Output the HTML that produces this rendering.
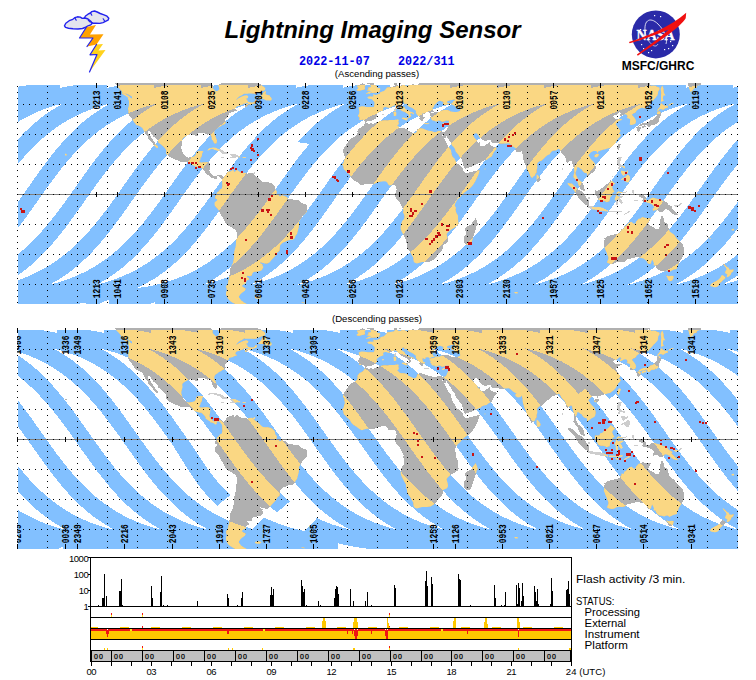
<!DOCTYPE html>
<html><head><meta charset="utf-8"><title>Lightning Imaging Sensor</title>
<style>html,body{margin:0;padding:0;background:#fff}svg{display:block}.pl{font-family:"Liberation Mono","DejaVu Sans Mono",monospace;font-size:7.9px;font-weight:bold;fill:#000}text{font-family:"Liberation Sans",Arial,sans-serif}</style></head><body>
<svg width="756" height="680" viewBox="0 0 756 680">
<rect width="756" height="680" fill="#fff"/>
<g stroke="#2222ee" stroke-width="1.4" fill="#e4e4ee" stroke-linejoin="round">
<polygon points="84.3,18.0 85.5,16.0 88.0,14.2 90.4,13.0 91.8,11.6 94.5,11.0 97.2,12.0 100.2,13.5 104.0,14.8 107.0,16.2 108.8,18.2 108.0,20.2 105.5,21.4 103.0,22.6 99.8,23.4 96.0,23.2 93.0,23.2 90.0,22.0 87.5,20.5 85.0,19.2"/>
<polygon points="64.5,25.8 65.8,23.2 69.2,20.7 72.8,19.3 74.8,17.7 77.5,16.8 80.3,17.1 82.2,18.4 85.0,18.0 88.0,19.0 90.5,21.0 92.2,23.2 90.8,24.8 88.0,25.8 85.0,27.5 82.5,28.5 78.0,29.0 73.0,28.8 68.5,28.2 65.5,27.4"/>
</g>
<g stroke="#2222ee" stroke-width="1.2" fill="none" stroke-linecap="round">
<polyline points="75.0,18.0 76.2,20.2"/>
<polyline points="90.6,13.0 91.8,15.2"/>
<polyline points="103.2,18.8 104.6,21.0"/>
<polyline points="88.3,20.2 90.2,22.0"/>
</g>
<polygon points="86.5,27.0 96.0,25.0 90.0,34.5 103.5,34.2 96.5,44.5 87.0,46.5 93.0,38.0 79.5,38.0" fill="#ffa200"/>
<polygon points="96.5,44.5 103.0,44.0 98.5,50.5 105.5,50.0 89.5,72.0 97.0,54.5 90.0,54.8" fill="#ffd21e"/>
<g stroke="#2222ee" stroke-width="1.2" fill="none" stroke-linecap="round" stroke-linejoin="round">
<polyline points="86.5,27.0 79.5,38.0 93.0,38.0 87.0,46.5"/>
<polyline points="96.5,44.5 90.0,54.8 97.0,54.5 89.5,72.0"/>
</g>
<text x="372.5" y="37.5" text-anchor="middle" style="font-family:'Liberation Sans',Arial,sans-serif;font-weight:bold;font-style:italic;font-size:24px" fill="#000">Lightning Imaging Sensor</text>
<text x="299" y="64.8" xml:space="preserve" style="font-family:'Liberation Mono',monospace;font-weight:bold;font-size:11.8px;white-space:pre" fill="#0000e6" transform="translate(0,64.8) scale(1,1.12) translate(0,-64.8)">2022-11-07    2022/311</text>
<text x="377" y="76.8" text-anchor="middle" style="font-size:9.6px" fill="#000">(Ascending passes)</text>
<text x="377" y="321.8" text-anchor="middle" style="font-size:9.6px" fill="#000">(Descending passes)</text>
<circle cx="655.8" cy="34.4" r="24" fill="#2a2aa8"/>
<path d="M646,36 C642,20 650,16 658,24 C664,30 668,38 666,44" fill="none" stroke="#fff" stroke-width="0.8"/>
<path d="M648,40 C652,46 656,48 658,44" fill="none" stroke="#fff" stroke-width="0.6"/>
<rect x="654" y="15" width="1.2" height="1.2" fill="#fff"/>
<rect x="660" y="16" width="1.2" height="1.2" fill="#fff"/>
<rect x="641" y="44" width="1.2" height="1.2" fill="#fff"/>
<rect x="643" y="48" width="1.2" height="1.2" fill="#fff"/>
<rect x="648" y="52" width="1.2" height="1.2" fill="#fff"/>
<rect x="651" y="50" width="1.2" height="1.2" fill="#fff"/>
<rect x="668" y="48" width="1.2" height="1.2" fill="#fff"/>
<rect x="672" y="45" width="1.2" height="1.2" fill="#fff"/>
<rect x="664" y="49" width="1.2" height="1.2" fill="#fff"/>
<rect x="670" y="41" width="1.2" height="1.2" fill="#fff"/>
<rect x="640" y="29" width="1.2" height="1.2" fill="#fff"/>
<text x="655.6" y="39.6" text-anchor="middle" style="font-family:'Liberation Serif',serif;font-weight:bold;font-size:14.5px" fill="#fff" stroke="#fff" stroke-width="0.35" textLength="38" lengthAdjust="spacingAndGlyphs">NASA</text>
<path d="M686.2,12.7 L685.7,18.3 C680.1,27.1 662.9,39.0 637.8,55.7 L636.9,54.4 C648.4,46.3 659.6,37.7 668.9,29.4 C655.6,34.7 642.4,39.7 629.7,43.3 L628.9,41.9 C649.7,35.4 670.2,26.5 686.2,12.7 Z" fill="#f01010"/>
<text x="658" y="70" text-anchor="middle" style="font-weight:bold;font-size:12px" fill="#000">MSFC/GHRC</text>
<defs><clipPath id="mc1"><rect x="18" y="83" width="720" height="221"/></clipPath>
<clipPath id="lc1"><path d="M107.0,78.0 114.0,83.0 116.4,85.4 119.0,88.0 121.4,91.0 122.0,92.4 127.0,94.0 130.6,95.6 132.0,96.4 132.2,99.0 130.0,97.6 127.6,97.2 128.8,100.4 129.0,102.0 128.8,106.0 128.0,108.4 128.6,112.0 128.2,113.2 129.4,115.4 131.0,117.6 132.0,118.4 132.2,119.6 133.2,120.8 134.4,122.6 135.8,124.0 135.8,125.0 138.4,125.6 140.2,126.4 142.4,128.0 142.8,129.0 143.8,130.6 145.0,133.0 146.6,135.0 148.6,137.0 147.4,138.4 149.6,140.4 152.2,142.0 153.0,144.4 155.4,146.8 157.0,148.2 158.0,147.6 157.8,146.0 155.8,144.8 155.0,142.4 153.0,140.0 151.4,137.6 149.8,135.6 148.0,133.6 147.4,130.8 149.0,131.0 150.6,131.6 151.8,134.4 153.6,136.8 155.8,138.4 157.6,140.6 158.6,142.8 161.0,144.4 163.4,146.4 165.4,148.8 166.4,151.0 166.0,153.0 167.0,155.0 169.4,156.8 172.6,158.2 175.0,159.6 177.4,160.4 180.0,161.4 183.0,162.2 185.0,162.6 187.0,161.8 189.0,162.0 191.0,163.6 192.6,165.0 195.0,166.2 197.0,166.8 199.0,167.4 201.4,167.8 202.0,168.2 203.8,170.0 205.4,171.8 205.6,173.6 207.0,174.4 208.0,175.2 209.8,176.2 210.6,177.4 211.6,177.6 213.0,177.8 214.0,178.6 215.2,179.4 216.4,179.2 217.0,178.0 216.4,177.2 217.8,176.2 219.0,176.4 220.4,177.6 221.0,178.8 221.8,179.6 222.2,181.0 222.2,183.0 222.4,186.0 221.8,188.4 219.8,189.4 219.2,191.0 217.0,192.4 216.6,194.0 215.8,195.6 215.2,197.0 215.4,198.6 217.0,199.2 217.2,200.6 216.2,201.0 214.6,202.6 214.6,205.0 215.4,206.6 217.4,208.4 219.0,210.8 220.4,213.6 221.8,216.4 223.4,218.8 224.6,221.2 226.0,223.6 228.6,225.6 231.8,227.6 234.4,229.2 236.2,230.8 236.8,234.0 236.6,238.0 236.0,242.0 235.8,246.0 234.4,251.0 234.0,255.0 233.8,259.0 233.0,263.0 231.4,266.0 230.2,268.8 230.2,272.0 229.4,275.0 229.4,277.6 228.6,280.0 228.0,283.0 226.0,286.6 227.0,290.0 226.0,294.0 227.0,297.0 228.6,299.6 231.0,301.6 233.0,302.8 236.0,304.4 240.0,305.6 243.4,304.8 246.6,303.8 244.0,302.4 241.0,300.4 240.0,299.0 238.6,297.0 239.8,294.8 241.8,292.8 245.0,290.4 245.6,288.4 243.0,287.2 241.8,286.0 243.8,284.2 246.0,283.2 246.6,280.8 248.2,279.8 249.6,279.2 248.6,278.0 247.0,277.0 247.0,275.8 249.4,276.2 251.8,275.6 252.6,273.0 254.0,271.8 258.0,271.4 261.4,270.4 263.0,268.0 263.4,266.8 262.4,265.6 262.6,264.4 260.4,263.2 260.2,262.0 262.0,262.8 265.0,263.6 267.4,263.6 269.8,262.2 271.4,260.0 274.0,257.2 276.0,255.0 277.4,252.6 279.6,250.6 279.8,247.6 280.2,245.2 282.4,243.0 285.0,241.8 287.4,240.6 290.6,240.0 293.0,239.8 295.0,238.0 295.4,236.0 297.0,234.0 297.8,231.0 298.6,228.0 299.0,225.0 299.0,222.0 300.0,220.0 301.4,218.0 303.0,215.6 305.0,214.0 306.6,212.0 307.2,210.0 307.4,208.0 307.0,206.0 306.4,204.4 304.0,204.0 302.0,203.2 300.0,201.4 297.4,199.8 294.6,199.8 292.0,199.4 289.4,198.8 287.8,199.6 287.4,197.6 285.0,196.2 282.0,195.2 280.0,196.4 278.0,194.6 276.4,193.6 277.0,191.6 275.4,189.6 274.6,186.0 273.0,184.4 271.0,183.0 268.0,182.2 265.4,182.2 263.0,182.0 261.0,180.4 259.0,178.2 257.0,177.0 255.0,175.4 253.4,174.0 252.0,172.8 249.4,173.0 247.4,173.8 245.0,172.8 242.0,173.0 240.4,172.2 238.6,171.0 237.0,169.8 235.8,171.0 234.4,172.0 233.4,170.8 234.4,169.4 232.6,170.0 230.6,171.4 228.4,171.6 227.0,172.2 225.8,173.6 225.4,175.4 223.4,176.8 222.6,176.4 221.4,175.4 219.4,175.0 217.8,174.8 216.2,175.8 214.6,176.4 213.4,176.0 212.2,175.2 211.0,174.0 209.8,172.2 209.4,170.4 210.0,168.4 210.2,166.0 210.6,164.0 209.0,162.4 207.0,162.2 205.0,162.2 203.0,162.4 201.0,162.6 199.8,162.2 199.2,161.4 200.4,159.6 200.6,157.4 201.4,157.2 202.0,155.0 202.2,153.2 203.4,151.6 202.2,151.0 200.0,151.0 197.4,151.4 196.2,152.4 195.8,154.4 194.6,156.2 193.0,156.8 191.0,157.2 188.6,157.6 187.0,157.0 185.4,156.4 184.2,155.2 183.0,153.4 182.0,151.0 181.4,149.0 181.4,146.4 182.0,144.0 182.6,142.0 182.2,139.6 183.0,138.0 185.0,136.8 187.0,135.6 189.0,134.8 191.0,134.4 193.0,134.8 195.0,135.6 196.6,135.8 198.2,136.0 198.6,135.0 197.8,133.6 200.0,133.2 202.0,133.4 204.4,133.2 206.0,134.0 207.0,134.8 208.6,134.0 209.8,134.6 211.4,136.0 211.6,138.0 211.8,139.4 213.0,140.8 213.6,142.2 214.6,143.6 216.2,143.6 216.8,142.4 217.0,140.4 216.2,138.4 215.8,137.0 214.8,135.0 214.2,133.0 214.6,131.0 215.6,129.4 217.4,128.4 219.0,127.0 221.0,126.2 222.6,124.8 224.2,124.4 225.4,123.6 225.6,122.2 225.0,120.2 224.4,119.0 225.4,118.8 226.6,117.4 227.0,116.4 227.4,115.8 228.8,114.4 229.0,113.0 231.0,112.4 233.0,112.0 234.6,111.0 235.8,110.8 237.0,110.6 236.6,109.8 235.4,109.2 235.6,107.8 236.6,106.6 238.6,106.0 240.6,105.2 242.6,104.6 243.2,103.8 245.4,103.4 247.4,102.8 248.2,103.4 245.4,104.8 244.8,106.4 246.2,107.0 248.6,105.0 251.0,104.4 254.0,103.6 256.6,102.4 257.0,100.8 255.8,100.0 254.2,102.2 252.0,102.6 249.6,102.2 247.8,101.4 247.2,99.8 245.6,98.6 247.4,98.2 248.4,96.4 247.0,95.6 244.0,95.8 241.0,97.0 238.0,98.8 236.0,100.0 237.4,98.0 239.4,96.2 242.0,95.0 244.0,93.6 247.0,93.4 250.0,93.4 253.0,93.6 256.0,93.6 258.4,92.4 261.0,91.4 263.0,91.0 265.0,90.0 265.4,88.4 264.0,86.8 262.4,86.0 261.0,84.6 258.0,83.4 256.0,82.4 254.0,80.0 253.0,78.0 223.0,78.0 222.0,80.0 223.8,82.0 221.0,83.6 218.0,85.0 219.0,87.0 219.4,89.0 218.0,90.8 216.0,91.4 214.0,89.6 212.6,88.0 212.6,85.0 212.0,83.6 207.0,83.2 202.0,82.0 199.0,80.4 193.0,79.6 191.0,77.0ZM258.4,98.6 261.0,98.8 264.0,99.0 266.0,100.2 269.0,100.4 271.0,100.6 271.6,99.0 271.0,97.6 269.8,96.4 270.0,95.4 267.4,95.0 265.4,94.0 265.8,92.4 266.0,90.8 264.0,92.0 262.4,93.6 261.2,95.4 260.0,96.8 258.4,98.6ZM207.2,150.4 208.6,148.8 211.0,148.0 213.0,147.6 215.8,147.8 218.0,149.0 221.0,149.4 223.0,150.8 225.0,151.8 227.0,152.6 228.6,153.6 226.6,154.2 224.0,154.2 221.6,154.2 222.6,152.8 220.6,152.4 219.4,150.8 216.6,150.4 214.0,149.6 212.0,148.8 210.0,149.6 209.0,150.2ZM228.2,156.8 230.0,157.6 233.0,157.8 234.2,158.6 235.8,157.4 238.0,157.2 240.2,157.6 240.2,156.6 238.6,156.0 237.4,155.2 235.8,154.4 233.6,154.2 231.4,154.2 230.2,154.6 231.6,155.6 232.2,156.8 230.0,156.8ZM220.4,157.2 222.6,157.0 224.4,157.8 223.0,158.4 221.0,158.0ZM242.6,157.0 245.6,157.2 245.4,158.0 242.6,158.1ZM255.0,297.0 258.0,296.4 261.4,297.0 260.0,298.4 257.0,298.4 255.0,298.0ZM120.4,92.4 125.0,93.6 128.0,95.4 130.2,97.2 127.4,96.8 124.0,95.0ZM253.4,172.6 255.2,172.4 255.0,173.8 253.2,173.8ZM393.0,78.0 393.2,80.4 393.4,82.0 393.4,83.2 394.2,84.2 394.8,85.8 393.6,86.4 391.4,86.8 389.0,87.2 387.0,87.6 386.4,88.8 385.2,90.0 384.0,91.2 382.0,91.8 380.4,92.2 380.2,93.4 378.6,94.2 377.2,94.8 374.8,95.2 374.4,94.6 373.2,94.6 373.8,96.6 371.6,96.8 369.8,96.4 367.6,97.0 367.8,98.0 368.6,98.4 371.0,98.8 372.4,99.6 373.2,100.8 374.6,101.8 374.6,104.0 374.4,106.0 373.6,107.2 371.0,107.2 368.0,107.2 365.0,106.8 362.0,106.6 360.4,106.8 358.6,107.8 359.2,109.6 359.6,111.6 359.4,113.6 358.2,115.4 358.2,116.6 359.4,117.2 359.4,118.8 359.2,120.0 361.2,120.0 363.0,119.6 364.2,120.4 365.0,121.6 366.0,121.9 367.0,121.2 368.4,120.6 371.0,120.6 372.8,120.4 373.8,119.4 375.6,118.6 376.6,117.0 377.4,116.4 376.4,115.0 377.2,113.6 378.6,112.4 380.0,111.6 381.6,111.0 383.4,110.2 383.4,109.2 383.0,108.0 384.2,107.2 385.8,107.0 387.4,107.4 389.0,107.8 390.6,107.4 392.0,106.4 393.6,105.8 394.8,105.2 396.2,105.8 397.4,106.4 398.0,108.0 399.2,109.2 400.6,110.0 401.8,110.8 403.0,111.6 404.6,111.8 405.6,112.6 407.0,113.6 408.2,114.0 408.8,115.4 409.2,116.4 408.4,117.6 408.4,118.2 409.4,118.0 410.2,116.8 411.2,116.2 411.2,115.2 410.2,114.6 410.6,113.4 411.4,113.0 413.0,114.0 413.8,114.4 414.0,113.6 413.0,112.6 411.6,112.0 410.0,111.4 408.8,110.8 409.2,110.2 407.6,110.2 406.4,109.6 405.2,108.8 404.6,107.6 404.0,106.8 402.6,106.0 401.6,105.2 401.6,104.0 402.0,103.0 403.4,102.6 404.4,102.6 404.2,103.8 405.0,104.2 405.8,103.4 406.8,104.0 407.4,105.4 408.8,106.6 410.0,107.0 411.6,107.8 413.0,108.6 414.2,109.4 415.4,110.2 416.0,111.2 415.8,112.8 416.8,114.2 417.4,115.2 418.6,116.4 419.6,117.4 419.4,118.4 420.2,119.6 420.6,120.4 421.6,120.8 422.4,120.6 423.0,121.0 423.2,120.0 422.6,119.0 423.6,118.8 424.2,118.2 425.0,118.6 425.2,117.6 424.0,117.0 422.8,116.2 422.8,115.2 422.4,114.2 422.4,113.2 423.6,113.6 424.6,114.0 425.6,113.4 425.6,112.4 427.4,112.2 429.0,112.4 429.4,113.4 430.4,113.0 431.6,112.2 433.4,112.0 435.0,111.9 433.4,111.0 433.0,110.0 432.4,108.8 432.8,107.6 434.0,106.8 434.2,105.6 434.8,104.4 436.2,103.6 437.0,102.4 438.4,101.2 440.0,100.8 441.4,101.2 443.0,101.8 444.0,102.2 442.4,103.0 443.8,104.0 444.0,104.8 445.6,105.0 447.4,104.2 449.6,103.6 450.0,103.2 448.0,103.2 447.0,102.2 447.4,101.2 449.4,100.6 451.8,100.0 453.8,99.6 455.4,99.6 454.6,100.6 453.0,101.6 452.6,102.8 451.4,103.4 450.6,103.8 452.0,104.6 454.0,105.4 455.6,106.4 457.0,107.2 459.0,108.0 460.2,109.2 460.2,110.8 458.6,111.6 456.6,112.0 454.6,112.0 452.6,111.8 450.6,111.4 449.0,110.6 447.2,110.0 445.0,110.0 443.0,110.2 441.0,110.8 439.4,111.8 437.4,111.6 435.2,111.7 435.0,112.2 433.4,113.0 431.0,113.2 429.8,113.8 429.4,115.0 430.6,116.0 430.6,117.2 429.8,117.4 431.4,118.6 431.6,120.0 433.0,120.6 434.2,120.6 435.4,121.4 437.4,121.4 438.4,120.4 440.2,120.8 442.0,121.8 444.0,121.6 446.2,120.4 448.0,120.8 449.2,120.6 448.8,122.0 448.6,124.0 448.8,125.4 448.0,126.8 447.2,128.0 446.8,129.4 446.2,130.6 445.4,131.4 444.0,131.8 442.2,131.8 441.6,131.4 440.6,131.0 439.0,130.8 437.6,131.2 436.2,132.0 434.6,132.2 432.6,131.6 430.6,131.0 428.6,130.8 427.0,130.2 425.0,129.6 423.4,128.8 421.0,128.2 419.4,128.4 417.4,129.4 417.0,131.0 416.0,132.8 414.0,133.4 412.0,132.4 410.0,131.6 408.0,130.4 407.4,129.2 405.4,128.6 403.0,128.2 401.0,128.2 399.4,127.6 398.6,126.6 397.2,125.6 398.2,124.8 399.0,123.2 398.2,121.2 399.2,120.0 397.6,119.6 396.4,119.4 394.4,120.1 392.0,120.0 389.6,120.0 387.4,120.4 385.0,120.2 382.8,120.4 380.2,121.0 377.4,122.0 375.4,122.6 373.0,123.8 371.0,123.4 368.6,123.6 366.6,123.0 366.2,122.3 365.2,122.4 364.4,124.2 363.2,126.0 361.4,127.2 359.6,128.0 358.4,129.4 357.4,131.0 357.6,133.0 357.2,134.4 355.4,136.2 353.8,137.4 351.4,138.2 350.2,139.6 348.6,141.2 347.4,142.8 345.8,145.0 345.0,146.6 343.6,148.8 343.0,151.0 343.0,152.0 344.4,153.6 344.4,155.6 344.8,158.0 344.0,161.0 343.4,163.0 342.2,164.6 343.4,166.4 343.6,168.4 344.0,169.6 345.8,171.0 347.0,172.4 348.4,173.6 349.8,174.8 350.6,176.4 351.8,178.2 353.6,180.0 355.4,181.0 357.4,182.4 359.4,184.0 361.8,185.2 364.0,184.6 366.6,183.8 369.0,183.6 371.0,184.0 373.0,184.4 375.0,183.6 377.4,182.6 379.4,181.8 382.0,181.4 384.0,181.2 386.0,181.6 387.4,182.8 388.0,184.2 389.4,185.4 391.4,185.2 393.4,185.0 394.6,185.2 396.0,186.2 396.4,187.6 396.6,189.6 396.0,191.6 395.6,193.2 394.6,195.2 395.4,197.2 396.6,199.2 398.6,201.4 400.2,203.0 401.0,204.6 401.6,206.0 402.6,208.0 403.6,210.6 403.0,212.4 404.2,214.8 404.6,217.0 404.0,219.0 402.2,221.0 401.4,223.6 400.8,226.0 400.6,228.4 401.4,231.0 403.0,234.0 404.2,236.4 405.8,239.0 406.0,241.6 406.8,244.4 407.4,247.6 409.0,250.4 410.6,252.8 412.0,255.6 413.4,257.8 413.4,259.8 413.8,261.8 414.8,262.8 417.0,263.6 419.4,262.8 422.0,262.0 424.6,262.0 427.0,262.0 428.6,261.8 430.6,261.4 432.6,260.2 434.6,258.8 436.4,256.8 438.2,254.6 439.4,252.8 441.0,251.2 442.4,249.6 442.8,246.6 442.4,245.6 444.0,244.4 447.0,243.2 448.0,241.2 447.8,238.6 447.0,236.0 446.6,234.0 448.2,232.0 450.6,230.0 453.0,228.4 455.6,227.0 457.6,225.6 458.6,223.6 458.2,221.0 458.0,218.4 458.0,215.6 457.0,214.0 456.0,212.0 455.6,209.6 456.0,207.6 454.8,206.0 455.0,204.0 455.8,202.4 457.0,200.0 458.6,198.4 460.0,197.2 461.4,195.4 463.4,193.4 465.6,191.6 468.0,190.0 470.0,188.2 472.2,186.0 474.0,183.6 475.6,180.8 476.6,178.4 477.8,176.0 479.0,173.2 479.6,170.4 477.6,170.4 475.0,171.2 472.0,171.8 469.0,172.6 466.6,173.2 464.6,172.4 463.4,171.0 463.6,170.0 462.8,168.6 461.4,167.0 459.6,165.2 458.0,164.0 456.6,162.8 455.4,160.8 454.6,158.6 453.0,157.2 451.8,155.0 451.4,152.4 451.0,150.0 449.4,148.0 448.2,146.0 447.0,144.0 445.8,142.0 445.0,140.0 444.2,138.4 443.0,136.8 442.2,135.2 442.0,134.0 442.4,134.6 443.4,136.4 444.4,137.6 445.4,138.4 446.0,137.0 446.8,135.0 447.0,136.4 447.4,138.0 448.6,139.6 450.0,141.6 451.2,143.6 452.0,145.4 453.6,147.0 455.0,149.0 455.4,151.0 456.6,152.8 458.2,154.4 459.4,156.4 461.0,158.4 462.0,160.4 462.6,162.4 463.0,164.4 463.6,166.8 464.0,168.4 466.0,168.6 467.4,168.0 470.0,167.2 472.6,166.2 475.0,165.0 477.6,163.8 480.6,162.8 481.6,161.4 484.0,160.4 486.6,160.0 488.0,158.8 490.0,157.6 492.0,156.2 492.6,154.4 493.6,152.8 494.8,151.0 496.4,149.2 496.6,148.2 494.8,146.8 492.6,146.4 490.6,145.4 489.8,144.0 489.6,141.6 489.2,142.0 488.6,143.2 486.6,144.2 485.0,145.6 482.6,145.6 480.6,145.8 480.0,144.8 480.2,142.4 479.2,142.0 478.6,143.6 477.6,142.4 477.4,140.8 476.0,139.4 474.6,138.0 473.4,136.0 472.8,134.8 474.0,134.0 475.4,133.2 477.0,133.6 478.4,135.2 479.6,137.6 481.4,139.0 483.4,140.4 485.6,140.8 487.6,140.4 489.6,139.8 491.0,140.4 491.6,142.4 494.0,143.0 497.0,143.2 500.0,143.6 503.0,143.6 506.0,143.4 509.0,143.2 510.6,144.2 511.6,145.2 513.0,146.4 514.6,147.4 516.6,148.8 515.0,149.4 516.0,151.6 518.0,152.4 520.6,152.0 521.6,150.4 522.2,152.0 522.6,154.0 522.6,156.0 523.0,158.0 523.6,160.0 524.2,162.0 525.0,164.0 526.0,166.0 526.8,168.4 528.0,170.8 529.4,173.6 530.2,176.0 531.4,177.6 532.2,177.9 533.4,176.4 535.0,175.4 535.6,173.6 536.6,172.4 536.6,170.0 537.4,167.6 537.2,165.0 537.4,163.0 539.0,161.6 541.4,160.8 543.4,159.0 545.4,157.0 547.4,155.2 549.8,154.2 551.0,152.2 552.6,150.8 554.6,150.6 556.6,150.2 558.2,148.8 559.6,149.2 560.6,150.8 561.4,152.4 562.6,154.0 564.2,155.6 565.4,157.2 565.8,159.4 565.6,161.8 567.4,162.6 569.4,161.6 571.0,160.2 572.2,161.4 572.4,163.6 573.2,166.0 574.0,168.4 574.2,170.4 574.4,172.6 573.6,175.0 573.4,177.2 574.2,178.0 575.8,180.0 577.0,181.2 577.8,182.8 578.4,184.8 579.4,187.2 580.2,188.8 582.0,190.0 583.8,191.2 585.4,191.4 585.2,189.6 584.0,188.0 583.8,186.0 583.4,184.0 582.2,182.4 581.0,181.4 579.4,180.2 577.8,179.0 577.0,176.8 575.8,174.8 575.4,173.0 576.2,171.0 577.0,168.8 577.6,167.0 579.0,167.4 580.2,168.6 581.8,169.6 583.0,171.6 584.6,172.8 586.6,173.2 587.2,174.8 586.6,176.6 588.0,176.0 590.0,174.6 591.4,173.2 593.0,172.4 595.0,171.0 595.6,168.8 595.6,166.4 595.0,164.0 593.6,161.8 592.2,160.4 590.6,158.8 589.6,157.0 588.4,155.4 589.4,154.0 591.0,152.2 593.4,151.0 595.4,151.0 596.6,151.2 597.4,153.2 598.2,151.6 600.6,150.6 603.0,149.8 605.4,149.2 607.4,148.4 610.0,148.0 612.0,146.4 614.0,144.8 615.6,143.0 616.6,141.0 618.2,138.4 619.8,137.0 620.8,135.0 620.0,134.0 618.6,133.4 620.0,132.2 620.6,130.6 619.0,129.2 617.8,127.0 615.8,124.6 616.6,122.8 618.0,121.6 620.0,120.4 622.0,120.0 621.6,119.0 619.0,118.8 616.6,119.4 615.0,119.2 614.0,117.6 612.4,116.4 613.4,115.6 615.4,115.2 618.0,113.6 619.8,112.2 621.4,113.0 620.0,115.2 619.8,116.4 622.0,115.4 624.0,114.6 625.6,114.2 627.0,115.0 627.6,117.0 626.6,118.0 628.6,118.4 630.2,119.2 630.0,121.0 630.0,123.0 629.6,124.6 631.4,125.0 633.4,124.4 635.2,123.8 636.0,122.0 635.8,120.0 634.6,118.0 633.0,116.0 631.8,114.8 633.4,113.6 635.6,112.6 636.4,111.0 638.0,109.4 640.0,108.4 642.0,107.6 644.0,108.4 646.6,107.2 648.6,105.6 650.2,103.6 652.2,101.6 653.8,99.4 655.6,97.4 657.4,95.6 658.0,93.6 658.2,91.4 659.6,89.4 659.4,87.6 657.4,87.0 655.4,85.8 653.0,85.6 651.4,86.0 650.2,84.4 648.0,84.6 650.6,83.2 652.6,81.6 655.0,80.0 657.0,78.0 419.0,78.0 419.0,80.0 419.0,82.0 419.0,83.4 417.8,84.6 416.2,85.2 414.6,85.2 413.8,84.4 411.0,84.6 409.0,85.4 406.0,86.0 404.2,85.0 402.0,85.2 400.0,86.0 398.6,86.0 397.0,85.0 396.6,84.0 397.0,82.8 397.8,81.6 398.2,80.0 398.0,78.0ZM366.6,76.8 370.6,76.6 370.2,78.4 373.0,78.8 372.6,80.8 371.4,81.8 372.6,82.4 373.8,83.6 374.6,85.0 376.4,85.8 377.0,86.8 377.6,88.0 380.0,88.2 380.4,89.2 379.6,90.4 378.6,91.2 379.8,91.6 379.0,92.2 377.0,92.4 374.6,92.6 373.0,92.8 371.0,92.6 369.8,93.4 368.0,93.4 366.6,94.0 365.6,93.8 367.0,93.0 368.4,91.8 370.6,91.6 371.0,91.0 369.0,90.8 366.6,90.6 367.6,89.8 368.8,89.0 368.0,88.2 368.2,87.4 370.6,87.2 371.0,86.2 370.2,85.0 370.2,84.2 367.4,84.4 367.0,83.4 367.4,82.4 365.8,83.2 365.4,81.6 365.8,80.0 365.4,78.8ZM364.8,89.6 365.0,88.0 364.6,86.4 365.8,85.2 364.6,83.6 362.2,83.4 360.2,84.4 359.8,85.4 357.0,85.6 357.4,87.2 358.4,87.8 357.8,88.8 356.4,89.8 357.4,90.8 360.0,90.8 362.2,90.0ZM401.8,118.0 403.6,117.6 406.0,118.0 408.2,117.4 407.4,119.2 407.2,120.6 405.6,120.2 403.4,119.2 402.0,118.8ZM393.4,112.0 395.4,111.6 396.4,112.8 396.2,115.4 395.2,116.0 393.8,116.0 393.8,114.0ZM394.2,109.2 395.8,108.0 396.0,110.0 395.4,111.2 394.2,110.4ZM424.0,122.8 426.0,123.0 428.2,123.4 429.6,123.6 429.0,124.0 426.6,124.2 424.2,123.6ZM441.6,124.0 442.8,123.4 444.2,123.2 446.2,122.6 445.0,124.0 444.2,124.4 443.0,124.8 441.8,124.4ZM381.8,114.8 383.2,114.2 383.8,114.8 383.2,115.4 382.2,115.2ZM343.2,137.4 344.8,137.0 344.2,138.0 346.2,137.8 346.0,138.4 345.0,138.0ZM475.6,218.2 477.0,221.0 477.8,224.6 476.6,225.2 476.4,227.6 475.6,230.0 474.6,233.0 473.6,236.0 472.6,239.2 471.4,242.4 470.6,244.2 468.0,245.2 465.6,244.2 464.4,242.4 463.6,239.2 464.0,236.8 465.6,234.4 465.8,232.0 465.0,229.6 466.0,226.8 468.2,225.8 470.0,225.0 472.0,223.4 473.0,221.6 474.6,219.6ZM536.6,174.6 537.6,175.0 539.4,177.0 540.6,179.0 540.2,181.2 538.2,182.1 537.0,181.4 536.6,179.0 536.6,176.8ZM594.4,155.4 596.0,154.0 598.2,153.8 599.0,154.8 598.0,156.4 596.2,157.6 594.4,156.8ZM619.0,143.6 620.8,144.0 620.2,146.0 619.6,148.0 618.6,150.0 617.4,148.4 617.4,146.4 618.2,144.8ZM657.0,111.0 657.6,109.4 659.4,107.6 660.4,105.0 661.0,103.0 663.0,104.8 665.6,106.0 667.6,105.6 668.0,107.4 666.0,108.0 663.6,109.6 663.4,110.0 661.0,109.0 659.4,109.2 658.6,110.4ZM659.8,111.2 660.8,113.0 661.0,115.0 660.0,117.4 659.0,119.0 658.6,120.4 658.6,122.4 657.0,123.4 656.6,124.2 655.4,123.6 654.6,124.8 653.4,124.8 651.6,124.8 650.8,125.4 649.6,126.8 648.6,127.0 647.4,126.4 647.4,125.2 646.0,124.6 644.0,125.2 642.0,125.4 640.6,126.2 639.0,126.2 638.8,125.2 641.0,124.0 643.4,123.0 646.0,122.8 648.0,122.8 649.0,122.0 650.6,120.4 651.6,119.0 651.0,120.4 653.0,119.8 654.6,118.4 656.0,117.0 657.0,115.0 657.0,113.0 657.6,111.6 659.0,111.4ZM641.4,127.2 642.6,126.0 644.6,125.4 646.2,125.6 646.4,126.4 645.4,127.4 644.0,127.2 643.0,128.4 642.2,128.2ZM636.4,127.6 637.8,126.4 639.0,126.4 640.4,127.0 640.8,128.4 640.0,130.4 639.0,131.4 638.2,131.8 637.4,131.2 637.4,129.6 636.6,128.6ZM661.0,102.0 664.0,100.4 662.6,99.0 663.0,97.0 663.6,95.0 665.4,95.6 664.0,93.0 663.6,91.0 663.6,89.0 663.0,87.2 662.4,85.4 661.4,87.0 660.6,89.0 661.0,91.0 661.2,93.0 661.0,95.0 661.0,97.0 661.0,99.0ZM690.4,92.0 692.6,90.4 694.0,88.4 696.6,87.6 697.0,86.0 700.4,84.8 701.2,83.0 702.0,81.4 703.0,80.0 703.0,78.0 690.0,78.0 689.0,80.0 688.2,82.0 688.0,84.0 688.6,86.0 689.0,88.0 689.8,90.0ZM618.2,157.0 620.0,156.8 621.6,157.2 621.4,159.4 620.2,162.0 620.4,164.0 622.0,165.6 624.6,166.4 625.2,168.4 623.6,168.0 622.0,166.8 620.2,166.6 618.4,166.4 618.2,164.8 617.0,164.0 616.8,161.6 617.8,160.0ZM621.0,179.6 623.0,178.0 625.0,177.2 627.6,174.6 629.6,176.4 630.0,179.6 629.0,181.4 628.0,182.6 627.0,182.2 625.4,181.4 624.0,179.0 621.6,180.2ZM621.0,170.4 623.2,171.0 625.0,171.6 627.0,171.6 628.2,169.2 628.0,172.4 627.0,174.0 625.0,174.0 623.6,175.6 622.2,174.4 621.0,172.8ZM611.4,177.2 613.4,175.4 615.8,172.6 616.4,171.2 615.0,173.4 613.0,176.0 611.6,177.6ZM617.8,167.0 619.6,167.2 620.0,169.0 619.0,169.6 618.2,168.4ZM595.4,190.4 597.4,190.6 599.4,190.4 600.0,188.8 602.6,187.8 604.6,185.6 606.6,184.2 608.6,182.8 610.6,180.2 612.2,181.0 613.6,182.4 615.4,183.6 613.8,184.6 612.6,186.0 612.2,187.6 613.0,189.6 614.6,192.0 613.0,192.4 612.2,194.0 611.8,195.8 610.2,197.2 609.8,199.2 609.4,201.2 608.6,201.6 606.6,202.2 604.6,201.0 602.6,200.8 600.6,200.8 598.6,199.8 597.4,198.0 597.0,196.4 595.4,195.0 595.0,193.2 594.8,191.6ZM567.6,182.8 569.8,183.4 572.0,183.6 573.8,185.6 576.2,187.6 578.2,189.6 580.2,190.4 582.2,192.0 584.0,193.4 584.6,195.2 586.0,197.0 587.4,198.8 589.0,200.0 588.8,202.4 588.6,205.6 587.0,205.6 585.8,205.2 584.2,203.6 582.2,202.2 580.6,200.4 579.0,198.6 577.8,196.4 576.6,194.4 575.0,192.4 574.2,190.4 572.6,189.0 571.4,187.4 569.4,186.0 567.8,184.2ZM587.6,207.2 589.4,205.8 591.4,206.0 593.6,206.8 596.0,207.6 598.2,207.0 600.2,207.4 602.6,207.8 604.6,209.2 606.0,209.6 606.0,211.4 604.0,210.8 601.4,210.6 599.0,210.4 596.6,209.6 594.2,209.4 591.8,209.2 589.8,208.6ZM616.6,192.4 618.6,191.4 621.4,192.0 624.2,192.2 626.6,191.0 627.4,191.2 626.0,193.0 623.4,193.4 620.2,193.0 617.6,193.4 617.2,195.6 618.6,196.6 620.6,195.8 623.4,195.6 623.6,196.4 621.4,197.6 620.2,198.0 621.6,200.4 622.6,202.4 621.8,203.6 620.2,203.2 619.0,201.0 618.6,199.6 617.8,200.4 617.8,203.2 617.6,205.0 616.2,205.2 615.8,203.0 616.0,201.0 614.6,199.6 615.4,197.6 616.0,195.6 616.6,194.0ZM639.0,195.6 641.6,194.8 644.0,195.4 645.4,197.0 646.6,200.4 648.2,200.6 650.6,198.6 653.0,197.4 656.0,198.4 659.0,199.2 662.0,200.4 665.0,201.6 667.4,202.8 668.6,204.8 671.0,206.0 672.6,207.2 671.4,208.4 673.0,210.0 675.0,212.0 677.0,214.0 678.6,215.2 676.6,215.0 674.0,214.4 671.4,213.0 669.4,210.8 667.0,209.6 665.0,209.2 663.4,210.8 662.0,212.4 659.4,212.4 657.4,210.4 655.0,210.2 653.0,210.8 652.6,208.8 654.2,207.6 653.0,205.2 650.6,203.6 648.0,202.8 645.0,201.8 643.0,202.0 642.2,200.8 642.6,199.6 644.6,198.8 642.0,198.4 640.0,197.0 639.0,196.4ZM632.0,190.2 633.0,189.6 634.2,191.0 634.6,193.0 633.4,195.4 632.6,193.6 632.0,192.0ZM624.0,214.6 626.0,213.0 628.6,211.4 631.0,210.8 630.0,212.0 627.0,213.6 625.0,214.6ZM609.0,210.8 612.0,210.6 615.0,210.8 618.0,210.6 621.0,210.6 623.0,210.6 622.0,211.6 618.6,211.8 615.0,211.6 612.0,212.0 609.0,211.8ZM606.0,210.2 608.2,210.4 607.6,211.6 606.2,211.0ZM633.0,200.0 636.0,199.6 638.6,200.6 637.0,201.2 634.0,201.0ZM673.6,205.2 676.0,205.0 678.6,205.0 681.0,202.4 681.8,203.6 680.6,205.2 678.0,206.6 675.0,206.6ZM604.4,238.0 605.4,237.6 608.0,236.0 610.6,235.2 613.4,234.6 616.2,234.0 619.0,233.2 621.4,230.4 621.6,228.4 624.0,228.8 624.2,226.8 626.0,226.0 627.4,224.0 629.4,222.4 631.4,221.8 633.4,223.6 635.4,223.8 636.2,221.6 637.6,220.0 638.6,218.8 640.6,218.4 642.2,217.0 644.0,217.6 646.0,218.0 648.6,218.2 650.6,218.4 650.0,220.4 648.8,222.4 648.0,224.0 650.0,225.6 652.6,226.8 655.0,228.4 657.0,229.4 658.6,229.0 659.6,226.4 660.2,223.6 660.2,220.8 660.6,218.4 661.4,216.0 662.2,215.4 663.4,217.6 664.2,219.6 664.6,222.4 666.2,222.8 667.6,224.4 668.0,227.0 669.0,229.0 669.6,231.6 671.4,232.8 673.8,234.4 675.0,236.0 676.6,238.6 678.6,240.4 680.0,242.0 682.6,244.4 683.4,246.4 684.0,249.0 684.0,251.6 683.4,254.0 682.6,257.0 681.4,259.2 680.0,261.0 679.0,262.8 678.0,265.0 677.0,267.2 676.8,269.0 674.0,269.6 671.4,270.8 669.6,272.0 668.0,270.8 666.4,270.4 664.2,271.6 661.8,270.8 659.4,270.4 657.4,269.2 656.2,267.2 655.4,265.4 653.4,265.2 654.0,263.2 653.0,261.2 652.2,259.6 651.4,261.6 651.0,263.6 649.4,264.0 648.0,263.6 647.0,261.6 645.4,260.0 643.4,258.4 641.0,258.0 638.6,257.2 636.0,257.2 633.0,258.2 630.0,258.6 627.0,259.6 624.6,261.6 622.0,262.0 619.0,261.8 616.6,262.2 614.0,263.8 611.6,264.0 609.0,263.6 607.0,262.6 607.4,261.0 608.4,259.0 608.4,257.0 607.4,255.0 606.8,253.0 605.4,250.0 604.6,247.6 603.8,246.0 604.2,244.0 603.8,242.0 604.6,240.0ZM666.4,275.4 669.0,276.2 671.4,275.8 673.6,276.0 673.4,278.4 672.2,280.4 670.0,281.2 668.2,280.0 667.4,278.0 666.6,276.6ZM722.4,262.8 724.0,264.0 726.0,266.0 727.4,267.2 728.6,267.6 729.4,269.4 731.4,269.8 733.6,269.2 733.4,271.2 731.4,272.8 730.8,274.4 729.0,276.4 727.4,277.2 726.6,276.6 727.4,274.6 725.0,273.0 725.4,271.2 726.6,269.6 725.8,267.6 723.8,265.2ZM722.4,275.0 724.0,276.0 725.6,277.4 724.6,279.0 722.6,280.6 721.4,282.0 719.4,283.2 719.0,285.0 717.4,286.4 715.0,287.2 712.6,286.8 710.2,286.0 711.0,284.0 713.4,282.4 716.2,281.0 719.0,279.2 720.6,277.2 721.4,275.6ZM705.0,234.4 707.4,236.0 710.0,238.0 711.0,238.8 709.4,238.4 706.6,236.4ZM731.6,229.0 734.0,228.8 734.2,230.4 731.8,230.4ZM65.0,153.6 67.0,154.4 66.0,156.0 65.0,155.0ZM483.8,168.8 486.0,168.8 485.0,169.4ZM514.6,292.0 517.4,292.2 517.8,293.2 515.0,293.2ZM301.0,302.0 304.0,302.4 305.0,303.6 302.0,302.8ZM194.2,194.8 195.2,195.0 195.0,196.0 194.0,195.8ZM668.0,105.2 671.0,103.6 674.0,102.8 673.0,103.8 669.6,105.4ZM562.4,167.2 563.0,170.0 562.2,170.8 562.0,169.0ZM587.6,197.6 589.4,197.2 590.4,199.6 588.6,199.0ZM615.0,213.0 617.4,213.0 618.6,214.4 616.6,214.6ZM399.0,82.6 401.6,81.8 402.2,82.8 401.2,83.8 399.4,83.6ZM402.2,81.6 402.8,82.8 403.6,83.3 405.4,83.2 405.8,82.2 408.0,81.8 409.8,81.0 410.0,78.0 400.0,78.0 401.0,79.4Z" clip-rule="evenodd"/></clipPath>
<g id="sw1"><path d="M30.9,288.2 37.8,288.9 44.7,289.3 51.7,289.5 58.7,289.4 65.7,289.1 72.6,288.6 79.4,287.8 86.1,286.8 92.6,285.5 99.0,284.1 105.1,282.4 111.1,280.5 116.9,278.5 122.5,276.3 127.8,273.9 133.0,271.4 137.9,268.8 142.7,266.0 147.2,263.1 151.6,260.1 155.8,257.0 159.9,253.8 163.8,250.6 167.5,247.3 171.2,243.9 174.7,240.4 178.1,236.9 181.4,233.3 184.6,229.7 187.7,226.0 190.8,222.4 193.8,218.6 196.7,214.9 199.6,211.1 202.4,207.3 205.3,203.5 208.0,199.6 210.8,195.8 213.5,191.9 216.3,188.0 219.0,184.2 221.8,180.3 224.5,176.4 227.3,172.5 230.1,168.6 233.0,164.8 235.9,160.9 238.8,157.1 241.8,153.3 244.9,149.5 248.0,145.7 251.3,142.0 254.7,138.3 258.1,134.6 261.7,131.0 265.5,127.4 269.4,123.9 273.4,120.5 277.7,117.1 282.1,113.8 286.8,110.7 291.7,107.6 296.9,104.6 302.4,101.7 308.1,99.0 314.1,96.5 320.5,94.1 327.1,91.9 334.1,89.9 341.4,88.1 348.9,86.6 356.7,85.3 364.8,84.3 373.0,83.6 381.4,83.1 389.8,83.0 389.8,98.5 382.8,98.6 375.8,99.0 369.0,99.6 362.2,100.4 355.5,101.5 349.0,102.8 342.7,104.3 336.6,106.0 330.7,107.9 324.9,110.0 319.4,112.3 314.1,114.7 309.0,117.2 304.1,119.9 299.4,122.7 294.9,125.6 290.6,128.6 286.4,131.7 282.4,134.9 278.5,138.2 274.8,141.5 271.2,144.9 267.7,148.4 264.3,152.0 261.0,155.5 257.8,159.2 254.7,162.8 251.6,166.5 248.7,170.2 245.7,174.0 242.9,177.8 240.0,181.6 237.2,185.4 234.5,189.3 231.7,193.1 229.0,197.0 226.2,200.9 223.5,204.8 220.7,208.6 218.0,212.5 215.2,216.4 212.4,220.3 209.5,224.1 206.6,228.0 203.6,231.8 200.6,235.6 197.5,239.4 194.3,243.2 191.1,246.9 187.7,250.6 184.2,254.2 180.6,257.8 176.8,261.4 172.8,264.9 168.7,268.3 164.4,271.6 159.9,274.9 155.2,278.1 150.2,281.1 145.0,284.1 139.5,286.9 133.7,289.6 127.6,292.1 121.2,294.5 114.4,296.6 107.4,298.5 100.0,300.3 92.4,301.7 84.5,303.0 76.4,303.9 68.2,304.6 59.8,305.0 51.4,305.0 43.0,304.8 34.6,304.3 26.5,303.5Z"/><path d="M-16.2,288.2 -9.3,288.9 -2.4,289.3 4.6,289.5 11.6,289.4 18.5,289.1 25.4,288.6 32.2,287.8 38.9,286.8 45.5,285.5 51.8,284.1 58.0,282.4 64.0,280.5 69.8,278.5 75.3,276.3 80.7,273.9 85.8,271.4 90.8,268.8 95.5,266.0 100.1,263.1 104.5,260.1 108.7,257.0 112.7,253.8 116.6,250.6 120.4,247.3 124.0,243.9 127.5,240.4 130.9,236.9 134.2,233.3 137.5,229.7 140.6,226.0 143.6,222.4 146.6,218.6 149.6,214.9 152.5,211.1 155.3,207.3 158.1,203.5 160.9,199.6 163.7,195.8 166.4,191.9 169.1,188.0 171.9,184.2 174.6,180.3 177.4,176.4 180.2,172.5 183.0,168.6 185.8,164.8 188.7,160.9 191.7,157.1 194.7,153.3 197.7,149.5 200.9,145.7 204.2,142.0 207.5,138.3 211.0,134.6 214.6,131.0 218.3,127.4 222.2,123.9 226.3,120.5 230.5,117.1 235.0,113.8 239.7,110.7 244.6,107.6 249.8,104.6 255.2,101.7 260.9,99.0 267.0,96.5 273.3,94.1 280.0,91.9 286.9,89.9 294.2,88.1 301.8,86.6 309.6,85.3 317.7,84.3 325.9,83.6 334.2,83.1 342.6,83.0 342.6,98.5 335.7,98.6 328.7,99.0 321.8,99.6 315.0,100.4 308.4,101.5 301.9,102.8 295.6,104.3 289.4,106.0 283.5,107.9 277.8,110.0 272.3,112.3 267.0,114.7 261.9,117.2 257.0,119.9 252.3,122.7 247.8,125.6 243.4,128.6 239.2,131.7 235.2,134.9 231.4,138.2 227.6,141.5 224.0,144.9 220.5,148.4 217.1,152.0 213.9,155.5 210.7,159.2 207.6,162.8 204.5,166.5 201.5,170.2 198.6,174.0 195.7,177.8 192.9,181.6 190.1,185.4 187.3,189.3 184.6,193.1 181.8,197.0 179.1,200.9 176.3,204.8 173.6,208.6 170.8,212.5 168.0,216.4 165.2,220.3 162.4,224.1 159.5,228.0 156.5,231.8 153.5,235.6 150.4,239.4 147.2,243.2 143.9,246.9 140.5,250.6 137.0,254.2 133.4,257.8 129.6,261.4 125.7,264.9 121.6,268.3 117.3,271.6 112.8,274.9 108.1,278.1 103.1,281.1 97.8,284.1 92.3,286.9 86.5,289.6 80.4,292.1 74.0,294.5 67.3,296.6 60.2,298.5 52.9,300.3 45.3,301.7 37.4,303.0 29.3,303.9 21.0,304.6 12.7,305.0 4.2,305.0 -4.2,304.8 -12.5,304.3 -20.7,303.5Z"/><path d="M703.8,288.2 710.7,288.9 717.6,289.3 724.6,289.5 731.6,289.4 738.5,289.1 745.4,288.6 752.2,287.8 758.9,286.8 765.5,285.5 771.8,284.1 778.0,282.4 784.0,280.5 789.8,278.5 795.3,276.3 800.7,273.9 805.8,271.4 810.8,268.8 815.5,266.0 820.1,263.1 824.5,260.1 828.7,257.0 832.7,253.8 836.6,250.6 840.4,247.3 844.0,243.9 847.5,240.4 850.9,236.9 854.2,233.3 857.5,229.7 860.6,226.0 863.6,222.4 866.6,218.6 869.6,214.9 872.5,211.1 875.3,207.3 878.1,203.5 880.9,199.6 883.7,195.8 886.4,191.9 889.1,188.0 891.9,184.2 894.6,180.3 897.4,176.4 900.2,172.5 903.0,168.6 905.8,164.8 908.7,160.9 911.7,157.1 914.7,153.3 917.7,149.5 920.9,145.7 924.2,142.0 927.5,138.3 931.0,134.6 934.6,131.0 938.3,127.4 942.2,123.9 946.3,120.5 950.5,117.1 955.0,113.8 959.7,110.7 964.6,107.6 969.8,104.6 975.2,101.7 980.9,99.0 987.0,96.5 993.3,94.1 1000.0,91.9 1006.9,89.9 1014.2,88.1 1021.8,86.6 1029.6,85.3 1037.7,84.3 1045.9,83.6 1054.2,83.1 1062.6,83.0 1062.6,98.5 1055.7,98.6 1048.7,99.0 1041.8,99.6 1035.0,100.4 1028.4,101.5 1021.9,102.8 1015.6,104.3 1009.4,106.0 1003.5,107.9 997.8,110.0 992.3,112.3 987.0,114.7 981.9,117.2 977.0,119.9 972.3,122.7 967.8,125.6 963.4,128.6 959.2,131.7 955.2,134.9 951.4,138.2 947.6,141.5 944.0,144.9 940.5,148.4 937.1,152.0 933.9,155.5 930.7,159.2 927.6,162.8 924.5,166.5 921.5,170.2 918.6,174.0 915.7,177.8 912.9,181.6 910.1,185.4 907.3,189.3 904.6,193.1 901.8,197.0 899.1,200.9 896.3,204.8 893.6,208.6 890.8,212.5 888.0,216.4 885.2,220.3 882.4,224.1 879.5,228.0 876.5,231.8 873.5,235.6 870.4,239.4 867.2,243.2 863.9,246.9 860.5,250.6 857.0,254.2 853.4,257.8 849.6,261.4 845.7,264.9 841.6,268.3 837.3,271.6 832.8,274.9 828.1,278.1 823.1,281.1 817.8,284.1 812.3,286.9 806.5,289.6 800.4,292.1 794.0,294.5 787.3,296.6 780.2,298.5 772.9,300.3 765.3,301.7 757.4,303.0 749.3,303.9 741.0,304.6 732.7,305.0 724.2,305.0 715.8,304.8 707.5,304.3 699.3,303.5Z"/><path d="M-63.3,288.2 -56.5,288.9 -49.5,289.3 -42.6,289.5 -35.6,289.4 -28.6,289.1 -21.7,288.6 -14.9,287.8 -8.2,286.8 -1.7,285.5 4.7,284.1 10.9,282.4 16.8,280.5 22.6,278.5 28.2,276.3 33.5,273.9 38.7,271.4 43.6,268.8 48.4,266.0 52.9,263.1 57.3,260.1 61.5,257.0 65.6,253.8 69.5,250.6 73.2,247.3 76.9,243.9 80.4,240.4 83.8,236.9 87.1,233.3 90.3,229.7 93.4,226.0 96.5,222.4 99.5,218.6 102.4,214.9 105.3,211.1 108.2,207.3 111.0,203.5 113.8,199.6 116.5,195.8 119.3,191.9 122.0,188.0 124.7,184.2 127.5,180.3 130.2,176.4 133.0,172.5 135.8,168.6 138.7,164.8 141.6,160.9 144.5,157.1 147.5,153.3 150.6,149.5 153.8,145.7 157.0,142.0 160.4,138.3 163.8,134.6 167.4,131.0 171.2,127.4 175.1,123.9 179.1,120.5 183.4,117.1 187.9,113.8 192.5,110.7 197.5,107.6 202.6,104.6 208.1,101.7 213.8,99.0 219.8,96.5 226.2,94.1 232.8,91.9 239.8,89.9 247.1,88.1 254.6,86.6 262.5,85.3 270.5,84.3 278.7,83.6 287.1,83.1 295.5,83.0 295.5,98.5 288.5,98.6 281.6,99.0 274.7,99.6 267.9,100.4 261.3,101.5 254.8,102.8 248.4,104.3 242.3,106.0 236.4,107.9 230.6,110.0 225.1,112.3 219.8,114.7 214.7,117.2 209.8,119.9 205.1,122.7 200.6,125.6 196.3,128.6 192.1,131.7 188.1,134.9 184.2,138.2 180.5,141.5 176.9,144.9 173.4,148.4 170.0,152.0 166.7,155.5 163.5,159.2 160.4,162.8 157.4,166.5 154.4,170.2 151.5,174.0 148.6,177.8 145.8,181.6 143.0,185.4 140.2,189.3 137.4,193.1 134.7,197.0 131.9,200.9 129.2,204.8 126.5,208.6 123.7,212.5 120.9,216.4 118.1,220.3 115.2,224.1 112.3,228.0 109.4,231.8 106.3,235.6 103.2,239.4 100.1,243.2 96.8,246.9 93.4,250.6 89.9,254.2 86.3,257.8 82.5,261.4 78.6,264.9 74.5,268.3 70.2,271.6 65.6,274.9 60.9,278.1 55.9,281.1 50.7,284.1 45.2,286.9 39.4,289.6 33.3,292.1 26.9,294.5 20.1,296.6 13.1,298.5 5.8,300.3 -1.9,301.7 -9.7,303.0 -17.8,303.9 -26.1,304.6 -34.5,305.0 -42.9,305.0 -51.3,304.8 -59.6,304.3 -67.8,303.5Z"/><path d="M656.7,288.2 663.5,288.9 670.5,289.3 677.4,289.5 684.4,289.4 691.4,289.1 698.3,288.6 705.1,287.8 711.8,286.8 718.3,285.5 724.7,284.1 730.9,282.4 736.8,280.5 742.6,278.5 748.2,276.3 753.5,273.9 758.7,271.4 763.6,268.8 768.4,266.0 772.9,263.1 777.3,260.1 781.5,257.0 785.6,253.8 789.5,250.6 793.2,247.3 796.9,243.9 800.4,240.4 803.8,236.9 807.1,233.3 810.3,229.7 813.4,226.0 816.5,222.4 819.5,218.6 822.4,214.9 825.3,211.1 828.2,207.3 831.0,203.5 833.8,199.6 836.5,195.8 839.3,191.9 842.0,188.0 844.7,184.2 847.5,180.3 850.2,176.4 853.0,172.5 855.8,168.6 858.7,164.8 861.6,160.9 864.5,157.1 867.5,153.3 870.6,149.5 873.8,145.7 877.0,142.0 880.4,138.3 883.8,134.6 887.4,131.0 891.2,127.4 895.1,123.9 899.1,120.5 903.4,117.1 907.9,113.8 912.5,110.7 917.5,107.6 922.6,104.6 928.1,101.7 933.8,99.0 939.8,96.5 946.2,94.1 952.8,91.9 959.8,89.9 967.1,88.1 974.6,86.6 982.5,85.3 990.5,84.3 998.7,83.6 1007.1,83.1 1015.5,83.0 1015.5,98.5 1008.5,98.6 1001.6,99.0 994.7,99.6 987.9,100.4 981.3,101.5 974.8,102.8 968.4,104.3 962.3,106.0 956.4,107.9 950.6,110.0 945.1,112.3 939.8,114.7 934.7,117.2 929.8,119.9 925.1,122.7 920.6,125.6 916.3,128.6 912.1,131.7 908.1,134.9 904.2,138.2 900.5,141.5 896.9,144.9 893.4,148.4 890.0,152.0 886.7,155.5 883.5,159.2 880.4,162.8 877.4,166.5 874.4,170.2 871.5,174.0 868.6,177.8 865.8,181.6 863.0,185.4 860.2,189.3 857.4,193.1 854.7,197.0 851.9,200.9 849.2,204.8 846.5,208.6 843.7,212.5 840.9,216.4 838.1,220.3 835.2,224.1 832.3,228.0 829.4,231.8 826.3,235.6 823.2,239.4 820.1,243.2 816.8,246.9 813.4,250.6 809.9,254.2 806.3,257.8 802.5,261.4 798.6,264.9 794.5,268.3 790.2,271.6 785.6,274.9 780.9,278.1 775.9,281.1 770.7,284.1 765.2,286.9 759.4,289.6 753.3,292.1 746.9,294.5 740.1,296.6 733.1,298.5 725.8,300.3 718.1,301.7 710.3,303.0 702.2,303.9 693.9,304.6 685.5,305.0 677.1,305.0 668.7,304.8 660.4,304.3 652.2,303.5Z"/><path d="M-110.5,288.2 -103.6,288.9 -96.7,289.3 -89.7,289.5 -82.7,289.4 -75.7,289.1 -68.8,288.6 -62.0,287.8 -55.4,286.8 -48.8,285.5 -42.5,284.1 -36.3,282.4 -30.3,280.5 -24.5,278.5 -19.0,276.3 -13.6,273.9 -8.5,271.4 -3.5,268.8 1.2,266.0 5.8,263.1 10.2,260.1 14.4,257.0 18.4,253.8 22.3,250.6 26.1,247.3 29.7,243.9 33.3,240.4 36.7,236.9 40.0,233.3 43.2,229.7 46.3,226.0 49.4,222.4 52.4,218.6 55.3,214.9 58.2,211.1 61.0,207.3 63.8,203.5 66.6,199.6 69.4,195.8 72.1,191.9 74.9,188.0 77.6,184.2 80.3,180.3 83.1,176.4 85.9,172.5 88.7,168.6 91.5,164.8 94.4,160.9 97.4,157.1 100.4,153.3 103.5,149.5 106.6,145.7 109.9,142.0 113.2,138.3 116.7,134.6 120.3,131.0 124.0,127.4 127.9,123.9 132.0,120.5 136.3,117.1 140.7,113.8 145.4,110.7 150.3,107.6 155.5,104.6 160.9,101.7 166.7,99.0 172.7,96.5 179.0,94.1 185.7,91.9 192.7,89.9 199.9,88.1 207.5,86.6 215.3,85.3 223.4,84.3 231.6,83.6 240.0,83.1 248.4,83.0 248.4,98.5 241.4,98.6 234.4,99.0 227.5,99.6 220.8,100.4 214.1,101.5 207.6,102.8 201.3,104.3 195.2,106.0 189.2,107.9 183.5,110.0 178.0,112.3 172.7,114.7 167.6,117.2 162.7,119.9 158.0,122.7 153.5,125.6 149.1,128.6 145.0,131.7 140.9,134.9 137.1,138.2 133.3,141.5 129.7,144.9 126.2,148.4 122.9,152.0 119.6,155.5 116.4,159.2 113.3,162.8 110.2,166.5 107.2,170.2 104.3,174.0 101.4,177.8 98.6,181.6 95.8,185.4 93.0,189.3 90.3,193.1 87.5,197.0 84.8,200.9 82.1,204.8 79.3,208.6 76.5,212.5 73.8,216.4 70.9,220.3 68.1,224.1 65.2,228.0 62.2,231.8 59.2,235.6 56.1,239.4 52.9,243.2 49.6,246.9 46.3,250.6 42.8,254.2 39.1,257.8 35.4,261.4 31.4,264.9 27.3,268.3 23.0,271.6 18.5,274.9 13.8,278.1 8.8,281.1 3.6,284.1 -1.9,286.9 -7.7,289.6 -13.8,292.1 -20.3,294.5 -27.0,296.6 -34.0,298.5 -41.4,300.3 -49.0,301.7 -56.9,303.0 -65.0,303.9 -73.2,304.6 -81.6,305.0 -90.0,305.0 -98.4,304.8 -106.8,304.3 -115.0,303.5Z"/><path d="M609.5,288.2 616.4,288.9 623.3,289.3 630.3,289.5 637.3,289.4 644.3,289.1 651.2,288.6 658.0,287.8 664.6,286.8 671.2,285.5 677.5,284.1 683.7,282.4 689.7,280.5 695.5,278.5 701.0,276.3 706.4,273.9 711.5,271.4 716.5,268.8 721.2,266.0 725.8,263.1 730.2,260.1 734.4,257.0 738.4,253.8 742.3,250.6 746.1,247.3 749.7,243.9 753.3,240.4 756.7,236.9 760.0,233.3 763.2,229.7 766.3,226.0 769.4,222.4 772.4,218.6 775.3,214.9 778.2,211.1 781.0,207.3 783.8,203.5 786.6,199.6 789.4,195.8 792.1,191.9 794.9,188.0 797.6,184.2 800.3,180.3 803.1,176.4 805.9,172.5 808.7,168.6 811.5,164.8 814.4,160.9 817.4,157.1 820.4,153.3 823.5,149.5 826.6,145.7 829.9,142.0 833.2,138.3 836.7,134.6 840.3,131.0 844.0,127.4 847.9,123.9 852.0,120.5 856.3,117.1 860.7,113.8 865.4,110.7 870.3,107.6 875.5,104.6 880.9,101.7 886.7,99.0 892.7,96.5 899.0,94.1 905.7,91.9 912.7,89.9 919.9,88.1 927.5,86.6 935.3,85.3 943.4,84.3 951.6,83.6 960.0,83.1 968.4,83.0 968.4,98.5 961.4,98.6 954.4,99.0 947.5,99.6 940.8,100.4 934.1,101.5 927.6,102.8 921.3,104.3 915.2,106.0 909.2,107.9 903.5,110.0 898.0,112.3 892.7,114.7 887.6,117.2 882.7,119.9 878.0,122.7 873.5,125.6 869.1,128.6 865.0,131.7 860.9,134.9 857.1,138.2 853.3,141.5 849.7,144.9 846.2,148.4 842.9,152.0 839.6,155.5 836.4,159.2 833.3,162.8 830.2,166.5 827.2,170.2 824.3,174.0 821.4,177.8 818.6,181.6 815.8,185.4 813.0,189.3 810.3,193.1 807.5,197.0 804.8,200.9 802.1,204.8 799.3,208.6 796.5,212.5 793.8,216.4 790.9,220.3 788.1,224.1 785.2,228.0 782.2,231.8 779.2,235.6 776.1,239.4 772.9,243.2 769.6,246.9 766.3,250.6 762.8,254.2 759.1,257.8 755.4,261.4 751.4,264.9 747.3,268.3 743.0,271.6 738.5,274.9 733.8,278.1 728.8,281.1 723.6,284.1 718.1,286.9 712.3,289.6 706.2,292.1 699.7,294.5 693.0,296.6 686.0,298.5 678.6,300.3 671.0,301.7 663.1,303.0 655.0,303.9 646.8,304.6 638.4,305.0 630.0,305.0 621.6,304.8 613.2,304.3 605.0,303.5Z"/><path d="M-157.6,288.2 -150.8,288.9 -143.8,289.3 -136.8,289.5 -129.9,289.4 -122.9,289.1 -116.0,288.6 -109.2,287.8 -102.5,286.8 -96.0,285.5 -89.6,284.1 -83.4,282.4 -77.4,280.5 -71.7,278.5 -66.1,276.3 -60.7,273.9 -55.6,271.4 -50.7,268.8 -45.9,266.0 -41.3,263.1 -37.0,260.1 -32.8,257.0 -28.7,253.8 -24.8,250.6 -21.0,247.3 -17.4,243.9 -13.9,240.4 -10.5,236.9 -7.2,233.3 -4.0,229.7 -0.8,226.0 2.2,222.4 5.2,218.6 8.2,214.9 11.0,211.1 13.9,207.3 16.7,203.5 19.5,199.6 22.2,195.8 25.0,191.9 27.7,188.0 30.5,184.2 33.2,180.3 36.0,176.4 38.7,172.5 41.6,168.6 44.4,164.8 47.3,160.9 50.2,157.1 53.2,153.3 56.3,149.5 59.5,145.7 62.7,142.0 66.1,138.3 69.6,134.6 73.2,131.0 76.9,127.4 80.8,123.9 84.9,120.5 89.1,117.1 93.6,113.8 98.3,110.7 103.2,107.6 108.3,104.6 113.8,101.7 119.5,99.0 125.6,96.5 131.9,94.1 138.6,91.9 145.5,89.9 152.8,88.1 160.4,86.6 168.2,85.3 176.2,84.3 184.5,83.6 192.8,83.1 201.2,83.0 201.2,98.5 194.2,98.6 187.3,99.0 180.4,99.6 173.6,100.4 167.0,101.5 160.5,102.8 154.2,104.3 148.0,106.0 142.1,107.9 136.4,110.0 130.9,112.3 125.5,114.7 120.4,117.2 115.6,119.9 110.8,122.7 106.3,125.6 102.0,128.6 97.8,131.7 93.8,134.9 89.9,138.2 86.2,141.5 82.6,144.9 79.1,148.4 75.7,152.0 72.4,155.5 69.2,159.2 66.1,162.8 63.1,166.5 60.1,170.2 57.2,174.0 54.3,177.8 51.5,181.6 48.7,185.4 45.9,189.3 43.1,193.1 40.4,197.0 37.7,200.9 34.9,204.8 32.2,208.6 29.4,212.5 26.6,216.4 23.8,220.3 20.9,224.1 18.0,228.0 15.1,231.8 12.1,235.6 9.0,239.4 5.8,243.2 2.5,246.9 -0.9,250.6 -4.4,254.2 -8.0,257.8 -11.8,261.4 -15.7,264.9 -19.8,268.3 -24.1,271.6 -28.6,274.9 -33.4,278.1 -38.3,281.1 -43.6,284.1 -49.1,286.9 -54.9,289.6 -61.0,292.1 -67.4,294.5 -74.1,296.6 -81.2,298.5 -88.5,300.3 -96.1,301.7 -104.0,303.0 -112.1,303.9 -120.4,304.6 -128.8,305.0 -137.2,305.0 -145.6,304.8 -153.9,304.3 -162.1,303.5Z"/><path d="M562.4,288.2 569.2,288.9 576.2,289.3 583.2,289.5 590.1,289.4 597.1,289.1 604.0,288.6 610.8,287.8 617.5,286.8 624.0,285.5 630.4,284.1 636.6,282.4 642.6,280.5 648.3,278.5 653.9,276.3 659.3,273.9 664.4,271.4 669.3,268.8 674.1,266.0 678.7,263.1 683.0,260.1 687.2,257.0 691.3,253.8 695.2,250.6 699.0,247.3 702.6,243.9 706.1,240.4 709.5,236.9 712.8,233.3 716.0,229.7 719.2,226.0 722.2,222.4 725.2,218.6 728.2,214.9 731.0,211.1 733.9,207.3 736.7,203.5 739.5,199.6 742.2,195.8 745.0,191.9 747.7,188.0 750.5,184.2 753.2,180.3 756.0,176.4 758.7,172.5 761.6,168.6 764.4,164.8 767.3,160.9 770.2,157.1 773.2,153.3 776.3,149.5 779.5,145.7 782.7,142.0 786.1,138.3 789.6,134.6 793.2,131.0 796.9,127.4 800.8,123.9 804.9,120.5 809.1,117.1 813.6,113.8 818.3,110.7 823.2,107.6 828.3,104.6 833.8,101.7 839.5,99.0 845.6,96.5 851.9,94.1 858.6,91.9 865.5,89.9 872.8,88.1 880.4,86.6 888.2,85.3 896.2,84.3 904.5,83.6 912.8,83.1 921.2,83.0 921.2,98.5 914.2,98.6 907.3,99.0 900.4,99.6 893.6,100.4 887.0,101.5 880.5,102.8 874.2,104.3 868.0,106.0 862.1,107.9 856.4,110.0 850.9,112.3 845.5,114.7 840.4,117.2 835.6,119.9 830.8,122.7 826.3,125.6 822.0,128.6 817.8,131.7 813.8,134.9 809.9,138.2 806.2,141.5 802.6,144.9 799.1,148.4 795.7,152.0 792.4,155.5 789.2,159.2 786.1,162.8 783.1,166.5 780.1,170.2 777.2,174.0 774.3,177.8 771.5,181.6 768.7,185.4 765.9,189.3 763.1,193.1 760.4,197.0 757.7,200.9 754.9,204.8 752.2,208.6 749.4,212.5 746.6,216.4 743.8,220.3 740.9,224.1 738.0,228.0 735.1,231.8 732.1,235.6 729.0,239.4 725.8,243.2 722.5,246.9 719.1,250.6 715.6,254.2 712.0,257.8 708.2,261.4 704.3,264.9 700.2,268.3 695.9,271.6 691.4,274.9 686.6,278.1 681.7,281.1 676.4,284.1 670.9,286.9 665.1,289.6 659.0,292.1 652.6,294.5 645.9,296.6 638.8,298.5 631.5,300.3 623.9,301.7 616.0,303.0 607.9,303.9 599.6,304.6 591.2,305.0 582.8,305.0 574.4,304.8 566.1,304.3 557.9,303.5Z"/><path d="M-204.8,288.2 -197.9,288.9 -191.0,289.3 -184.0,289.5 -177.0,289.4 -170.0,289.1 -163.1,288.6 -156.3,287.8 -149.6,286.8 -143.1,285.5 -136.7,284.1 -130.6,282.4 -124.6,280.5 -118.8,278.5 -113.2,276.3 -107.9,273.9 -102.7,271.4 -97.8,268.8 -93.0,266.0 -88.5,263.1 -84.1,260.1 -79.9,257.0 -75.8,253.8 -71.9,250.6 -68.2,247.3 -64.5,243.9 -61.0,240.4 -57.6,236.9 -54.3,233.3 -51.1,229.7 -48.0,226.0 -44.9,222.4 -41.9,218.6 -39.0,214.9 -36.1,211.1 -33.3,207.3 -30.4,203.5 -27.7,199.6 -24.9,195.8 -22.2,191.9 -19.4,188.0 -16.7,184.2 -13.9,180.3 -11.2,176.4 -8.4,172.5 -5.6,168.6 -2.7,164.8 0.2,160.9 3.1,157.1 6.1,153.3 9.2,149.5 12.3,145.7 15.6,142.0 19.0,138.3 22.4,134.6 26.0,131.0 29.8,127.4 33.7,123.9 37.7,120.5 42.0,117.1 46.4,113.8 51.1,110.7 56.0,107.6 61.2,104.6 66.7,101.7 72.4,99.0 78.4,96.5 84.8,94.1 91.4,91.9 98.4,89.9 105.7,88.1 113.2,86.6 121.0,85.3 129.1,84.3 137.3,83.6 145.7,83.1 154.1,83.0 154.1,98.5 147.1,98.6 140.1,99.0 133.3,99.6 126.5,100.4 119.8,101.5 113.3,102.8 107.0,104.3 100.9,106.0 95.0,107.9 89.2,110.0 83.7,112.3 78.4,114.7 73.3,117.2 68.4,119.9 63.7,122.7 59.2,125.6 54.9,128.6 50.7,131.7 46.7,134.9 42.8,138.2 39.1,141.5 35.5,144.9 32.0,148.4 28.6,152.0 25.3,155.5 22.1,159.2 19.0,162.8 15.9,166.5 13.0,170.2 10.0,174.0 7.2,177.8 4.3,181.6 1.5,185.4 -1.2,189.3 -4.0,193.1 -6.7,197.0 -9.5,200.9 -12.2,204.8 -15.0,208.6 -17.7,212.5 -20.5,216.4 -23.3,220.3 -26.2,224.1 -29.1,228.0 -32.1,231.8 -35.1,235.6 -38.2,239.4 -41.4,243.2 -44.6,246.9 -48.0,250.6 -51.5,254.2 -55.1,257.8 -58.9,261.4 -62.9,264.9 -67.0,268.3 -71.3,271.6 -75.8,274.9 -80.5,278.1 -85.5,281.1 -90.7,284.1 -96.2,286.9 -102.0,289.6 -108.1,292.1 -114.5,294.5 -121.3,296.6 -128.3,298.5 -135.7,300.3 -143.3,301.7 -151.2,303.0 -159.3,303.9 -167.5,304.6 -175.9,305.0 -184.3,305.0 -192.7,304.8 -201.1,304.3 -209.2,303.5Z"/><path d="M515.2,288.2 522.1,288.9 529.0,289.3 536.0,289.5 543.0,289.4 550.0,289.1 556.9,288.6 563.7,287.8 570.4,286.8 576.9,285.5 583.3,284.1 589.4,282.4 595.4,280.5 601.2,278.5 606.8,276.3 612.1,273.9 617.3,271.4 622.2,268.8 627.0,266.0 631.5,263.1 635.9,260.1 640.1,257.0 644.2,253.8 648.1,250.6 651.8,247.3 655.5,243.9 659.0,240.4 662.4,236.9 665.7,233.3 668.9,229.7 672.0,226.0 675.1,222.4 678.1,218.6 681.0,214.9 683.9,211.1 686.7,207.3 689.6,203.5 692.3,199.6 695.1,195.8 697.8,191.9 700.6,188.0 703.3,184.2 706.1,180.3 708.8,176.4 711.6,172.5 714.4,168.6 717.3,164.8 720.2,160.9 723.1,157.1 726.1,153.3 729.2,149.5 732.3,145.7 735.6,142.0 739.0,138.3 742.4,134.6 746.0,131.0 749.8,127.4 753.7,123.9 757.7,120.5 762.0,117.1 766.4,113.8 771.1,110.7 776.0,107.6 781.2,104.6 786.7,101.7 792.4,99.0 798.4,96.5 804.8,94.1 811.4,91.9 818.4,89.9 825.7,88.1 833.2,86.6 841.0,85.3 849.1,84.3 857.3,83.6 865.7,83.1 874.1,83.0 874.1,98.5 867.1,98.6 860.1,99.0 853.3,99.6 846.5,100.4 839.8,101.5 833.3,102.8 827.0,104.3 820.9,106.0 815.0,107.9 809.2,110.0 803.7,112.3 798.4,114.7 793.3,117.2 788.4,119.9 783.7,122.7 779.2,125.6 774.9,128.6 770.7,131.7 766.7,134.9 762.8,138.2 759.1,141.5 755.5,144.9 752.0,148.4 748.6,152.0 745.3,155.5 742.1,159.2 739.0,162.8 735.9,166.5 733.0,170.2 730.0,174.0 727.2,177.8 724.3,181.6 721.5,185.4 718.8,189.3 716.0,193.1 713.3,197.0 710.5,200.9 707.8,204.8 705.0,208.6 702.3,212.5 699.5,216.4 696.7,220.3 693.8,224.1 690.9,228.0 687.9,231.8 684.9,235.6 681.8,239.4 678.6,243.2 675.4,246.9 672.0,250.6 668.5,254.2 664.9,257.8 661.1,261.4 657.1,264.9 653.0,268.3 648.7,271.6 644.2,274.9 639.5,278.1 634.5,281.1 629.3,284.1 623.8,286.9 618.0,289.6 611.9,292.1 605.5,294.5 598.7,296.6 591.7,298.5 584.3,300.3 576.7,301.7 568.8,303.0 560.7,303.9 552.5,304.6 544.1,305.0 535.7,305.0 527.3,304.8 518.9,304.3 510.8,303.5Z"/><path d="M-251.9,288.2 -245.0,288.9 -238.1,289.3 -231.1,289.5 -224.1,289.4 -217.2,289.1 -210.3,288.6 -203.5,287.8 -196.8,286.8 -190.2,285.5 -183.9,284.1 -177.7,282.4 -171.7,280.5 -165.9,278.5 -160.4,276.3 -155.0,273.9 -149.9,271.4 -144.9,268.8 -140.2,266.0 -135.6,263.1 -131.2,260.1 -127.0,257.0 -123.0,253.8 -119.1,250.6 -115.3,247.3 -111.7,243.9 -108.2,240.4 -104.8,236.9 -101.5,233.3 -98.2,229.7 -95.1,226.0 -92.1,222.4 -89.1,218.6 -86.1,214.9 -83.2,211.1 -80.4,207.3 -77.6,203.5 -74.8,199.6 -72.0,195.8 -69.3,191.9 -66.6,188.0 -63.8,184.2 -61.1,180.3 -58.3,176.4 -55.5,172.5 -52.7,168.6 -49.9,164.8 -47.0,160.9 -44.0,157.1 -41.0,153.3 -38.0,149.5 -34.8,145.7 -31.5,142.0 -28.2,138.3 -24.7,134.6 -21.1,131.0 -17.4,127.4 -13.5,123.9 -9.4,120.5 -5.2,117.1 -0.7,113.8 4.0,110.7 8.9,107.6 14.1,104.6 19.5,101.7 25.2,99.0 31.3,96.5 37.6,94.1 44.3,91.9 51.2,89.9 58.5,88.1 66.1,86.6 73.9,85.3 82.0,84.3 90.2,83.6 98.5,83.1 106.9,83.0 106.9,98.5 100.0,98.6 93.0,99.0 86.1,99.6 79.3,100.4 72.7,101.5 66.2,102.8 59.9,104.3 53.7,106.0 47.8,107.9 42.1,110.0 36.6,112.3 31.3,114.7 26.2,117.2 21.3,119.9 16.6,122.7 12.1,125.6 7.7,128.6 3.5,131.7 -0.5,134.9 -4.3,138.2 -8.1,141.5 -11.7,144.9 -15.2,148.4 -18.6,152.0 -21.8,155.5 -25.0,159.2 -28.1,162.8 -31.2,166.5 -34.2,170.2 -37.1,174.0 -40.0,177.8 -42.8,181.6 -45.6,185.4 -48.4,189.3 -51.1,193.1 -53.9,197.0 -56.6,200.9 -59.4,204.8 -62.1,208.6 -64.9,212.5 -67.7,216.4 -70.5,220.3 -73.3,224.1 -76.2,228.0 -79.2,231.8 -82.2,235.6 -85.3,239.4 -88.5,243.2 -91.8,246.9 -95.2,250.6 -98.7,254.2 -102.3,257.8 -106.1,261.4 -110.0,264.9 -114.1,268.3 -118.4,271.6 -122.9,274.9 -127.6,278.1 -132.6,281.1 -137.9,284.1 -143.4,286.9 -149.2,289.6 -155.3,292.1 -161.7,294.5 -168.4,296.6 -175.5,298.5 -182.8,300.3 -190.4,301.7 -198.3,303.0 -206.4,303.9 -214.7,304.6 -223.0,305.0 -231.5,305.0 -239.9,304.8 -248.2,304.3 -256.4,303.5Z"/><path d="M468.1,288.2 475.0,288.9 481.9,289.3 488.9,289.5 495.9,289.4 502.8,289.1 509.7,288.6 516.5,287.8 523.2,286.8 529.8,285.5 536.1,284.1 542.3,282.4 548.3,280.5 554.1,278.5 559.6,276.3 565.0,273.9 570.1,271.4 575.1,268.8 579.8,266.0 584.4,263.1 588.8,260.1 593.0,257.0 597.0,253.8 600.9,250.6 604.7,247.3 608.3,243.9 611.8,240.4 615.2,236.9 618.5,233.3 621.8,229.7 624.9,226.0 627.9,222.4 630.9,218.6 633.9,214.9 636.8,211.1 639.6,207.3 642.4,203.5 645.2,199.6 648.0,195.8 650.7,191.9 653.4,188.0 656.2,184.2 658.9,180.3 661.7,176.4 664.5,172.5 667.3,168.6 670.1,164.8 673.0,160.9 676.0,157.1 679.0,153.3 682.0,149.5 685.2,145.7 688.5,142.0 691.8,138.3 695.3,134.6 698.9,131.0 702.6,127.4 706.5,123.9 710.6,120.5 714.8,117.1 719.3,113.8 724.0,110.7 728.9,107.6 734.1,104.6 739.5,101.7 745.2,99.0 751.3,96.5 757.6,94.1 764.3,91.9 771.2,89.9 778.5,88.1 786.1,86.6 793.9,85.3 802.0,84.3 810.2,83.6 818.5,83.1 826.9,83.0 826.9,98.5 820.0,98.6 813.0,99.0 806.1,99.6 799.3,100.4 792.7,101.5 786.2,102.8 779.9,104.3 773.7,106.0 767.8,107.9 762.1,110.0 756.6,112.3 751.3,114.7 746.2,117.2 741.3,119.9 736.6,122.7 732.1,125.6 727.7,128.6 723.5,131.7 719.5,134.9 715.7,138.2 711.9,141.5 708.3,144.9 704.8,148.4 701.4,152.0 698.2,155.5 695.0,159.2 691.9,162.8 688.8,166.5 685.8,170.2 682.9,174.0 680.0,177.8 677.2,181.6 674.4,185.4 671.6,189.3 668.9,193.1 666.1,197.0 663.4,200.9 660.6,204.8 657.9,208.6 655.1,212.5 652.3,216.4 649.5,220.3 646.7,224.1 643.8,228.0 640.8,231.8 637.8,235.6 634.7,239.4 631.5,243.2 628.2,246.9 624.8,250.6 621.3,254.2 617.7,257.8 613.9,261.4 610.0,264.9 605.9,268.3 601.6,271.6 597.1,274.9 592.4,278.1 587.4,281.1 582.1,284.1 576.6,286.9 570.8,289.6 564.7,292.1 558.3,294.5 551.6,296.6 544.5,298.5 537.2,300.3 529.6,301.7 521.7,303.0 513.6,303.9 505.3,304.6 497.0,305.0 488.5,305.0 480.1,304.8 471.8,304.3 463.6,303.5Z"/><path d="M-299.0,288.2 -292.2,288.9 -285.2,289.3 -278.3,289.5 -271.3,289.4 -264.3,289.1 -257.4,288.6 -250.6,287.8 -243.9,286.8 -237.4,285.5 -231.0,284.1 -224.8,282.4 -218.9,280.5 -213.1,278.5 -207.5,276.3 -202.2,273.9 -197.0,271.4 -192.1,268.8 -187.3,266.0 -182.8,263.1 -178.4,260.1 -174.2,257.0 -170.1,253.8 -166.2,250.6 -162.5,247.3 -158.8,243.9 -155.3,240.4 -151.9,236.9 -148.6,233.3 -145.4,229.7 -142.3,226.0 -139.2,222.4 -136.2,218.6 -133.3,214.9 -130.4,211.1 -127.5,207.3 -124.7,203.5 -121.9,199.6 -119.2,195.8 -116.4,191.9 -113.7,188.0 -111.0,184.2 -108.2,180.3 -105.5,176.4 -102.7,172.5 -99.9,168.6 -97.0,164.8 -94.1,160.9 -91.2,157.1 -88.2,153.3 -85.1,149.5 -81.9,145.7 -78.7,142.0 -75.3,138.3 -71.9,134.6 -68.3,131.0 -64.5,127.4 -60.6,123.9 -56.6,120.5 -52.3,117.1 -47.8,113.8 -43.2,110.7 -38.2,107.6 -33.1,104.6 -27.6,101.7 -21.9,99.0 -15.9,96.5 -9.5,94.1 -2.9,91.9 4.1,89.9 11.4,88.1 18.9,86.6 26.8,85.3 34.8,84.3 43.0,83.6 51.4,83.1 59.8,83.0 59.8,98.5 52.8,98.6 45.9,99.0 39.0,99.6 32.2,100.4 25.6,101.5 19.1,102.8 12.7,104.3 6.6,106.0 0.7,107.9 -5.1,110.0 -10.6,112.3 -15.9,114.7 -21.0,117.2 -25.9,119.9 -30.6,122.7 -35.1,125.6 -39.4,128.6 -43.6,131.7 -47.6,134.9 -51.5,138.2 -55.2,141.5 -58.8,144.9 -62.3,148.4 -65.7,152.0 -69.0,155.5 -72.2,159.2 -75.3,162.8 -78.3,166.5 -81.3,170.2 -84.2,174.0 -87.1,177.8 -89.9,181.6 -92.7,185.4 -95.5,189.3 -98.3,193.1 -101.0,197.0 -103.8,200.9 -106.5,204.8 -109.2,208.6 -112.0,212.5 -114.8,216.4 -117.6,220.3 -120.5,224.1 -123.4,228.0 -126.3,231.8 -129.4,235.6 -132.5,239.4 -135.6,243.2 -138.9,246.9 -142.3,250.6 -145.8,254.2 -149.4,257.8 -153.2,261.4 -157.1,264.9 -161.2,268.3 -165.5,271.6 -170.1,274.9 -174.8,278.1 -179.8,281.1 -185.0,284.1 -190.5,286.9 -196.3,289.6 -202.4,292.1 -208.8,294.5 -215.6,296.6 -222.6,298.5 -229.9,300.3 -237.6,301.7 -245.4,303.0 -253.5,303.9 -261.8,304.6 -270.2,305.0 -278.6,305.0 -287.0,304.8 -295.3,304.3 -303.5,303.5Z"/><path d="M421.0,288.2 427.8,288.9 434.8,289.3 441.7,289.5 448.7,289.4 455.7,289.1 462.6,288.6 469.4,287.8 476.1,286.8 482.6,285.5 489.0,284.1 495.2,282.4 501.1,280.5 506.9,278.5 512.5,276.3 517.8,273.9 523.0,271.4 527.9,268.8 532.7,266.0 537.2,263.1 541.6,260.1 545.8,257.0 549.9,253.8 553.8,250.6 557.5,247.3 561.2,243.9 564.7,240.4 568.1,236.9 571.4,233.3 574.6,229.7 577.7,226.0 580.8,222.4 583.8,218.6 586.7,214.9 589.6,211.1 592.5,207.3 595.3,203.5 598.1,199.6 600.8,195.8 603.6,191.9 606.3,188.0 609.0,184.2 611.8,180.3 614.5,176.4 617.3,172.5 620.1,168.6 623.0,164.8 625.9,160.9 628.8,157.1 631.8,153.3 634.9,149.5 638.1,145.7 641.3,142.0 644.7,138.3 648.1,134.6 651.7,131.0 655.5,127.4 659.4,123.9 663.4,120.5 667.7,117.1 672.2,113.8 676.8,110.7 681.8,107.6 686.9,104.6 692.4,101.7 698.1,99.0 704.1,96.5 710.5,94.1 717.1,91.9 724.1,89.9 731.4,88.1 738.9,86.6 746.8,85.3 754.8,84.3 763.0,83.6 771.4,83.1 779.8,83.0 779.8,98.5 772.8,98.6 765.9,99.0 759.0,99.6 752.2,100.4 745.6,101.5 739.1,102.8 732.7,104.3 726.6,106.0 720.7,107.9 714.9,110.0 709.4,112.3 704.1,114.7 699.0,117.2 694.1,119.9 689.4,122.7 684.9,125.6 680.6,128.6 676.4,131.7 672.4,134.9 668.5,138.2 664.8,141.5 661.2,144.9 657.7,148.4 654.3,152.0 651.0,155.5 647.8,159.2 644.7,162.8 641.7,166.5 638.7,170.2 635.8,174.0 632.9,177.8 630.1,181.6 627.3,185.4 624.5,189.3 621.7,193.1 619.0,197.0 616.2,200.9 613.5,204.8 610.8,208.6 608.0,212.5 605.2,216.4 602.4,220.3 599.5,224.1 596.6,228.0 593.7,231.8 590.6,235.6 587.5,239.4 584.4,243.2 581.1,246.9 577.7,250.6 574.2,254.2 570.6,257.8 566.8,261.4 562.9,264.9 558.8,268.3 554.5,271.6 549.9,274.9 545.2,278.1 540.2,281.1 535.0,284.1 529.5,286.9 523.7,289.6 517.6,292.1 511.2,294.5 504.4,296.6 497.4,298.5 490.1,300.3 482.4,301.7 474.6,303.0 466.5,303.9 458.2,304.6 449.8,305.0 441.4,305.0 433.0,304.8 424.7,304.3 416.5,303.5Z"/><path d="M373.8,288.2 380.7,288.9 387.6,289.3 394.6,289.5 401.6,289.4 408.6,289.1 415.5,288.6 422.3,287.8 428.9,286.8 435.5,285.5 441.8,284.1 448.0,282.4 454.0,280.5 459.8,278.5 465.3,276.3 470.7,273.9 475.8,271.4 480.8,268.8 485.5,266.0 490.1,263.1 494.5,260.1 498.7,257.0 502.7,253.8 506.6,250.6 510.4,247.3 514.0,243.9 517.6,240.4 521.0,236.9 524.3,233.3 527.5,229.7 530.6,226.0 533.7,222.4 536.7,218.6 539.6,214.9 542.5,211.1 545.3,207.3 548.1,203.5 550.9,199.6 553.7,195.8 556.4,191.9 559.2,188.0 561.9,184.2 564.6,180.3 567.4,176.4 570.2,172.5 573.0,168.6 575.8,164.8 578.7,160.9 581.7,157.1 584.7,153.3 587.8,149.5 590.9,145.7 594.2,142.0 597.5,138.3 601.0,134.6 604.6,131.0 608.3,127.4 612.2,123.9 616.3,120.5 620.6,117.1 625.0,113.8 629.7,110.7 634.6,107.6 639.8,104.6 645.2,101.7 651.0,99.0 657.0,96.5 663.3,94.1 670.0,91.9 677.0,89.9 684.2,88.1 691.8,86.6 699.6,85.3 707.7,84.3 715.9,83.6 724.3,83.1 732.7,83.0 732.7,98.5 725.7,98.6 718.7,99.0 711.8,99.6 705.1,100.4 698.4,101.5 691.9,102.8 685.6,104.3 679.5,106.0 673.5,107.9 667.8,110.0 662.3,112.3 657.0,114.7 651.9,117.2 647.0,119.9 642.3,122.7 637.8,125.6 633.4,128.6 629.3,131.7 625.2,134.9 621.4,138.2 617.6,141.5 614.0,144.9 610.5,148.4 607.2,152.0 603.9,155.5 600.7,159.2 597.6,162.8 594.5,166.5 591.5,170.2 588.6,174.0 585.7,177.8 582.9,181.6 580.1,185.4 577.3,189.3 574.6,193.1 571.8,197.0 569.1,200.9 566.4,204.8 563.6,208.6 560.8,212.5 558.1,216.4 555.2,220.3 552.4,224.1 549.5,228.0 546.5,231.8 543.5,235.6 540.4,239.4 537.2,243.2 533.9,246.9 530.6,250.6 527.1,254.2 523.4,257.8 519.7,261.4 515.7,264.9 511.6,268.3 507.3,271.6 502.8,274.9 498.1,278.1 493.1,281.1 487.9,284.1 482.4,286.9 476.6,289.6 470.5,292.1 464.0,294.5 457.3,296.6 450.3,298.5 442.9,300.3 435.3,301.7 427.4,303.0 419.3,303.9 411.1,304.6 402.7,305.0 394.3,305.0 385.9,304.8 377.5,304.3 369.3,303.5Z"/><path d="M326.7,288.2 333.5,288.9 340.5,289.3 347.5,289.5 354.4,289.4 361.4,289.1 368.3,288.6 375.1,287.8 381.8,286.8 388.3,285.5 394.7,284.1 400.9,282.4 406.9,280.5 412.6,278.5 418.2,276.3 423.6,273.9 428.7,271.4 433.6,268.8 438.4,266.0 443.0,263.1 447.3,260.1 451.5,257.0 455.6,253.8 459.5,250.6 463.3,247.3 466.9,243.9 470.4,240.4 473.8,236.9 477.1,233.3 480.3,229.7 483.5,226.0 486.5,222.4 489.5,218.6 492.5,214.9 495.3,211.1 498.2,207.3 501.0,203.5 503.8,199.6 506.5,195.8 509.3,191.9 512.0,188.0 514.8,184.2 517.5,180.3 520.3,176.4 523.0,172.5 525.9,168.6 528.7,164.8 531.6,160.9 534.5,157.1 537.5,153.3 540.6,149.5 543.8,145.7 547.0,142.0 550.4,138.3 553.9,134.6 557.5,131.0 561.2,127.4 565.1,123.9 569.2,120.5 573.4,117.1 577.9,113.8 582.6,110.7 587.5,107.6 592.6,104.6 598.1,101.7 603.8,99.0 609.9,96.5 616.2,94.1 622.9,91.9 629.8,89.9 637.1,88.1 644.7,86.6 652.5,85.3 660.5,84.3 668.8,83.6 677.1,83.1 685.5,83.0 685.5,98.5 678.5,98.6 671.6,99.0 664.7,99.6 657.9,100.4 651.3,101.5 644.8,102.8 638.5,104.3 632.3,106.0 626.4,107.9 620.7,110.0 615.2,112.3 609.8,114.7 604.7,117.2 599.9,119.9 595.1,122.7 590.6,125.6 586.3,128.6 582.1,131.7 578.1,134.9 574.2,138.2 570.5,141.5 566.9,144.9 563.4,148.4 560.0,152.0 556.7,155.5 553.5,159.2 550.4,162.8 547.4,166.5 544.4,170.2 541.5,174.0 538.6,177.8 535.8,181.6 533.0,185.4 530.2,189.3 527.4,193.1 524.7,197.0 522.0,200.9 519.2,204.8 516.5,208.6 513.7,212.5 510.9,216.4 508.1,220.3 505.2,224.1 502.3,228.0 499.4,231.8 496.4,235.6 493.3,239.4 490.1,243.2 486.8,246.9 483.4,250.6 479.9,254.2 476.3,257.8 472.5,261.4 468.6,264.9 464.5,268.3 460.2,271.6 455.7,274.9 450.9,278.1 446.0,281.1 440.7,284.1 435.2,286.9 429.4,289.6 423.3,292.1 416.9,294.5 410.2,296.6 403.1,298.5 395.8,300.3 388.2,301.7 380.3,303.0 372.2,303.9 363.9,304.6 355.5,305.0 347.1,305.0 338.7,304.8 330.4,304.3 322.2,303.5Z"/><path d="M279.5,288.2 286.4,288.9 293.3,289.3 300.3,289.5 307.3,289.4 314.3,289.1 321.2,288.6 328.0,287.8 334.7,286.8 341.2,285.5 347.6,284.1 353.7,282.4 359.7,280.5 365.5,278.5 371.1,276.3 376.4,273.9 381.6,271.4 386.5,268.8 391.3,266.0 395.8,263.1 400.2,260.1 404.4,257.0 408.5,253.8 412.4,250.6 416.1,247.3 419.8,243.9 423.3,240.4 426.7,236.9 430.0,233.3 433.2,229.7 436.3,226.0 439.4,222.4 442.4,218.6 445.3,214.9 448.2,211.1 451.0,207.3 453.9,203.5 456.6,199.6 459.4,195.8 462.1,191.9 464.9,188.0 467.6,184.2 470.4,180.3 473.1,176.4 475.9,172.5 478.7,168.6 481.6,164.8 484.5,160.9 487.4,157.1 490.4,153.3 493.5,149.5 496.6,145.7 499.9,142.0 503.3,138.3 506.7,134.6 510.3,131.0 514.1,127.4 518.0,123.9 522.0,120.5 526.3,117.1 530.7,113.8 535.4,110.7 540.3,107.6 545.5,104.6 551.0,101.7 556.7,99.0 562.7,96.5 569.1,94.1 575.7,91.9 582.7,89.9 590.0,88.1 597.5,86.6 605.3,85.3 613.4,84.3 621.6,83.6 630.0,83.1 638.4,83.0 638.4,98.5 631.4,98.6 624.4,99.0 617.6,99.6 610.8,100.4 604.1,101.5 597.6,102.8 591.3,104.3 585.2,106.0 579.3,107.9 573.5,110.0 568.0,112.3 562.7,114.7 557.6,117.2 552.7,119.9 548.0,122.7 543.5,125.6 539.2,128.6 535.0,131.7 531.0,134.9 527.1,138.2 523.4,141.5 519.8,144.9 516.3,148.4 512.9,152.0 509.6,155.5 506.4,159.2 503.3,162.8 500.2,166.5 497.3,170.2 494.3,174.0 491.5,177.8 488.6,181.6 485.8,185.4 483.1,189.3 480.3,193.1 477.6,197.0 474.8,200.9 472.1,204.8 469.3,208.6 466.6,212.5 463.8,216.4 461.0,220.3 458.1,224.1 455.2,228.0 452.2,231.8 449.2,235.6 446.1,239.4 442.9,243.2 439.7,246.9 436.3,250.6 432.8,254.2 429.2,257.8 425.4,261.4 421.4,264.9 417.3,268.3 413.0,271.6 408.5,274.9 403.8,278.1 398.8,281.1 393.6,284.1 388.1,286.9 382.3,289.6 376.2,292.1 369.8,294.5 363.0,296.6 356.0,298.5 348.6,300.3 341.0,301.7 333.1,303.0 325.0,303.9 316.8,304.6 308.4,305.0 300.0,305.0 291.6,304.8 283.2,304.3 275.1,303.5Z"/><path d="M232.4,288.2 239.3,288.9 246.2,289.3 253.2,289.5 260.2,289.4 267.1,289.1 274.0,288.6 280.8,287.8 287.5,286.8 294.1,285.5 300.4,284.1 306.6,282.4 312.6,280.5 318.4,278.5 323.9,276.3 329.3,273.9 334.4,271.4 339.4,268.8 344.1,266.0 348.7,263.1 353.1,260.1 357.3,257.0 361.3,253.8 365.2,250.6 369.0,247.3 372.6,243.9 376.1,240.4 379.5,236.9 382.8,233.3 386.1,229.7 389.2,226.0 392.2,222.4 395.2,218.6 398.2,214.9 401.1,211.1 403.9,207.3 406.7,203.5 409.5,199.6 412.3,195.8 415.0,191.9 417.7,188.0 420.5,184.2 423.2,180.3 426.0,176.4 428.8,172.5 431.6,168.6 434.4,164.8 437.3,160.9 440.3,157.1 443.3,153.3 446.3,149.5 449.5,145.7 452.8,142.0 456.1,138.3 459.6,134.6 463.2,131.0 466.9,127.4 470.8,123.9 474.9,120.5 479.1,117.1 483.6,113.8 488.3,110.7 493.2,107.6 498.4,104.6 503.8,101.7 509.5,99.0 515.6,96.5 521.9,94.1 528.6,91.9 535.5,89.9 542.8,88.1 550.4,86.6 558.2,85.3 566.3,84.3 574.5,83.6 582.8,83.1 591.2,83.0 591.2,98.5 584.3,98.6 577.3,99.0 570.4,99.6 563.6,100.4 557.0,101.5 550.5,102.8 544.2,104.3 538.0,106.0 532.1,107.9 526.4,110.0 520.9,112.3 515.6,114.7 510.5,117.2 505.6,119.9 500.9,122.7 496.4,125.6 492.0,128.6 487.8,131.7 483.8,134.9 480.0,138.2 476.2,141.5 472.6,144.9 469.1,148.4 465.7,152.0 462.5,155.5 459.3,159.2 456.2,162.8 453.1,166.5 450.1,170.2 447.2,174.0 444.3,177.8 441.5,181.6 438.7,185.4 435.9,189.3 433.2,193.1 430.4,197.0 427.7,200.9 424.9,204.8 422.2,208.6 419.4,212.5 416.6,216.4 413.8,220.3 411.0,224.1 408.1,228.0 405.1,231.8 402.1,235.6 399.0,239.4 395.8,243.2 392.5,246.9 389.1,250.6 385.6,254.2 382.0,257.8 378.2,261.4 374.3,264.9 370.2,268.3 365.9,271.6 361.4,274.9 356.7,278.1 351.7,281.1 346.4,284.1 340.9,286.9 335.1,289.6 329.0,292.1 322.6,294.5 315.9,296.6 308.8,298.5 301.5,300.3 293.9,301.7 286.0,303.0 277.9,303.9 269.6,304.6 261.3,305.0 252.8,305.0 244.4,304.8 236.1,304.3 227.9,303.5Z"/><path d="M185.3,288.2 192.1,288.9 199.1,289.3 206.0,289.5 213.0,289.4 220.0,289.1 226.9,288.6 233.7,287.8 240.4,286.8 246.9,285.5 253.3,284.1 259.5,282.4 265.4,280.5 271.2,278.5 276.8,276.3 282.1,273.9 287.3,271.4 292.2,268.8 297.0,266.0 301.5,263.1 305.9,260.1 310.1,257.0 314.2,253.8 318.1,250.6 321.8,247.3 325.5,243.9 329.0,240.4 332.4,236.9 335.7,233.3 338.9,229.7 342.0,226.0 345.1,222.4 348.1,218.6 351.0,214.9 353.9,211.1 356.8,207.3 359.6,203.5 362.4,199.6 365.1,195.8 367.9,191.9 370.6,188.0 373.3,184.2 376.1,180.3 378.8,176.4 381.6,172.5 384.4,168.6 387.3,164.8 390.2,160.9 393.1,157.1 396.1,153.3 399.2,149.5 402.4,145.7 405.6,142.0 409.0,138.3 412.4,134.6 416.0,131.0 419.8,127.4 423.7,123.9 427.7,120.5 432.0,117.1 436.5,113.8 441.1,110.7 446.1,107.6 451.2,104.6 456.7,101.7 462.4,99.0 468.4,96.5 474.8,94.1 481.4,91.9 488.4,89.9 495.7,88.1 503.2,86.6 511.1,85.3 519.1,84.3 527.3,83.6 535.7,83.1 544.1,83.0 544.1,98.5 537.1,98.6 530.2,99.0 523.3,99.6 516.5,100.4 509.9,101.5 503.4,102.8 497.0,104.3 490.9,106.0 485.0,107.9 479.2,110.0 473.7,112.3 468.4,114.7 463.3,117.2 458.4,119.9 453.7,122.7 449.2,125.6 444.9,128.6 440.7,131.7 436.7,134.9 432.8,138.2 429.1,141.5 425.5,144.9 422.0,148.4 418.6,152.0 415.3,155.5 412.1,159.2 409.0,162.8 406.0,166.5 403.0,170.2 400.1,174.0 397.2,177.8 394.4,181.6 391.6,185.4 388.8,189.3 386.0,193.1 383.3,197.0 380.5,200.9 377.8,204.8 375.1,208.6 372.3,212.5 369.5,216.4 366.7,220.3 363.8,224.1 360.9,228.0 358.0,231.8 354.9,235.6 351.8,239.4 348.7,243.2 345.4,246.9 342.0,250.6 338.5,254.2 334.9,257.8 331.1,261.4 327.2,264.9 323.1,268.3 318.8,271.6 314.2,274.9 309.5,278.1 304.5,281.1 299.3,284.1 293.8,286.9 288.0,289.6 281.9,292.1 275.5,294.5 268.7,296.6 261.7,298.5 254.4,300.3 246.7,301.7 238.9,303.0 230.8,303.9 222.5,304.6 214.1,305.0 205.7,305.0 197.3,304.8 189.0,304.3 180.8,303.5Z"/><path d="M138.1,288.2 145.0,288.9 151.9,289.3 158.9,289.5 165.9,289.4 172.9,289.1 179.8,288.6 186.6,287.8 193.2,286.8 199.8,285.5 206.1,284.1 212.3,282.4 218.3,280.5 224.1,278.5 229.6,276.3 235.0,273.9 240.1,271.4 245.1,268.8 249.8,266.0 254.4,263.1 258.8,260.1 263.0,257.0 267.0,253.8 270.9,250.6 274.7,247.3 278.3,243.9 281.9,240.4 285.3,236.9 288.6,233.3 291.8,229.7 294.9,226.0 298.0,222.4 301.0,218.6 303.9,214.9 306.8,211.1 309.6,207.3 312.4,203.5 315.2,199.6 318.0,195.8 320.7,191.9 323.5,188.0 326.2,184.2 328.9,180.3 331.7,176.4 334.5,172.5 337.3,168.6 340.1,164.8 343.0,160.9 346.0,157.1 349.0,153.3 352.1,149.5 355.2,145.7 358.5,142.0 361.8,138.3 365.3,134.6 368.9,131.0 372.6,127.4 376.5,123.9 380.6,120.5 384.9,117.1 389.3,113.8 394.0,110.7 398.9,107.6 404.1,104.6 409.5,101.7 415.3,99.0 421.3,96.5 427.6,94.1 434.3,91.9 441.3,89.9 448.5,88.1 456.1,86.6 463.9,85.3 472.0,84.3 480.2,83.6 488.6,83.1 497.0,83.0 497.0,98.5 490.0,98.6 483.0,99.0 476.1,99.6 469.4,100.4 462.7,101.5 456.2,102.8 449.9,104.3 443.8,106.0 437.8,107.9 432.1,110.0 426.6,112.3 421.3,114.7 416.2,117.2 411.3,119.9 406.6,122.7 402.1,125.6 397.7,128.6 393.6,131.7 389.5,134.9 385.7,138.2 381.9,141.5 378.3,144.9 374.8,148.4 371.5,152.0 368.2,155.5 365.0,159.2 361.9,162.8 358.8,166.5 355.8,170.2 352.9,174.0 350.0,177.8 347.2,181.6 344.4,185.4 341.6,189.3 338.9,193.1 336.1,197.0 333.4,200.9 330.7,204.8 327.9,208.6 325.1,212.5 322.4,216.4 319.5,220.3 316.7,224.1 313.8,228.0 310.8,231.8 307.8,235.6 304.7,239.4 301.5,243.2 298.2,246.9 294.9,250.6 291.4,254.2 287.7,257.8 284.0,261.4 280.0,264.9 275.9,268.3 271.6,271.6 267.1,274.9 262.4,278.1 257.4,281.1 252.2,284.1 246.7,286.9 240.9,289.6 234.8,292.1 228.3,294.5 221.6,296.6 214.6,298.5 207.2,300.3 199.6,301.7 191.7,303.0 183.6,303.9 175.4,304.6 167.0,305.0 158.6,305.0 150.2,304.8 141.8,304.3 133.6,303.5Z"/><path d="M91.0,288.2 97.8,288.9 104.8,289.3 111.8,289.5 118.7,289.4 125.7,289.1 132.6,288.6 139.4,287.8 146.1,286.8 152.6,285.5 159.0,284.1 165.2,282.4 171.2,280.5 176.9,278.5 182.5,276.3 187.9,273.9 193.0,271.4 197.9,268.8 202.7,266.0 207.3,263.1 211.6,260.1 215.8,257.0 219.9,253.8 223.8,250.6 227.6,247.3 231.2,243.9 234.7,240.4 238.1,236.9 241.4,233.3 244.6,229.7 247.8,226.0 250.8,222.4 253.8,218.6 256.8,214.9 259.6,211.1 262.5,207.3 265.3,203.5 268.1,199.6 270.8,195.8 273.6,191.9 276.3,188.0 279.1,184.2 281.8,180.3 284.6,176.4 287.3,172.5 290.2,168.6 293.0,164.8 295.9,160.9 298.8,157.1 301.8,153.3 304.9,149.5 308.1,145.7 311.3,142.0 314.7,138.3 318.2,134.6 321.8,131.0 325.5,127.4 329.4,123.9 333.5,120.5 337.7,117.1 342.2,113.8 346.9,110.7 351.8,107.6 356.9,104.6 362.4,101.7 368.1,99.0 374.2,96.5 380.5,94.1 387.2,91.9 394.1,89.9 401.4,88.1 409.0,86.6 416.8,85.3 424.8,84.3 433.1,83.6 441.4,83.1 449.8,83.0 449.8,98.5 442.8,98.6 435.9,99.0 429.0,99.6 422.2,100.4 415.6,101.5 409.1,102.8 402.8,104.3 396.6,106.0 390.7,107.9 385.0,110.0 379.5,112.3 374.1,114.7 369.0,117.2 364.2,119.9 359.4,122.7 354.9,125.6 350.6,128.6 346.4,131.7 342.4,134.9 338.5,138.2 334.8,141.5 331.2,144.9 327.7,148.4 324.3,152.0 321.0,155.5 317.8,159.2 314.7,162.8 311.7,166.5 308.7,170.2 305.8,174.0 302.9,177.8 300.1,181.6 297.3,185.4 294.5,189.3 291.7,193.1 289.0,197.0 286.3,200.9 283.5,204.8 280.8,208.6 278.0,212.5 275.2,216.4 272.4,220.3 269.5,224.1 266.6,228.0 263.7,231.8 260.7,235.6 257.6,239.4 254.4,243.2 251.1,246.9 247.7,250.6 244.2,254.2 240.6,257.8 236.8,261.4 232.9,264.9 228.8,268.3 224.5,271.6 220.0,274.9 215.2,278.1 210.3,281.1 205.0,284.1 199.5,286.9 193.7,289.6 187.6,292.1 181.2,294.5 174.5,296.6 167.4,298.5 160.1,300.3 152.5,301.7 144.6,303.0 136.5,303.9 128.2,304.6 119.8,305.0 111.4,305.0 103.0,304.8 94.7,304.3 86.5,303.5Z"/><path d="M297.8,142.2 301.1,138.5 304.6,134.8 308.2,131.2 311.9,127.6 315.8,124.1 319.9,120.6 324.2,117.3 328.6,114.0 333.3,110.8 338.2,107.7 343.4,104.7 348.8,101.8 354.6,99.1 360.6,96.5 367.0,94.1 373.6,91.9 380.6,89.9 387.9,88.1 395.5,86.6 403.3,85.3 411.4,84.3 419.6,83.6 428.0,83.1 436.4,83.0 436.4,98.5 429.4,98.6 422.5,99.0 415.6,99.6 408.8,100.4 402.1,101.5 395.6,102.8 389.3,104.3 383.1,106.1 377.2,108.0 371.4,110.1 365.9,112.3 360.6,114.7 355.5,117.3 350.6,120.0 345.9,122.8 341.4,125.7 337.0,128.7 332.9,131.8 328.8,135.0 325.0,138.3 321.2,141.7 317.6,145.1Z"/></g></defs>
<g clip-path="url(#mc1)" shape-rendering="crispEdges">
<clipPath id="sc1"><rect x="17" y="85" width="721" height="219"/></clipPath>
<g clip-path="url(#sc1)">
<use href="#sw1" fill="#82c0ff"/>
</g>
<path d="M107.0,78.0 114.0,83.0 116.4,85.4 119.0,88.0 121.4,91.0 122.0,92.4 127.0,94.0 130.6,95.6 132.0,96.4 132.2,99.0 130.0,97.6 127.6,97.2 128.8,100.4 129.0,102.0 128.8,106.0 128.0,108.4 128.6,112.0 128.2,113.2 129.4,115.4 131.0,117.6 132.0,118.4 132.2,119.6 133.2,120.8 134.4,122.6 135.8,124.0 135.8,125.0 138.4,125.6 140.2,126.4 142.4,128.0 142.8,129.0 143.8,130.6 145.0,133.0 146.6,135.0 148.6,137.0 147.4,138.4 149.6,140.4 152.2,142.0 153.0,144.4 155.4,146.8 157.0,148.2 158.0,147.6 157.8,146.0 155.8,144.8 155.0,142.4 153.0,140.0 151.4,137.6 149.8,135.6 148.0,133.6 147.4,130.8 149.0,131.0 150.6,131.6 151.8,134.4 153.6,136.8 155.8,138.4 157.6,140.6 158.6,142.8 161.0,144.4 163.4,146.4 165.4,148.8 166.4,151.0 166.0,153.0 167.0,155.0 169.4,156.8 172.6,158.2 175.0,159.6 177.4,160.4 180.0,161.4 183.0,162.2 185.0,162.6 187.0,161.8 189.0,162.0 191.0,163.6 192.6,165.0 195.0,166.2 197.0,166.8 199.0,167.4 201.4,167.8 202.0,168.2 203.8,170.0 205.4,171.8 205.6,173.6 207.0,174.4 208.0,175.2 209.8,176.2 210.6,177.4 211.6,177.6 213.0,177.8 214.0,178.6 215.2,179.4 216.4,179.2 217.0,178.0 216.4,177.2 217.8,176.2 219.0,176.4 220.4,177.6 221.0,178.8 221.8,179.6 222.2,181.0 222.2,183.0 222.4,186.0 221.8,188.4 219.8,189.4 219.2,191.0 217.0,192.4 216.6,194.0 215.8,195.6 215.2,197.0 215.4,198.6 217.0,199.2 217.2,200.6 216.2,201.0 214.6,202.6 214.6,205.0 215.4,206.6 217.4,208.4 219.0,210.8 220.4,213.6 221.8,216.4 223.4,218.8 224.6,221.2 226.0,223.6 228.6,225.6 231.8,227.6 234.4,229.2 236.2,230.8 236.8,234.0 236.6,238.0 236.0,242.0 235.8,246.0 234.4,251.0 234.0,255.0 233.8,259.0 233.0,263.0 231.4,266.0 230.2,268.8 230.2,272.0 229.4,275.0 229.4,277.6 228.6,280.0 228.0,283.0 226.0,286.6 227.0,290.0 226.0,294.0 227.0,297.0 228.6,299.6 231.0,301.6 233.0,302.8 236.0,304.4 240.0,305.6 243.4,304.8 246.6,303.8 244.0,302.4 241.0,300.4 240.0,299.0 238.6,297.0 239.8,294.8 241.8,292.8 245.0,290.4 245.6,288.4 243.0,287.2 241.8,286.0 243.8,284.2 246.0,283.2 246.6,280.8 248.2,279.8 249.6,279.2 248.6,278.0 247.0,277.0 247.0,275.8 249.4,276.2 251.8,275.6 252.6,273.0 254.0,271.8 258.0,271.4 261.4,270.4 263.0,268.0 263.4,266.8 262.4,265.6 262.6,264.4 260.4,263.2 260.2,262.0 262.0,262.8 265.0,263.6 267.4,263.6 269.8,262.2 271.4,260.0 274.0,257.2 276.0,255.0 277.4,252.6 279.6,250.6 279.8,247.6 280.2,245.2 282.4,243.0 285.0,241.8 287.4,240.6 290.6,240.0 293.0,239.8 295.0,238.0 295.4,236.0 297.0,234.0 297.8,231.0 298.6,228.0 299.0,225.0 299.0,222.0 300.0,220.0 301.4,218.0 303.0,215.6 305.0,214.0 306.6,212.0 307.2,210.0 307.4,208.0 307.0,206.0 306.4,204.4 304.0,204.0 302.0,203.2 300.0,201.4 297.4,199.8 294.6,199.8 292.0,199.4 289.4,198.8 287.8,199.6 287.4,197.6 285.0,196.2 282.0,195.2 280.0,196.4 278.0,194.6 276.4,193.6 277.0,191.6 275.4,189.6 274.6,186.0 273.0,184.4 271.0,183.0 268.0,182.2 265.4,182.2 263.0,182.0 261.0,180.4 259.0,178.2 257.0,177.0 255.0,175.4 253.4,174.0 252.0,172.8 249.4,173.0 247.4,173.8 245.0,172.8 242.0,173.0 240.4,172.2 238.6,171.0 237.0,169.8 235.8,171.0 234.4,172.0 233.4,170.8 234.4,169.4 232.6,170.0 230.6,171.4 228.4,171.6 227.0,172.2 225.8,173.6 225.4,175.4 223.4,176.8 222.6,176.4 221.4,175.4 219.4,175.0 217.8,174.8 216.2,175.8 214.6,176.4 213.4,176.0 212.2,175.2 211.0,174.0 209.8,172.2 209.4,170.4 210.0,168.4 210.2,166.0 210.6,164.0 209.0,162.4 207.0,162.2 205.0,162.2 203.0,162.4 201.0,162.6 199.8,162.2 199.2,161.4 200.4,159.6 200.6,157.4 201.4,157.2 202.0,155.0 202.2,153.2 203.4,151.6 202.2,151.0 200.0,151.0 197.4,151.4 196.2,152.4 195.8,154.4 194.6,156.2 193.0,156.8 191.0,157.2 188.6,157.6 187.0,157.0 185.4,156.4 184.2,155.2 183.0,153.4 182.0,151.0 181.4,149.0 181.4,146.4 182.0,144.0 182.6,142.0 182.2,139.6 183.0,138.0 185.0,136.8 187.0,135.6 189.0,134.8 191.0,134.4 193.0,134.8 195.0,135.6 196.6,135.8 198.2,136.0 198.6,135.0 197.8,133.6 200.0,133.2 202.0,133.4 204.4,133.2 206.0,134.0 207.0,134.8 208.6,134.0 209.8,134.6 211.4,136.0 211.6,138.0 211.8,139.4 213.0,140.8 213.6,142.2 214.6,143.6 216.2,143.6 216.8,142.4 217.0,140.4 216.2,138.4 215.8,137.0 214.8,135.0 214.2,133.0 214.6,131.0 215.6,129.4 217.4,128.4 219.0,127.0 221.0,126.2 222.6,124.8 224.2,124.4 225.4,123.6 225.6,122.2 225.0,120.2 224.4,119.0 225.4,118.8 226.6,117.4 227.0,116.4 227.4,115.8 228.8,114.4 229.0,113.0 231.0,112.4 233.0,112.0 234.6,111.0 235.8,110.8 237.0,110.6 236.6,109.8 235.4,109.2 235.6,107.8 236.6,106.6 238.6,106.0 240.6,105.2 242.6,104.6 243.2,103.8 245.4,103.4 247.4,102.8 248.2,103.4 245.4,104.8 244.8,106.4 246.2,107.0 248.6,105.0 251.0,104.4 254.0,103.6 256.6,102.4 257.0,100.8 255.8,100.0 254.2,102.2 252.0,102.6 249.6,102.2 247.8,101.4 247.2,99.8 245.6,98.6 247.4,98.2 248.4,96.4 247.0,95.6 244.0,95.8 241.0,97.0 238.0,98.8 236.0,100.0 237.4,98.0 239.4,96.2 242.0,95.0 244.0,93.6 247.0,93.4 250.0,93.4 253.0,93.6 256.0,93.6 258.4,92.4 261.0,91.4 263.0,91.0 265.0,90.0 265.4,88.4 264.0,86.8 262.4,86.0 261.0,84.6 258.0,83.4 256.0,82.4 254.0,80.0 253.0,78.0 223.0,78.0 222.0,80.0 223.8,82.0 221.0,83.6 218.0,85.0 219.0,87.0 219.4,89.0 218.0,90.8 216.0,91.4 214.0,89.6 212.6,88.0 212.6,85.0 212.0,83.6 207.0,83.2 202.0,82.0 199.0,80.4 193.0,79.6 191.0,77.0ZM258.4,98.6 261.0,98.8 264.0,99.0 266.0,100.2 269.0,100.4 271.0,100.6 271.6,99.0 271.0,97.6 269.8,96.4 270.0,95.4 267.4,95.0 265.4,94.0 265.8,92.4 266.0,90.8 264.0,92.0 262.4,93.6 261.2,95.4 260.0,96.8 258.4,98.6ZM207.2,150.4 208.6,148.8 211.0,148.0 213.0,147.6 215.8,147.8 218.0,149.0 221.0,149.4 223.0,150.8 225.0,151.8 227.0,152.6 228.6,153.6 226.6,154.2 224.0,154.2 221.6,154.2 222.6,152.8 220.6,152.4 219.4,150.8 216.6,150.4 214.0,149.6 212.0,148.8 210.0,149.6 209.0,150.2ZM228.2,156.8 230.0,157.6 233.0,157.8 234.2,158.6 235.8,157.4 238.0,157.2 240.2,157.6 240.2,156.6 238.6,156.0 237.4,155.2 235.8,154.4 233.6,154.2 231.4,154.2 230.2,154.6 231.6,155.6 232.2,156.8 230.0,156.8ZM220.4,157.2 222.6,157.0 224.4,157.8 223.0,158.4 221.0,158.0ZM242.6,157.0 245.6,157.2 245.4,158.0 242.6,158.1ZM255.0,297.0 258.0,296.4 261.4,297.0 260.0,298.4 257.0,298.4 255.0,298.0ZM120.4,92.4 125.0,93.6 128.0,95.4 130.2,97.2 127.4,96.8 124.0,95.0ZM253.4,172.6 255.2,172.4 255.0,173.8 253.2,173.8ZM393.0,78.0 393.2,80.4 393.4,82.0 393.4,83.2 394.2,84.2 394.8,85.8 393.6,86.4 391.4,86.8 389.0,87.2 387.0,87.6 386.4,88.8 385.2,90.0 384.0,91.2 382.0,91.8 380.4,92.2 380.2,93.4 378.6,94.2 377.2,94.8 374.8,95.2 374.4,94.6 373.2,94.6 373.8,96.6 371.6,96.8 369.8,96.4 367.6,97.0 367.8,98.0 368.6,98.4 371.0,98.8 372.4,99.6 373.2,100.8 374.6,101.8 374.6,104.0 374.4,106.0 373.6,107.2 371.0,107.2 368.0,107.2 365.0,106.8 362.0,106.6 360.4,106.8 358.6,107.8 359.2,109.6 359.6,111.6 359.4,113.6 358.2,115.4 358.2,116.6 359.4,117.2 359.4,118.8 359.2,120.0 361.2,120.0 363.0,119.6 364.2,120.4 365.0,121.6 366.0,121.9 367.0,121.2 368.4,120.6 371.0,120.6 372.8,120.4 373.8,119.4 375.6,118.6 376.6,117.0 377.4,116.4 376.4,115.0 377.2,113.6 378.6,112.4 380.0,111.6 381.6,111.0 383.4,110.2 383.4,109.2 383.0,108.0 384.2,107.2 385.8,107.0 387.4,107.4 389.0,107.8 390.6,107.4 392.0,106.4 393.6,105.8 394.8,105.2 396.2,105.8 397.4,106.4 398.0,108.0 399.2,109.2 400.6,110.0 401.8,110.8 403.0,111.6 404.6,111.8 405.6,112.6 407.0,113.6 408.2,114.0 408.8,115.4 409.2,116.4 408.4,117.6 408.4,118.2 409.4,118.0 410.2,116.8 411.2,116.2 411.2,115.2 410.2,114.6 410.6,113.4 411.4,113.0 413.0,114.0 413.8,114.4 414.0,113.6 413.0,112.6 411.6,112.0 410.0,111.4 408.8,110.8 409.2,110.2 407.6,110.2 406.4,109.6 405.2,108.8 404.6,107.6 404.0,106.8 402.6,106.0 401.6,105.2 401.6,104.0 402.0,103.0 403.4,102.6 404.4,102.6 404.2,103.8 405.0,104.2 405.8,103.4 406.8,104.0 407.4,105.4 408.8,106.6 410.0,107.0 411.6,107.8 413.0,108.6 414.2,109.4 415.4,110.2 416.0,111.2 415.8,112.8 416.8,114.2 417.4,115.2 418.6,116.4 419.6,117.4 419.4,118.4 420.2,119.6 420.6,120.4 421.6,120.8 422.4,120.6 423.0,121.0 423.2,120.0 422.6,119.0 423.6,118.8 424.2,118.2 425.0,118.6 425.2,117.6 424.0,117.0 422.8,116.2 422.8,115.2 422.4,114.2 422.4,113.2 423.6,113.6 424.6,114.0 425.6,113.4 425.6,112.4 427.4,112.2 429.0,112.4 429.4,113.4 430.4,113.0 431.6,112.2 433.4,112.0 435.0,111.9 433.4,111.0 433.0,110.0 432.4,108.8 432.8,107.6 434.0,106.8 434.2,105.6 434.8,104.4 436.2,103.6 437.0,102.4 438.4,101.2 440.0,100.8 441.4,101.2 443.0,101.8 444.0,102.2 442.4,103.0 443.8,104.0 444.0,104.8 445.6,105.0 447.4,104.2 449.6,103.6 450.0,103.2 448.0,103.2 447.0,102.2 447.4,101.2 449.4,100.6 451.8,100.0 453.8,99.6 455.4,99.6 454.6,100.6 453.0,101.6 452.6,102.8 451.4,103.4 450.6,103.8 452.0,104.6 454.0,105.4 455.6,106.4 457.0,107.2 459.0,108.0 460.2,109.2 460.2,110.8 458.6,111.6 456.6,112.0 454.6,112.0 452.6,111.8 450.6,111.4 449.0,110.6 447.2,110.0 445.0,110.0 443.0,110.2 441.0,110.8 439.4,111.8 437.4,111.6 435.2,111.7 435.0,112.2 433.4,113.0 431.0,113.2 429.8,113.8 429.4,115.0 430.6,116.0 430.6,117.2 429.8,117.4 431.4,118.6 431.6,120.0 433.0,120.6 434.2,120.6 435.4,121.4 437.4,121.4 438.4,120.4 440.2,120.8 442.0,121.8 444.0,121.6 446.2,120.4 448.0,120.8 449.2,120.6 448.8,122.0 448.6,124.0 448.8,125.4 448.0,126.8 447.2,128.0 446.8,129.4 446.2,130.6 445.4,131.4 444.0,131.8 442.2,131.8 441.6,131.4 440.6,131.0 439.0,130.8 437.6,131.2 436.2,132.0 434.6,132.2 432.6,131.6 430.6,131.0 428.6,130.8 427.0,130.2 425.0,129.6 423.4,128.8 421.0,128.2 419.4,128.4 417.4,129.4 417.0,131.0 416.0,132.8 414.0,133.4 412.0,132.4 410.0,131.6 408.0,130.4 407.4,129.2 405.4,128.6 403.0,128.2 401.0,128.2 399.4,127.6 398.6,126.6 397.2,125.6 398.2,124.8 399.0,123.2 398.2,121.2 399.2,120.0 397.6,119.6 396.4,119.4 394.4,120.1 392.0,120.0 389.6,120.0 387.4,120.4 385.0,120.2 382.8,120.4 380.2,121.0 377.4,122.0 375.4,122.6 373.0,123.8 371.0,123.4 368.6,123.6 366.6,123.0 366.2,122.3 365.2,122.4 364.4,124.2 363.2,126.0 361.4,127.2 359.6,128.0 358.4,129.4 357.4,131.0 357.6,133.0 357.2,134.4 355.4,136.2 353.8,137.4 351.4,138.2 350.2,139.6 348.6,141.2 347.4,142.8 345.8,145.0 345.0,146.6 343.6,148.8 343.0,151.0 343.0,152.0 344.4,153.6 344.4,155.6 344.8,158.0 344.0,161.0 343.4,163.0 342.2,164.6 343.4,166.4 343.6,168.4 344.0,169.6 345.8,171.0 347.0,172.4 348.4,173.6 349.8,174.8 350.6,176.4 351.8,178.2 353.6,180.0 355.4,181.0 357.4,182.4 359.4,184.0 361.8,185.2 364.0,184.6 366.6,183.8 369.0,183.6 371.0,184.0 373.0,184.4 375.0,183.6 377.4,182.6 379.4,181.8 382.0,181.4 384.0,181.2 386.0,181.6 387.4,182.8 388.0,184.2 389.4,185.4 391.4,185.2 393.4,185.0 394.6,185.2 396.0,186.2 396.4,187.6 396.6,189.6 396.0,191.6 395.6,193.2 394.6,195.2 395.4,197.2 396.6,199.2 398.6,201.4 400.2,203.0 401.0,204.6 401.6,206.0 402.6,208.0 403.6,210.6 403.0,212.4 404.2,214.8 404.6,217.0 404.0,219.0 402.2,221.0 401.4,223.6 400.8,226.0 400.6,228.4 401.4,231.0 403.0,234.0 404.2,236.4 405.8,239.0 406.0,241.6 406.8,244.4 407.4,247.6 409.0,250.4 410.6,252.8 412.0,255.6 413.4,257.8 413.4,259.8 413.8,261.8 414.8,262.8 417.0,263.6 419.4,262.8 422.0,262.0 424.6,262.0 427.0,262.0 428.6,261.8 430.6,261.4 432.6,260.2 434.6,258.8 436.4,256.8 438.2,254.6 439.4,252.8 441.0,251.2 442.4,249.6 442.8,246.6 442.4,245.6 444.0,244.4 447.0,243.2 448.0,241.2 447.8,238.6 447.0,236.0 446.6,234.0 448.2,232.0 450.6,230.0 453.0,228.4 455.6,227.0 457.6,225.6 458.6,223.6 458.2,221.0 458.0,218.4 458.0,215.6 457.0,214.0 456.0,212.0 455.6,209.6 456.0,207.6 454.8,206.0 455.0,204.0 455.8,202.4 457.0,200.0 458.6,198.4 460.0,197.2 461.4,195.4 463.4,193.4 465.6,191.6 468.0,190.0 470.0,188.2 472.2,186.0 474.0,183.6 475.6,180.8 476.6,178.4 477.8,176.0 479.0,173.2 479.6,170.4 477.6,170.4 475.0,171.2 472.0,171.8 469.0,172.6 466.6,173.2 464.6,172.4 463.4,171.0 463.6,170.0 462.8,168.6 461.4,167.0 459.6,165.2 458.0,164.0 456.6,162.8 455.4,160.8 454.6,158.6 453.0,157.2 451.8,155.0 451.4,152.4 451.0,150.0 449.4,148.0 448.2,146.0 447.0,144.0 445.8,142.0 445.0,140.0 444.2,138.4 443.0,136.8 442.2,135.2 442.0,134.0 442.4,134.6 443.4,136.4 444.4,137.6 445.4,138.4 446.0,137.0 446.8,135.0 447.0,136.4 447.4,138.0 448.6,139.6 450.0,141.6 451.2,143.6 452.0,145.4 453.6,147.0 455.0,149.0 455.4,151.0 456.6,152.8 458.2,154.4 459.4,156.4 461.0,158.4 462.0,160.4 462.6,162.4 463.0,164.4 463.6,166.8 464.0,168.4 466.0,168.6 467.4,168.0 470.0,167.2 472.6,166.2 475.0,165.0 477.6,163.8 480.6,162.8 481.6,161.4 484.0,160.4 486.6,160.0 488.0,158.8 490.0,157.6 492.0,156.2 492.6,154.4 493.6,152.8 494.8,151.0 496.4,149.2 496.6,148.2 494.8,146.8 492.6,146.4 490.6,145.4 489.8,144.0 489.6,141.6 489.2,142.0 488.6,143.2 486.6,144.2 485.0,145.6 482.6,145.6 480.6,145.8 480.0,144.8 480.2,142.4 479.2,142.0 478.6,143.6 477.6,142.4 477.4,140.8 476.0,139.4 474.6,138.0 473.4,136.0 472.8,134.8 474.0,134.0 475.4,133.2 477.0,133.6 478.4,135.2 479.6,137.6 481.4,139.0 483.4,140.4 485.6,140.8 487.6,140.4 489.6,139.8 491.0,140.4 491.6,142.4 494.0,143.0 497.0,143.2 500.0,143.6 503.0,143.6 506.0,143.4 509.0,143.2 510.6,144.2 511.6,145.2 513.0,146.4 514.6,147.4 516.6,148.8 515.0,149.4 516.0,151.6 518.0,152.4 520.6,152.0 521.6,150.4 522.2,152.0 522.6,154.0 522.6,156.0 523.0,158.0 523.6,160.0 524.2,162.0 525.0,164.0 526.0,166.0 526.8,168.4 528.0,170.8 529.4,173.6 530.2,176.0 531.4,177.6 532.2,177.9 533.4,176.4 535.0,175.4 535.6,173.6 536.6,172.4 536.6,170.0 537.4,167.6 537.2,165.0 537.4,163.0 539.0,161.6 541.4,160.8 543.4,159.0 545.4,157.0 547.4,155.2 549.8,154.2 551.0,152.2 552.6,150.8 554.6,150.6 556.6,150.2 558.2,148.8 559.6,149.2 560.6,150.8 561.4,152.4 562.6,154.0 564.2,155.6 565.4,157.2 565.8,159.4 565.6,161.8 567.4,162.6 569.4,161.6 571.0,160.2 572.2,161.4 572.4,163.6 573.2,166.0 574.0,168.4 574.2,170.4 574.4,172.6 573.6,175.0 573.4,177.2 574.2,178.0 575.8,180.0 577.0,181.2 577.8,182.8 578.4,184.8 579.4,187.2 580.2,188.8 582.0,190.0 583.8,191.2 585.4,191.4 585.2,189.6 584.0,188.0 583.8,186.0 583.4,184.0 582.2,182.4 581.0,181.4 579.4,180.2 577.8,179.0 577.0,176.8 575.8,174.8 575.4,173.0 576.2,171.0 577.0,168.8 577.6,167.0 579.0,167.4 580.2,168.6 581.8,169.6 583.0,171.6 584.6,172.8 586.6,173.2 587.2,174.8 586.6,176.6 588.0,176.0 590.0,174.6 591.4,173.2 593.0,172.4 595.0,171.0 595.6,168.8 595.6,166.4 595.0,164.0 593.6,161.8 592.2,160.4 590.6,158.8 589.6,157.0 588.4,155.4 589.4,154.0 591.0,152.2 593.4,151.0 595.4,151.0 596.6,151.2 597.4,153.2 598.2,151.6 600.6,150.6 603.0,149.8 605.4,149.2 607.4,148.4 610.0,148.0 612.0,146.4 614.0,144.8 615.6,143.0 616.6,141.0 618.2,138.4 619.8,137.0 620.8,135.0 620.0,134.0 618.6,133.4 620.0,132.2 620.6,130.6 619.0,129.2 617.8,127.0 615.8,124.6 616.6,122.8 618.0,121.6 620.0,120.4 622.0,120.0 621.6,119.0 619.0,118.8 616.6,119.4 615.0,119.2 614.0,117.6 612.4,116.4 613.4,115.6 615.4,115.2 618.0,113.6 619.8,112.2 621.4,113.0 620.0,115.2 619.8,116.4 622.0,115.4 624.0,114.6 625.6,114.2 627.0,115.0 627.6,117.0 626.6,118.0 628.6,118.4 630.2,119.2 630.0,121.0 630.0,123.0 629.6,124.6 631.4,125.0 633.4,124.4 635.2,123.8 636.0,122.0 635.8,120.0 634.6,118.0 633.0,116.0 631.8,114.8 633.4,113.6 635.6,112.6 636.4,111.0 638.0,109.4 640.0,108.4 642.0,107.6 644.0,108.4 646.6,107.2 648.6,105.6 650.2,103.6 652.2,101.6 653.8,99.4 655.6,97.4 657.4,95.6 658.0,93.6 658.2,91.4 659.6,89.4 659.4,87.6 657.4,87.0 655.4,85.8 653.0,85.6 651.4,86.0 650.2,84.4 648.0,84.6 650.6,83.2 652.6,81.6 655.0,80.0 657.0,78.0 419.0,78.0 419.0,80.0 419.0,82.0 419.0,83.4 417.8,84.6 416.2,85.2 414.6,85.2 413.8,84.4 411.0,84.6 409.0,85.4 406.0,86.0 404.2,85.0 402.0,85.2 400.0,86.0 398.6,86.0 397.0,85.0 396.6,84.0 397.0,82.8 397.8,81.6 398.2,80.0 398.0,78.0ZM366.6,76.8 370.6,76.6 370.2,78.4 373.0,78.8 372.6,80.8 371.4,81.8 372.6,82.4 373.8,83.6 374.6,85.0 376.4,85.8 377.0,86.8 377.6,88.0 380.0,88.2 380.4,89.2 379.6,90.4 378.6,91.2 379.8,91.6 379.0,92.2 377.0,92.4 374.6,92.6 373.0,92.8 371.0,92.6 369.8,93.4 368.0,93.4 366.6,94.0 365.6,93.8 367.0,93.0 368.4,91.8 370.6,91.6 371.0,91.0 369.0,90.8 366.6,90.6 367.6,89.8 368.8,89.0 368.0,88.2 368.2,87.4 370.6,87.2 371.0,86.2 370.2,85.0 370.2,84.2 367.4,84.4 367.0,83.4 367.4,82.4 365.8,83.2 365.4,81.6 365.8,80.0 365.4,78.8ZM364.8,89.6 365.0,88.0 364.6,86.4 365.8,85.2 364.6,83.6 362.2,83.4 360.2,84.4 359.8,85.4 357.0,85.6 357.4,87.2 358.4,87.8 357.8,88.8 356.4,89.8 357.4,90.8 360.0,90.8 362.2,90.0ZM401.8,118.0 403.6,117.6 406.0,118.0 408.2,117.4 407.4,119.2 407.2,120.6 405.6,120.2 403.4,119.2 402.0,118.8ZM393.4,112.0 395.4,111.6 396.4,112.8 396.2,115.4 395.2,116.0 393.8,116.0 393.8,114.0ZM394.2,109.2 395.8,108.0 396.0,110.0 395.4,111.2 394.2,110.4ZM424.0,122.8 426.0,123.0 428.2,123.4 429.6,123.6 429.0,124.0 426.6,124.2 424.2,123.6ZM441.6,124.0 442.8,123.4 444.2,123.2 446.2,122.6 445.0,124.0 444.2,124.4 443.0,124.8 441.8,124.4ZM381.8,114.8 383.2,114.2 383.8,114.8 383.2,115.4 382.2,115.2ZM343.2,137.4 344.8,137.0 344.2,138.0 346.2,137.8 346.0,138.4 345.0,138.0ZM475.6,218.2 477.0,221.0 477.8,224.6 476.6,225.2 476.4,227.6 475.6,230.0 474.6,233.0 473.6,236.0 472.6,239.2 471.4,242.4 470.6,244.2 468.0,245.2 465.6,244.2 464.4,242.4 463.6,239.2 464.0,236.8 465.6,234.4 465.8,232.0 465.0,229.6 466.0,226.8 468.2,225.8 470.0,225.0 472.0,223.4 473.0,221.6 474.6,219.6ZM536.6,174.6 537.6,175.0 539.4,177.0 540.6,179.0 540.2,181.2 538.2,182.1 537.0,181.4 536.6,179.0 536.6,176.8ZM594.4,155.4 596.0,154.0 598.2,153.8 599.0,154.8 598.0,156.4 596.2,157.6 594.4,156.8ZM619.0,143.6 620.8,144.0 620.2,146.0 619.6,148.0 618.6,150.0 617.4,148.4 617.4,146.4 618.2,144.8ZM657.0,111.0 657.6,109.4 659.4,107.6 660.4,105.0 661.0,103.0 663.0,104.8 665.6,106.0 667.6,105.6 668.0,107.4 666.0,108.0 663.6,109.6 663.4,110.0 661.0,109.0 659.4,109.2 658.6,110.4ZM659.8,111.2 660.8,113.0 661.0,115.0 660.0,117.4 659.0,119.0 658.6,120.4 658.6,122.4 657.0,123.4 656.6,124.2 655.4,123.6 654.6,124.8 653.4,124.8 651.6,124.8 650.8,125.4 649.6,126.8 648.6,127.0 647.4,126.4 647.4,125.2 646.0,124.6 644.0,125.2 642.0,125.4 640.6,126.2 639.0,126.2 638.8,125.2 641.0,124.0 643.4,123.0 646.0,122.8 648.0,122.8 649.0,122.0 650.6,120.4 651.6,119.0 651.0,120.4 653.0,119.8 654.6,118.4 656.0,117.0 657.0,115.0 657.0,113.0 657.6,111.6 659.0,111.4ZM641.4,127.2 642.6,126.0 644.6,125.4 646.2,125.6 646.4,126.4 645.4,127.4 644.0,127.2 643.0,128.4 642.2,128.2ZM636.4,127.6 637.8,126.4 639.0,126.4 640.4,127.0 640.8,128.4 640.0,130.4 639.0,131.4 638.2,131.8 637.4,131.2 637.4,129.6 636.6,128.6ZM661.0,102.0 664.0,100.4 662.6,99.0 663.0,97.0 663.6,95.0 665.4,95.6 664.0,93.0 663.6,91.0 663.6,89.0 663.0,87.2 662.4,85.4 661.4,87.0 660.6,89.0 661.0,91.0 661.2,93.0 661.0,95.0 661.0,97.0 661.0,99.0ZM690.4,92.0 692.6,90.4 694.0,88.4 696.6,87.6 697.0,86.0 700.4,84.8 701.2,83.0 702.0,81.4 703.0,80.0 703.0,78.0 690.0,78.0 689.0,80.0 688.2,82.0 688.0,84.0 688.6,86.0 689.0,88.0 689.8,90.0ZM618.2,157.0 620.0,156.8 621.6,157.2 621.4,159.4 620.2,162.0 620.4,164.0 622.0,165.6 624.6,166.4 625.2,168.4 623.6,168.0 622.0,166.8 620.2,166.6 618.4,166.4 618.2,164.8 617.0,164.0 616.8,161.6 617.8,160.0ZM621.0,179.6 623.0,178.0 625.0,177.2 627.6,174.6 629.6,176.4 630.0,179.6 629.0,181.4 628.0,182.6 627.0,182.2 625.4,181.4 624.0,179.0 621.6,180.2ZM621.0,170.4 623.2,171.0 625.0,171.6 627.0,171.6 628.2,169.2 628.0,172.4 627.0,174.0 625.0,174.0 623.6,175.6 622.2,174.4 621.0,172.8ZM611.4,177.2 613.4,175.4 615.8,172.6 616.4,171.2 615.0,173.4 613.0,176.0 611.6,177.6ZM617.8,167.0 619.6,167.2 620.0,169.0 619.0,169.6 618.2,168.4ZM595.4,190.4 597.4,190.6 599.4,190.4 600.0,188.8 602.6,187.8 604.6,185.6 606.6,184.2 608.6,182.8 610.6,180.2 612.2,181.0 613.6,182.4 615.4,183.6 613.8,184.6 612.6,186.0 612.2,187.6 613.0,189.6 614.6,192.0 613.0,192.4 612.2,194.0 611.8,195.8 610.2,197.2 609.8,199.2 609.4,201.2 608.6,201.6 606.6,202.2 604.6,201.0 602.6,200.8 600.6,200.8 598.6,199.8 597.4,198.0 597.0,196.4 595.4,195.0 595.0,193.2 594.8,191.6ZM567.6,182.8 569.8,183.4 572.0,183.6 573.8,185.6 576.2,187.6 578.2,189.6 580.2,190.4 582.2,192.0 584.0,193.4 584.6,195.2 586.0,197.0 587.4,198.8 589.0,200.0 588.8,202.4 588.6,205.6 587.0,205.6 585.8,205.2 584.2,203.6 582.2,202.2 580.6,200.4 579.0,198.6 577.8,196.4 576.6,194.4 575.0,192.4 574.2,190.4 572.6,189.0 571.4,187.4 569.4,186.0 567.8,184.2ZM587.6,207.2 589.4,205.8 591.4,206.0 593.6,206.8 596.0,207.6 598.2,207.0 600.2,207.4 602.6,207.8 604.6,209.2 606.0,209.6 606.0,211.4 604.0,210.8 601.4,210.6 599.0,210.4 596.6,209.6 594.2,209.4 591.8,209.2 589.8,208.6ZM616.6,192.4 618.6,191.4 621.4,192.0 624.2,192.2 626.6,191.0 627.4,191.2 626.0,193.0 623.4,193.4 620.2,193.0 617.6,193.4 617.2,195.6 618.6,196.6 620.6,195.8 623.4,195.6 623.6,196.4 621.4,197.6 620.2,198.0 621.6,200.4 622.6,202.4 621.8,203.6 620.2,203.2 619.0,201.0 618.6,199.6 617.8,200.4 617.8,203.2 617.6,205.0 616.2,205.2 615.8,203.0 616.0,201.0 614.6,199.6 615.4,197.6 616.0,195.6 616.6,194.0ZM639.0,195.6 641.6,194.8 644.0,195.4 645.4,197.0 646.6,200.4 648.2,200.6 650.6,198.6 653.0,197.4 656.0,198.4 659.0,199.2 662.0,200.4 665.0,201.6 667.4,202.8 668.6,204.8 671.0,206.0 672.6,207.2 671.4,208.4 673.0,210.0 675.0,212.0 677.0,214.0 678.6,215.2 676.6,215.0 674.0,214.4 671.4,213.0 669.4,210.8 667.0,209.6 665.0,209.2 663.4,210.8 662.0,212.4 659.4,212.4 657.4,210.4 655.0,210.2 653.0,210.8 652.6,208.8 654.2,207.6 653.0,205.2 650.6,203.6 648.0,202.8 645.0,201.8 643.0,202.0 642.2,200.8 642.6,199.6 644.6,198.8 642.0,198.4 640.0,197.0 639.0,196.4ZM632.0,190.2 633.0,189.6 634.2,191.0 634.6,193.0 633.4,195.4 632.6,193.6 632.0,192.0ZM624.0,214.6 626.0,213.0 628.6,211.4 631.0,210.8 630.0,212.0 627.0,213.6 625.0,214.6ZM609.0,210.8 612.0,210.6 615.0,210.8 618.0,210.6 621.0,210.6 623.0,210.6 622.0,211.6 618.6,211.8 615.0,211.6 612.0,212.0 609.0,211.8ZM606.0,210.2 608.2,210.4 607.6,211.6 606.2,211.0ZM633.0,200.0 636.0,199.6 638.6,200.6 637.0,201.2 634.0,201.0ZM673.6,205.2 676.0,205.0 678.6,205.0 681.0,202.4 681.8,203.6 680.6,205.2 678.0,206.6 675.0,206.6ZM604.4,238.0 605.4,237.6 608.0,236.0 610.6,235.2 613.4,234.6 616.2,234.0 619.0,233.2 621.4,230.4 621.6,228.4 624.0,228.8 624.2,226.8 626.0,226.0 627.4,224.0 629.4,222.4 631.4,221.8 633.4,223.6 635.4,223.8 636.2,221.6 637.6,220.0 638.6,218.8 640.6,218.4 642.2,217.0 644.0,217.6 646.0,218.0 648.6,218.2 650.6,218.4 650.0,220.4 648.8,222.4 648.0,224.0 650.0,225.6 652.6,226.8 655.0,228.4 657.0,229.4 658.6,229.0 659.6,226.4 660.2,223.6 660.2,220.8 660.6,218.4 661.4,216.0 662.2,215.4 663.4,217.6 664.2,219.6 664.6,222.4 666.2,222.8 667.6,224.4 668.0,227.0 669.0,229.0 669.6,231.6 671.4,232.8 673.8,234.4 675.0,236.0 676.6,238.6 678.6,240.4 680.0,242.0 682.6,244.4 683.4,246.4 684.0,249.0 684.0,251.6 683.4,254.0 682.6,257.0 681.4,259.2 680.0,261.0 679.0,262.8 678.0,265.0 677.0,267.2 676.8,269.0 674.0,269.6 671.4,270.8 669.6,272.0 668.0,270.8 666.4,270.4 664.2,271.6 661.8,270.8 659.4,270.4 657.4,269.2 656.2,267.2 655.4,265.4 653.4,265.2 654.0,263.2 653.0,261.2 652.2,259.6 651.4,261.6 651.0,263.6 649.4,264.0 648.0,263.6 647.0,261.6 645.4,260.0 643.4,258.4 641.0,258.0 638.6,257.2 636.0,257.2 633.0,258.2 630.0,258.6 627.0,259.6 624.6,261.6 622.0,262.0 619.0,261.8 616.6,262.2 614.0,263.8 611.6,264.0 609.0,263.6 607.0,262.6 607.4,261.0 608.4,259.0 608.4,257.0 607.4,255.0 606.8,253.0 605.4,250.0 604.6,247.6 603.8,246.0 604.2,244.0 603.8,242.0 604.6,240.0ZM666.4,275.4 669.0,276.2 671.4,275.8 673.6,276.0 673.4,278.4 672.2,280.4 670.0,281.2 668.2,280.0 667.4,278.0 666.6,276.6ZM722.4,262.8 724.0,264.0 726.0,266.0 727.4,267.2 728.6,267.6 729.4,269.4 731.4,269.8 733.6,269.2 733.4,271.2 731.4,272.8 730.8,274.4 729.0,276.4 727.4,277.2 726.6,276.6 727.4,274.6 725.0,273.0 725.4,271.2 726.6,269.6 725.8,267.6 723.8,265.2ZM722.4,275.0 724.0,276.0 725.6,277.4 724.6,279.0 722.6,280.6 721.4,282.0 719.4,283.2 719.0,285.0 717.4,286.4 715.0,287.2 712.6,286.8 710.2,286.0 711.0,284.0 713.4,282.4 716.2,281.0 719.0,279.2 720.6,277.2 721.4,275.6ZM705.0,234.4 707.4,236.0 710.0,238.0 711.0,238.8 709.4,238.4 706.6,236.4ZM731.6,229.0 734.0,228.8 734.2,230.4 731.8,230.4ZM65.0,153.6 67.0,154.4 66.0,156.0 65.0,155.0ZM483.8,168.8 486.0,168.8 485.0,169.4ZM514.6,292.0 517.4,292.2 517.8,293.2 515.0,293.2ZM301.0,302.0 304.0,302.4 305.0,303.6 302.0,302.8ZM194.2,194.8 195.2,195.0 195.0,196.0 194.0,195.8ZM668.0,105.2 671.0,103.6 674.0,102.8 673.0,103.8 669.6,105.4ZM562.4,167.2 563.0,170.0 562.2,170.8 562.0,169.0ZM587.6,197.6 589.4,197.2 590.4,199.6 588.6,199.0ZM615.0,213.0 617.4,213.0 618.6,214.4 616.6,214.6ZM399.0,82.6 401.6,81.8 402.2,82.8 401.2,83.8 399.4,83.6ZM402.2,81.6 402.8,82.8 403.6,83.3 405.4,83.2 405.8,82.2 408.0,81.8 409.8,81.0 410.0,78.0 400.0,78.0 401.0,79.4Z" fill="#b0b0b0" fill-rule="evenodd"/>
<path d="M207.2,150.4 208.6,148.8 211.0,148.0 213.0,147.6 215.8,147.8 218.0,149.0 221.0,149.4 223.0,150.8 225.0,151.8 227.0,152.6 228.6,153.6 226.6,154.2 224.0,154.2 221.6,154.2 222.6,152.8 220.6,152.4 219.4,150.8 216.6,150.4 214.0,149.6 212.0,148.8 210.0,149.6 209.0,150.2ZM228.2,156.8 230.0,157.6 233.0,157.8 234.2,158.6 235.8,157.4 238.0,157.2 240.2,157.6 240.2,156.6 238.6,156.0 237.4,155.2 235.8,154.4 233.6,154.2 231.4,154.2 230.2,154.6 231.6,155.6 232.2,156.8 230.0,156.8ZM220.4,157.2 222.6,157.0 224.4,157.8 223.0,158.4 221.0,158.0ZM242.6,157.0 245.6,157.2 245.4,158.0 242.6,158.1ZM253.4,172.6 255.2,172.4 255.0,173.8 253.2,173.8ZM621.0,170.4 623.2,171.0 625.0,171.6 627.0,171.6 628.2,169.2 628.0,172.4 627.0,174.0 625.0,174.0 623.6,175.6 622.2,174.4 621.0,172.8ZM611.4,177.2 613.4,175.4 615.8,172.6 616.4,171.2 615.0,173.4 613.0,176.0 611.6,177.6ZM617.8,167.0 619.6,167.2 620.0,169.0 619.0,169.6 618.2,168.4ZM621.0,179.6 623.0,178.0 625.0,177.2 627.6,174.6 629.6,176.4 630.0,179.6 629.0,181.4 628.0,182.6 627.0,182.2 625.4,181.4 624.0,179.0 621.6,180.2ZM616.6,192.4 618.6,191.4 621.4,192.0 624.2,192.2 626.6,191.0 627.4,191.2 626.0,193.0 623.4,193.4 620.2,193.0 617.6,193.4 617.2,195.6 618.6,196.6 620.6,195.8 623.4,195.6 623.6,196.4 621.4,197.6 620.2,198.0 621.6,200.4 622.6,202.4 621.8,203.6 620.2,203.2 619.0,201.0 618.6,199.6 617.8,200.4 617.8,203.2 617.6,205.0 616.2,205.2 615.8,203.0 616.0,201.0 614.6,199.6 615.4,197.6 616.0,195.6 616.6,194.0ZM587.6,207.2 589.4,205.8 591.4,206.0 593.6,206.8 596.0,207.6 598.2,207.0 600.2,207.4 602.6,207.8 604.6,209.2 606.0,209.6 606.0,211.4 604.0,210.8 601.4,210.6 599.0,210.4 596.6,209.6 594.2,209.4 591.8,209.2 589.8,208.6ZM609.0,210.8 612.0,210.6 615.0,210.8 618.0,210.6 621.0,210.6 623.0,210.6 622.0,211.6 618.6,211.8 615.0,211.6 612.0,212.0 609.0,211.8ZM624.0,214.6 626.0,213.0 628.6,211.4 631.0,210.8 630.0,212.0 627.0,213.6 625.0,214.6ZM632.0,190.2 633.0,189.6 634.2,191.0 634.6,193.0 633.4,195.4 632.6,193.6 632.0,192.0ZM633.0,200.0 636.0,199.6 638.6,200.6 637.0,201.2 634.0,201.0ZM606.0,210.2 608.2,210.4 607.6,211.6 606.2,211.0ZM615.0,213.0 617.4,213.0 618.6,214.4 616.6,214.6ZM673.6,205.2 676.0,205.0 678.6,205.0 681.0,202.4 681.8,203.6 680.6,205.2 678.0,206.6 675.0,206.6ZM705.0,234.4 707.4,236.0 710.0,238.0 711.0,238.8 709.4,238.4 706.6,236.4ZM562.4,167.2 563.0,170.0 562.2,170.8 562.0,169.0ZM587.6,197.6 589.4,197.2 590.4,199.6 588.6,199.0ZM668.0,105.2 671.0,103.6 674.0,102.8 673.0,103.8 669.6,105.4ZM343.2,137.4 344.8,137.0 344.2,138.0 346.2,137.8 346.0,138.4 345.0,138.0ZM424.0,122.8 426.0,123.0 428.2,123.4 429.6,123.6 429.0,124.0 426.6,124.2 424.2,123.6ZM441.6,124.0 442.8,123.4 444.2,123.2 446.2,122.6 445.0,124.0 444.2,124.4 443.0,124.8 441.8,124.4ZM381.8,114.8 383.2,114.2 383.8,114.8 383.2,115.4 382.2,115.2ZM394.2,109.2 395.8,108.0 396.0,110.0 395.4,111.2 394.2,110.4ZM618.2,157.0 620.0,156.8 621.6,157.2 621.4,159.4 620.2,162.0 620.4,164.0 622.0,165.6 624.6,166.4 625.2,168.4 623.6,168.0 622.0,166.8 620.2,166.6 618.4,166.4 618.2,164.8 617.0,164.0 616.8,161.6 617.8,160.0Z" fill="#cdcdcd"/>
<g clip-path="url(#sc1)"><g clip-path="url(#lc1)"><use href="#sw1" fill="#fad783"/></g></g>
<polygon points="99,304 109,304 109,300 104,301.5" fill="#fff"/>
<polygon points="150,304 155,304 155,302" fill="#fff"/>
<rect x="20" y="208" width="2" height="2" fill="#c81414"/>
<rect x="21" y="210" width="4" height="3" fill="#c81414"/>
<rect x="188" y="162" width="2" height="2" fill="#c81414"/>
<rect x="191" y="162" width="3" height="2" fill="#c81414"/>
<rect x="195" y="162" width="2" height="2" fill="#c81414"/>
<rect x="195" y="167" width="2" height="2" fill="#c81414"/>
<rect x="198" y="166" width="3" height="2" fill="#c81414"/>
<rect x="257" y="138" width="2" height="2" fill="#c81414"/>
<rect x="251" y="144" width="2" height="3" fill="#c81414"/>
<rect x="250" y="147" width="2" height="2" fill="#c81414"/>
<rect x="251" y="148" width="3" height="3" fill="#c81414"/>
<rect x="253" y="150" width="2" height="2" fill="#c81414"/>
<rect x="257" y="154" width="2" height="2" fill="#c81414"/>
<rect x="250" y="159" width="2" height="2" fill="#c81414"/>
<rect x="230" y="168" width="2" height="2" fill="#c81414"/>
<rect x="232" y="167" width="2" height="2" fill="#c81414"/>
<rect x="235" y="168" width="2" height="2" fill="#c81414"/>
<rect x="241" y="171" width="2" height="2" fill="#c81414"/>
<rect x="226" y="182" width="2" height="2" fill="#c81414"/>
<rect x="228" y="183" width="2" height="2" fill="#c81414"/>
<rect x="227" y="184" width="2" height="2" fill="#c81414"/>
<rect x="271" y="195" width="2" height="2" fill="#c81414"/>
<rect x="268" y="198" width="3" height="3" fill="#c81414"/>
<rect x="261" y="209" width="3" height="3" fill="#c81414"/>
<rect x="266" y="209" width="4" height="2" fill="#c81414"/>
<rect x="267" y="210" width="2" height="3" fill="#c81414"/>
<rect x="270" y="214" width="2" height="2" fill="#c81414"/>
<rect x="245" y="239" width="2" height="2" fill="#c81414"/>
<rect x="290" y="232" width="2" height="3" fill="#c81414"/>
<rect x="290" y="236" width="3" height="3" fill="#c81414"/>
<rect x="275" y="253" width="2" height="2" fill="#c81414"/>
<rect x="286" y="250" width="2" height="4" fill="#c81414"/>
<rect x="242" y="272" width="2" height="2" fill="#c81414"/>
<rect x="241" y="277" width="2" height="2" fill="#c81414"/>
<rect x="244" y="278" width="2" height="4" fill="#c81414"/>
<rect x="332" y="176" width="2" height="2" fill="#c81414"/>
<rect x="334" y="176" width="2" height="3" fill="#c81414"/>
<rect x="336" y="179" width="2" height="2" fill="#c81414"/>
<rect x="337" y="180" width="2" height="2" fill="#c81414"/>
<rect x="347" y="170" width="3" height="3" fill="#c81414"/>
<rect x="429" y="190" width="3" height="3" fill="#c81414"/>
<rect x="421" y="203" width="2" height="2" fill="#c81414"/>
<rect x="410" y="208" width="2" height="4" fill="#c81414"/>
<rect x="414" y="210" width="3" height="2" fill="#c81414"/>
<rect x="412" y="212" width="2" height="3" fill="#c81414"/>
<rect x="409" y="215" width="4" height="2" fill="#c81414"/>
<rect x="441" y="223" width="2" height="3" fill="#c81414"/>
<rect x="446" y="225" width="4" height="2" fill="#c81414"/>
<rect x="446" y="229" width="3" height="2" fill="#c81414"/>
<rect x="437" y="232" width="3" height="2" fill="#c81414"/>
<rect x="438" y="234" width="3" height="2" fill="#c81414"/>
<rect x="435" y="235" width="3" height="3" fill="#c81414"/>
<rect x="433" y="238" width="2" height="3" fill="#c81414"/>
<rect x="425" y="238" width="3" height="2" fill="#c81414"/>
<rect x="431" y="240" width="2" height="3" fill="#c81414"/>
<rect x="429" y="243" width="2" height="2" fill="#c81414"/>
<rect x="468" y="242" width="4" height="3" fill="#c81414"/>
<rect x="442" y="124" width="2" height="3" fill="#c81414"/>
<rect x="444" y="123" width="5" height="2" fill="#c81414"/>
<rect x="514" y="132" width="2" height="2" fill="#c81414"/>
<rect x="512" y="134" width="2" height="2" fill="#c81414"/>
<rect x="508" y="136" width="2" height="2" fill="#c81414"/>
<rect x="504" y="138" width="2" height="3" fill="#c81414"/>
<rect x="507" y="140" width="2" height="2" fill="#c81414"/>
<rect x="507" y="145" width="5" height="2" fill="#c81414"/>
<rect x="639" y="116" width="2" height="2" fill="#c81414"/>
<rect x="639" y="157" width="3" height="4" fill="#c81414"/>
<rect x="667" y="172" width="2" height="2" fill="#c81414"/>
<rect x="625" y="172" width="2" height="2" fill="#c81414"/>
<rect x="624" y="178" width="2" height="3" fill="#c81414"/>
<rect x="611" y="183" width="2" height="3" fill="#c81414"/>
<rect x="607" y="188" width="2" height="2" fill="#c81414"/>
<rect x="576" y="179" width="2" height="2" fill="#c81414"/>
<rect x="573" y="187" width="2" height="2" fill="#c81414"/>
<rect x="602" y="196" width="4" height="2" fill="#c81414"/>
<rect x="604" y="197" width="2" height="2" fill="#c81414"/>
<rect x="600" y="200" width="3" height="2" fill="#c81414"/>
<rect x="597" y="210" width="2" height="2" fill="#c81414"/>
<rect x="599" y="212" width="2" height="2" fill="#c81414"/>
<rect x="600" y="212" width="2" height="2" fill="#c81414"/>
<rect x="644" y="200" width="2" height="2" fill="#c81414"/>
<rect x="651" y="200" width="2" height="3" fill="#c81414"/>
<rect x="659" y="199" width="2" height="2" fill="#c81414"/>
<rect x="654" y="204" width="3" height="2" fill="#c81414"/>
<rect x="656" y="205" width="3" height="2" fill="#c81414"/>
<rect x="627" y="226" width="2" height="3" fill="#c81414"/>
<rect x="627" y="231" width="2" height="2" fill="#c81414"/>
<rect x="631" y="231" width="2" height="3" fill="#c81414"/>
<rect x="611" y="257" width="6" height="3" fill="#c81414"/>
<rect x="664" y="246" width="2" height="2" fill="#c81414"/>
<rect x="666" y="244" width="3" height="2" fill="#c81414"/>
<rect x="665" y="254" width="2" height="2" fill="#c81414"/>
<rect x="668" y="270" width="2" height="2" fill="#c81414"/>
<rect x="688" y="206" width="3" height="3" fill="#c81414"/>
<rect x="691" y="207" width="3" height="4" fill="#c81414"/>
<rect x="694" y="210" width="2" height="2" fill="#c81414"/>
<rect x="698" y="205" width="2" height="2" fill="#c81414"/>
<rect x="542" y="217" width="2" height="2" fill="#c81414"/>
</g>
<g stroke="#000" stroke-width="1" stroke-dasharray="1 5" shape-rendering="crispEdges"><line x1="17.5" y1="86" x2="17.5" y2="304"/><line x1="47.5" y1="86" x2="47.5" y2="304"/><line x1="77.5" y1="86" x2="77.5" y2="304"/><line x1="107.5" y1="86" x2="107.5" y2="304"/><line x1="137.5" y1="86" x2="137.5" y2="304"/><line x1="167.5" y1="86" x2="167.5" y2="304"/><line x1="197.5" y1="86" x2="197.5" y2="304"/><line x1="227.5" y1="86" x2="227.5" y2="304"/><line x1="257.5" y1="86" x2="257.5" y2="304"/><line x1="287.5" y1="86" x2="287.5" y2="304"/><line x1="317.5" y1="86" x2="317.5" y2="304"/><line x1="347.5" y1="86" x2="347.5" y2="304"/><line x1="377.5" y1="86" x2="377.5" y2="304"/><line x1="407.5" y1="86" x2="407.5" y2="304"/><line x1="437.5" y1="86" x2="437.5" y2="304"/><line x1="467.5" y1="86" x2="467.5" y2="304"/><line x1="497.5" y1="86" x2="497.5" y2="304"/><line x1="527.5" y1="86" x2="527.5" y2="304"/><line x1="557.5" y1="86" x2="557.5" y2="304"/><line x1="587.5" y1="86" x2="587.5" y2="304"/><line x1="617.5" y1="86" x2="617.5" y2="304"/><line x1="647.5" y1="86" x2="647.5" y2="304"/><line x1="677.5" y1="86" x2="677.5" y2="304"/><line x1="707.5" y1="86" x2="707.5" y2="304"/><line x1="737.5" y1="86" x2="737.5" y2="304"/><line x1="17" y1="104.5" x2="738" y2="104.5"/><line x1="17" y1="134.5" x2="738" y2="134.5"/><line x1="17" y1="164.5" x2="738" y2="164.5"/><line x1="17" y1="224.5" x2="738" y2="224.5"/><line x1="17" y1="254.5" x2="738" y2="254.5"/><line x1="17" y1="284.5" x2="738" y2="284.5"/></g><line x1="17" y1="194.5" x2="738" y2="194.5" stroke="#808080" stroke-width="1" shape-rendering="crispEdges"/><line x1="17" y1="194.5" x2="738" y2="194.5" stroke="#000" stroke-width="1" stroke-dasharray="1 5" shape-rendering="crispEdges"/>
<defs><clipPath id="mc1l"><rect x="17" y="78" width="740" height="231"/></clipPath></defs>
<g clip-path="url(#mc1l)" shape-rendering="crispEdges"><rect x="96" y="83" width="1" height="5" fill="#000"/><rect x="96" y="192" width="1" height="5" fill="#000"/><text transform="translate(99.7,109.4) rotate(-90) scale(1,1.36)" class="pl">0213</text><rect x="117" y="83" width="1" height="5" fill="#000"/><rect x="117" y="192" width="1" height="5" fill="#000"/><text transform="translate(120.7,109.4) rotate(-90) scale(1,1.36)" class="pl">0141</text><rect x="164" y="83" width="1" height="5" fill="#000"/><rect x="164" y="192" width="1" height="5" fill="#000"/><text transform="translate(167.7,109.4) rotate(-90) scale(1,1.36)" class="pl">0108</text><rect x="211" y="83" width="1" height="5" fill="#000"/><rect x="211" y="192" width="1" height="5" fill="#000"/><text transform="translate(214.7,109.4) rotate(-90) scale(1,1.36)" class="pl">0235</text><rect x="258" y="83" width="1" height="5" fill="#000"/><rect x="258" y="192" width="1" height="5" fill="#000"/><text transform="translate(261.7,109.4) rotate(-90) scale(1,1.36)" class="pl">0301</text><rect x="305" y="83" width="1" height="5" fill="#000"/><rect x="305" y="192" width="1" height="5" fill="#000"/><text transform="translate(308.7,109.4) rotate(-90) scale(1,1.36)" class="pl">0228</text><rect x="352" y="83" width="1" height="5" fill="#000"/><rect x="352" y="192" width="1" height="5" fill="#000"/><text transform="translate(355.7,109.4) rotate(-90) scale(1,1.36)" class="pl">0256</text><rect x="399" y="83" width="1" height="5" fill="#000"/><rect x="399" y="192" width="1" height="5" fill="#000"/><text transform="translate(402.7,109.4) rotate(-90) scale(1,1.36)" class="pl">0123</text><rect x="459" y="83" width="1" height="5" fill="#000"/><rect x="459" y="192" width="1" height="5" fill="#000"/><text transform="translate(462.7,109.4) rotate(-90) scale(1,1.36)" class="pl">0103</text><rect x="506" y="83" width="1" height="5" fill="#000"/><rect x="506" y="192" width="1" height="5" fill="#000"/><text transform="translate(509.7,109.4) rotate(-90) scale(1,1.36)" class="pl">0130</text><rect x="553" y="83" width="1" height="5" fill="#000"/><rect x="553" y="192" width="1" height="5" fill="#000"/><text transform="translate(556.7,109.4) rotate(-90) scale(1,1.36)" class="pl">0057</text><rect x="600" y="83" width="1" height="5" fill="#000"/><rect x="600" y="192" width="1" height="5" fill="#000"/><text transform="translate(603.7,109.4) rotate(-90) scale(1,1.36)" class="pl">0125</text><rect x="648" y="83" width="1" height="5" fill="#000"/><rect x="648" y="192" width="1" height="5" fill="#000"/><text transform="translate(651.7,109.4) rotate(-90) scale(1,1.36)" class="pl">0152</text><rect x="695" y="83" width="1" height="5" fill="#000"/><rect x="695" y="192" width="1" height="5" fill="#000"/><text transform="translate(698.7,109.4) rotate(-90) scale(1,1.36)" class="pl">0119</text><rect x="96" y="299" width="1" height="5" fill="#000"/><text transform="translate(99.7,298.2) rotate(-90) scale(1,1.36)" class="pl">1213</text><rect x="117" y="299" width="1" height="5" fill="#000"/><text transform="translate(120.7,298.2) rotate(-90) scale(1,1.36)" class="pl">1041</text><rect x="164" y="299" width="1" height="5" fill="#000"/><text transform="translate(167.7,298.2) rotate(-90) scale(1,1.36)" class="pl">0908</text><rect x="211" y="299" width="1" height="5" fill="#000"/><text transform="translate(214.7,298.2) rotate(-90) scale(1,1.36)" class="pl">0735</text><rect x="258" y="299" width="1" height="5" fill="#000"/><text transform="translate(261.7,298.2) rotate(-90) scale(1,1.36)" class="pl">0601</text><rect x="305" y="299" width="1" height="5" fill="#000"/><text transform="translate(308.7,298.2) rotate(-90) scale(1,1.36)" class="pl">0428</text><rect x="352" y="299" width="1" height="5" fill="#000"/><text transform="translate(355.7,298.2) rotate(-90) scale(1,1.36)" class="pl">0256</text><rect x="399" y="299" width="1" height="5" fill="#000"/><text transform="translate(402.7,298.2) rotate(-90) scale(1,1.36)" class="pl">0123</text><rect x="459" y="299" width="1" height="5" fill="#000"/><text transform="translate(462.7,298.2) rotate(-90) scale(1,1.36)" class="pl">2303</text><rect x="506" y="299" width="1" height="5" fill="#000"/><text transform="translate(509.7,298.2) rotate(-90) scale(1,1.36)" class="pl">2130</text><rect x="553" y="299" width="1" height="5" fill="#000"/><text transform="translate(556.7,298.2) rotate(-90) scale(1,1.36)" class="pl">1957</text><rect x="600" y="299" width="1" height="5" fill="#000"/><text transform="translate(603.7,298.2) rotate(-90) scale(1,1.36)" class="pl">1825</text><rect x="648" y="299" width="1" height="5" fill="#000"/><text transform="translate(651.7,298.2) rotate(-90) scale(1,1.36)" class="pl">1652</text><rect x="695" y="299" width="1" height="5" fill="#000"/><text transform="translate(698.7,298.2) rotate(-90) scale(1,1.36)" class="pl">1519</text></g>
<defs><clipPath id="mc2"><rect x="18" y="328" width="720" height="221"/></clipPath>
<clipPath id="lc2"><path d="M107.0,323.0 114.0,328.0 116.4,330.4 119.0,333.0 121.4,336.0 122.0,337.4 127.0,339.0 130.6,340.6 132.0,341.4 132.2,344.0 130.0,342.6 127.6,342.2 128.8,345.4 129.0,347.0 128.8,351.0 128.0,353.4 128.6,357.0 128.2,358.2 129.4,360.4 131.0,362.6 132.0,363.4 132.2,364.6 133.2,365.8 134.4,367.6 135.8,369.0 135.8,370.0 138.4,370.6 140.2,371.4 142.4,373.0 142.8,374.0 143.8,375.6 145.0,378.0 146.6,380.0 148.6,382.0 147.4,383.4 149.6,385.4 152.2,387.0 153.0,389.4 155.4,391.8 157.0,393.2 158.0,392.6 157.8,391.0 155.8,389.8 155.0,387.4 153.0,385.0 151.4,382.6 149.8,380.6 148.0,378.6 147.4,375.8 149.0,376.0 150.6,376.6 151.8,379.4 153.6,381.8 155.8,383.4 157.6,385.6 158.6,387.8 161.0,389.4 163.4,391.4 165.4,393.8 166.4,396.0 166.0,398.0 167.0,400.0 169.4,401.8 172.6,403.2 175.0,404.6 177.4,405.4 180.0,406.4 183.0,407.2 185.0,407.6 187.0,406.8 189.0,407.0 191.0,408.6 192.6,410.0 195.0,411.2 197.0,411.8 199.0,412.4 201.4,412.8 202.0,413.2 203.8,415.0 205.4,416.8 205.6,418.6 207.0,419.4 208.0,420.2 209.8,421.2 210.6,422.4 211.6,422.6 213.0,422.8 214.0,423.6 215.2,424.4 216.4,424.2 217.0,423.0 216.4,422.2 217.8,421.2 219.0,421.4 220.4,422.6 221.0,423.8 221.8,424.6 222.2,426.0 222.2,428.0 222.4,431.0 221.8,433.4 219.8,434.4 219.2,436.0 217.0,437.4 216.6,439.0 215.8,440.6 215.2,442.0 215.4,443.6 217.0,444.2 217.2,445.6 216.2,446.0 214.6,447.6 214.6,450.0 215.4,451.6 217.4,453.4 219.0,455.8 220.4,458.6 221.8,461.4 223.4,463.8 224.6,466.2 226.0,468.6 228.6,470.6 231.8,472.6 234.4,474.2 236.2,475.8 236.8,479.0 236.6,483.0 236.0,487.0 235.8,491.0 234.4,496.0 234.0,500.0 233.8,504.0 233.0,508.0 231.4,511.0 230.2,513.8 230.2,517.0 229.4,520.0 229.4,522.6 228.6,525.0 228.0,528.0 226.0,531.6 227.0,535.0 226.0,539.0 227.0,542.0 228.6,544.6 231.0,546.6 233.0,547.8 236.0,549.4 240.0,550.6 243.4,549.8 246.6,548.8 244.0,547.4 241.0,545.4 240.0,544.0 238.6,542.0 239.8,539.8 241.8,537.8 245.0,535.4 245.6,533.4 243.0,532.2 241.8,531.0 243.8,529.2 246.0,528.2 246.6,525.8 248.2,524.8 249.6,524.2 248.6,523.0 247.0,522.0 247.0,520.8 249.4,521.2 251.8,520.6 252.6,518.0 254.0,516.8 258.0,516.4 261.4,515.4 263.0,513.0 263.4,511.8 262.4,510.6 262.6,509.4 260.4,508.2 260.2,507.0 262.0,507.8 265.0,508.6 267.4,508.6 269.8,507.2 271.4,505.0 274.0,502.2 276.0,500.0 277.4,497.6 279.6,495.6 279.8,492.6 280.2,490.2 282.4,488.0 285.0,486.8 287.4,485.6 290.6,485.0 293.0,484.8 295.0,483.0 295.4,481.0 297.0,479.0 297.8,476.0 298.6,473.0 299.0,470.0 299.0,467.0 300.0,465.0 301.4,463.0 303.0,460.6 305.0,459.0 306.6,457.0 307.2,455.0 307.4,453.0 307.0,451.0 306.4,449.4 304.0,449.0 302.0,448.2 300.0,446.4 297.4,444.8 294.6,444.8 292.0,444.4 289.4,443.8 287.8,444.6 287.4,442.6 285.0,441.2 282.0,440.2 280.0,441.4 278.0,439.6 276.4,438.6 277.0,436.6 275.4,434.6 274.6,431.0 273.0,429.4 271.0,428.0 268.0,427.2 265.4,427.2 263.0,427.0 261.0,425.4 259.0,423.2 257.0,422.0 255.0,420.4 253.4,419.0 252.0,417.8 249.4,418.0 247.4,418.8 245.0,417.8 242.0,418.0 240.4,417.2 238.6,416.0 237.0,414.8 235.8,416.0 234.4,417.0 233.4,415.8 234.4,414.4 232.6,415.0 230.6,416.4 228.4,416.6 227.0,417.2 225.8,418.6 225.4,420.4 223.4,421.8 222.6,421.4 221.4,420.4 219.4,420.0 217.8,419.8 216.2,420.8 214.6,421.4 213.4,421.0 212.2,420.2 211.0,419.0 209.8,417.2 209.4,415.4 210.0,413.4 210.2,411.0 210.6,409.0 209.0,407.4 207.0,407.2 205.0,407.2 203.0,407.4 201.0,407.6 199.8,407.2 199.2,406.4 200.4,404.6 200.6,402.4 201.4,402.2 202.0,400.0 202.2,398.2 203.4,396.6 202.2,396.0 200.0,396.0 197.4,396.4 196.2,397.4 195.8,399.4 194.6,401.2 193.0,401.8 191.0,402.2 188.6,402.6 187.0,402.0 185.4,401.4 184.2,400.2 183.0,398.4 182.0,396.0 181.4,394.0 181.4,391.4 182.0,389.0 182.6,387.0 182.2,384.6 183.0,383.0 185.0,381.8 187.0,380.6 189.0,379.8 191.0,379.4 193.0,379.8 195.0,380.6 196.6,380.8 198.2,381.0 198.6,380.0 197.8,378.6 200.0,378.2 202.0,378.4 204.4,378.2 206.0,379.0 207.0,379.8 208.6,379.0 209.8,379.6 211.4,381.0 211.6,383.0 211.8,384.4 213.0,385.8 213.6,387.2 214.6,388.6 216.2,388.6 216.8,387.4 217.0,385.4 216.2,383.4 215.8,382.0 214.8,380.0 214.2,378.0 214.6,376.0 215.6,374.4 217.4,373.4 219.0,372.0 221.0,371.2 222.6,369.8 224.2,369.4 225.4,368.6 225.6,367.2 225.0,365.2 224.4,364.0 225.4,363.8 226.6,362.4 227.0,361.4 227.4,360.8 228.8,359.4 229.0,358.0 231.0,357.4 233.0,357.0 234.6,356.0 235.8,355.8 237.0,355.6 236.6,354.8 235.4,354.2 235.6,352.8 236.6,351.6 238.6,351.0 240.6,350.2 242.6,349.6 243.2,348.8 245.4,348.4 247.4,347.8 248.2,348.4 245.4,349.8 244.8,351.4 246.2,352.0 248.6,350.0 251.0,349.4 254.0,348.6 256.6,347.4 257.0,345.8 255.8,345.0 254.2,347.2 252.0,347.6 249.6,347.2 247.8,346.4 247.2,344.8 245.6,343.6 247.4,343.2 248.4,341.4 247.0,340.6 244.0,340.8 241.0,342.0 238.0,343.8 236.0,345.0 237.4,343.0 239.4,341.2 242.0,340.0 244.0,338.6 247.0,338.4 250.0,338.4 253.0,338.6 256.0,338.6 258.4,337.4 261.0,336.4 263.0,336.0 265.0,335.0 265.4,333.4 264.0,331.8 262.4,331.0 261.0,329.6 258.0,328.4 256.0,327.4 254.0,325.0 253.0,323.0 223.0,323.0 222.0,325.0 223.8,327.0 221.0,328.6 218.0,330.0 219.0,332.0 219.4,334.0 218.0,335.8 216.0,336.4 214.0,334.6 212.6,333.0 212.6,330.0 212.0,328.6 207.0,328.2 202.0,327.0 199.0,325.4 193.0,324.6 191.0,322.0ZM258.4,343.6 261.0,343.8 264.0,344.0 266.0,345.2 269.0,345.4 271.0,345.6 271.6,344.0 271.0,342.6 269.8,341.4 270.0,340.4 267.4,340.0 265.4,339.0 265.8,337.4 266.0,335.8 264.0,337.0 262.4,338.6 261.2,340.4 260.0,341.8 258.4,343.6ZM207.2,395.4 208.6,393.8 211.0,393.0 213.0,392.6 215.8,392.8 218.0,394.0 221.0,394.4 223.0,395.8 225.0,396.8 227.0,397.6 228.6,398.6 226.6,399.2 224.0,399.2 221.6,399.2 222.6,397.8 220.6,397.4 219.4,395.8 216.6,395.4 214.0,394.6 212.0,393.8 210.0,394.6 209.0,395.2ZM228.2,401.8 230.0,402.6 233.0,402.8 234.2,403.6 235.8,402.4 238.0,402.2 240.2,402.6 240.2,401.6 238.6,401.0 237.4,400.2 235.8,399.4 233.6,399.2 231.4,399.2 230.2,399.6 231.6,400.6 232.2,401.8 230.0,401.8ZM220.4,402.2 222.6,402.0 224.4,402.8 223.0,403.4 221.0,403.0ZM242.6,402.0 245.6,402.2 245.4,403.0 242.6,403.1ZM255.0,542.0 258.0,541.4 261.4,542.0 260.0,543.4 257.0,543.4 255.0,543.0ZM120.4,337.4 125.0,338.6 128.0,340.4 130.2,342.2 127.4,341.8 124.0,340.0ZM253.4,417.6 255.2,417.4 255.0,418.8 253.2,418.8ZM393.0,323.0 393.2,325.4 393.4,327.0 393.4,328.2 394.2,329.2 394.8,330.8 393.6,331.4 391.4,331.8 389.0,332.2 387.0,332.6 386.4,333.8 385.2,335.0 384.0,336.2 382.0,336.8 380.4,337.2 380.2,338.4 378.6,339.2 377.2,339.8 374.8,340.2 374.4,339.6 373.2,339.6 373.8,341.6 371.6,341.8 369.8,341.4 367.6,342.0 367.8,343.0 368.6,343.4 371.0,343.8 372.4,344.6 373.2,345.8 374.6,346.8 374.6,349.0 374.4,351.0 373.6,352.2 371.0,352.2 368.0,352.2 365.0,351.8 362.0,351.6 360.4,351.8 358.6,352.8 359.2,354.6 359.6,356.6 359.4,358.6 358.2,360.4 358.2,361.6 359.4,362.2 359.4,363.8 359.2,365.0 361.2,365.0 363.0,364.6 364.2,365.4 365.0,366.6 366.0,366.9 367.0,366.2 368.4,365.6 371.0,365.6 372.8,365.4 373.8,364.4 375.6,363.6 376.6,362.0 377.4,361.4 376.4,360.0 377.2,358.6 378.6,357.4 380.0,356.6 381.6,356.0 383.4,355.2 383.4,354.2 383.0,353.0 384.2,352.2 385.8,352.0 387.4,352.4 389.0,352.8 390.6,352.4 392.0,351.4 393.6,350.8 394.8,350.2 396.2,350.8 397.4,351.4 398.0,353.0 399.2,354.2 400.6,355.0 401.8,355.8 403.0,356.6 404.6,356.8 405.6,357.6 407.0,358.6 408.2,359.0 408.8,360.4 409.2,361.4 408.4,362.6 408.4,363.2 409.4,363.0 410.2,361.8 411.2,361.2 411.2,360.2 410.2,359.6 410.6,358.4 411.4,358.0 413.0,359.0 413.8,359.4 414.0,358.6 413.0,357.6 411.6,357.0 410.0,356.4 408.8,355.8 409.2,355.2 407.6,355.2 406.4,354.6 405.2,353.8 404.6,352.6 404.0,351.8 402.6,351.0 401.6,350.2 401.6,349.0 402.0,348.0 403.4,347.6 404.4,347.6 404.2,348.8 405.0,349.2 405.8,348.4 406.8,349.0 407.4,350.4 408.8,351.6 410.0,352.0 411.6,352.8 413.0,353.6 414.2,354.4 415.4,355.2 416.0,356.2 415.8,357.8 416.8,359.2 417.4,360.2 418.6,361.4 419.6,362.4 419.4,363.4 420.2,364.6 420.6,365.4 421.6,365.8 422.4,365.6 423.0,366.0 423.2,365.0 422.6,364.0 423.6,363.8 424.2,363.2 425.0,363.6 425.2,362.6 424.0,362.0 422.8,361.2 422.8,360.2 422.4,359.2 422.4,358.2 423.6,358.6 424.6,359.0 425.6,358.4 425.6,357.4 427.4,357.2 429.0,357.4 429.4,358.4 430.4,358.0 431.6,357.2 433.4,357.0 435.0,356.9 433.4,356.0 433.0,355.0 432.4,353.8 432.8,352.6 434.0,351.8 434.2,350.6 434.8,349.4 436.2,348.6 437.0,347.4 438.4,346.2 440.0,345.8 441.4,346.2 443.0,346.8 444.0,347.2 442.4,348.0 443.8,349.0 444.0,349.8 445.6,350.0 447.4,349.2 449.6,348.6 450.0,348.2 448.0,348.2 447.0,347.2 447.4,346.2 449.4,345.6 451.8,345.0 453.8,344.6 455.4,344.6 454.6,345.6 453.0,346.6 452.6,347.8 451.4,348.4 450.6,348.8 452.0,349.6 454.0,350.4 455.6,351.4 457.0,352.2 459.0,353.0 460.2,354.2 460.2,355.8 458.6,356.6 456.6,357.0 454.6,357.0 452.6,356.8 450.6,356.4 449.0,355.6 447.2,355.0 445.0,355.0 443.0,355.2 441.0,355.8 439.4,356.8 437.4,356.6 435.2,356.7 435.0,357.2 433.4,358.0 431.0,358.2 429.8,358.8 429.4,360.0 430.6,361.0 430.6,362.2 429.8,362.4 431.4,363.6 431.6,365.0 433.0,365.6 434.2,365.6 435.4,366.4 437.4,366.4 438.4,365.4 440.2,365.8 442.0,366.8 444.0,366.6 446.2,365.4 448.0,365.8 449.2,365.6 448.8,367.0 448.6,369.0 448.8,370.4 448.0,371.8 447.2,373.0 446.8,374.4 446.2,375.6 445.4,376.4 444.0,376.8 442.2,376.8 441.6,376.4 440.6,376.0 439.0,375.8 437.6,376.2 436.2,377.0 434.6,377.2 432.6,376.6 430.6,376.0 428.6,375.8 427.0,375.2 425.0,374.6 423.4,373.8 421.0,373.2 419.4,373.4 417.4,374.4 417.0,376.0 416.0,377.8 414.0,378.4 412.0,377.4 410.0,376.6 408.0,375.4 407.4,374.2 405.4,373.6 403.0,373.2 401.0,373.2 399.4,372.6 398.6,371.6 397.2,370.6 398.2,369.8 399.0,368.2 398.2,366.2 399.2,365.0 397.6,364.6 396.4,364.4 394.4,365.1 392.0,365.0 389.6,365.0 387.4,365.4 385.0,365.2 382.8,365.4 380.2,366.0 377.4,367.0 375.4,367.6 373.0,368.8 371.0,368.4 368.6,368.6 366.6,368.0 366.2,367.3 365.2,367.4 364.4,369.2 363.2,371.0 361.4,372.2 359.6,373.0 358.4,374.4 357.4,376.0 357.6,378.0 357.2,379.4 355.4,381.2 353.8,382.4 351.4,383.2 350.2,384.6 348.6,386.2 347.4,387.8 345.8,390.0 345.0,391.6 343.6,393.8 343.0,396.0 343.0,397.0 344.4,398.6 344.4,400.6 344.8,403.0 344.0,406.0 343.4,408.0 342.2,409.6 343.4,411.4 343.6,413.4 344.0,414.6 345.8,416.0 347.0,417.4 348.4,418.6 349.8,419.8 350.6,421.4 351.8,423.2 353.6,425.0 355.4,426.0 357.4,427.4 359.4,429.0 361.8,430.2 364.0,429.6 366.6,428.8 369.0,428.6 371.0,429.0 373.0,429.4 375.0,428.6 377.4,427.6 379.4,426.8 382.0,426.4 384.0,426.2 386.0,426.6 387.4,427.8 388.0,429.2 389.4,430.4 391.4,430.2 393.4,430.0 394.6,430.2 396.0,431.2 396.4,432.6 396.6,434.6 396.0,436.6 395.6,438.2 394.6,440.2 395.4,442.2 396.6,444.2 398.6,446.4 400.2,448.0 401.0,449.6 401.6,451.0 402.6,453.0 403.6,455.6 403.0,457.4 404.2,459.8 404.6,462.0 404.0,464.0 402.2,466.0 401.4,468.6 400.8,471.0 400.6,473.4 401.4,476.0 403.0,479.0 404.2,481.4 405.8,484.0 406.0,486.6 406.8,489.4 407.4,492.6 409.0,495.4 410.6,497.8 412.0,500.6 413.4,502.8 413.4,504.8 413.8,506.8 414.8,507.8 417.0,508.6 419.4,507.8 422.0,507.0 424.6,507.0 427.0,507.0 428.6,506.8 430.6,506.4 432.6,505.2 434.6,503.8 436.4,501.8 438.2,499.6 439.4,497.8 441.0,496.2 442.4,494.6 442.8,491.6 442.4,490.6 444.0,489.4 447.0,488.2 448.0,486.2 447.8,483.6 447.0,481.0 446.6,479.0 448.2,477.0 450.6,475.0 453.0,473.4 455.6,472.0 457.6,470.6 458.6,468.6 458.2,466.0 458.0,463.4 458.0,460.6 457.0,459.0 456.0,457.0 455.6,454.6 456.0,452.6 454.8,451.0 455.0,449.0 455.8,447.4 457.0,445.0 458.6,443.4 460.0,442.2 461.4,440.4 463.4,438.4 465.6,436.6 468.0,435.0 470.0,433.2 472.2,431.0 474.0,428.6 475.6,425.8 476.6,423.4 477.8,421.0 479.0,418.2 479.6,415.4 477.6,415.4 475.0,416.2 472.0,416.8 469.0,417.6 466.6,418.2 464.6,417.4 463.4,416.0 463.6,415.0 462.8,413.6 461.4,412.0 459.6,410.2 458.0,409.0 456.6,407.8 455.4,405.8 454.6,403.6 453.0,402.2 451.8,400.0 451.4,397.4 451.0,395.0 449.4,393.0 448.2,391.0 447.0,389.0 445.8,387.0 445.0,385.0 444.2,383.4 443.0,381.8 442.2,380.2 442.0,379.0 442.4,379.6 443.4,381.4 444.4,382.6 445.4,383.4 446.0,382.0 446.8,380.0 447.0,381.4 447.4,383.0 448.6,384.6 450.0,386.6 451.2,388.6 452.0,390.4 453.6,392.0 455.0,394.0 455.4,396.0 456.6,397.8 458.2,399.4 459.4,401.4 461.0,403.4 462.0,405.4 462.6,407.4 463.0,409.4 463.6,411.8 464.0,413.4 466.0,413.6 467.4,413.0 470.0,412.2 472.6,411.2 475.0,410.0 477.6,408.8 480.6,407.8 481.6,406.4 484.0,405.4 486.6,405.0 488.0,403.8 490.0,402.6 492.0,401.2 492.6,399.4 493.6,397.8 494.8,396.0 496.4,394.2 496.6,393.2 494.8,391.8 492.6,391.4 490.6,390.4 489.8,389.0 489.6,386.6 489.2,387.0 488.6,388.2 486.6,389.2 485.0,390.6 482.6,390.6 480.6,390.8 480.0,389.8 480.2,387.4 479.2,387.0 478.6,388.6 477.6,387.4 477.4,385.8 476.0,384.4 474.6,383.0 473.4,381.0 472.8,379.8 474.0,379.0 475.4,378.2 477.0,378.6 478.4,380.2 479.6,382.6 481.4,384.0 483.4,385.4 485.6,385.8 487.6,385.4 489.6,384.8 491.0,385.4 491.6,387.4 494.0,388.0 497.0,388.2 500.0,388.6 503.0,388.6 506.0,388.4 509.0,388.2 510.6,389.2 511.6,390.2 513.0,391.4 514.6,392.4 516.6,393.8 515.0,394.4 516.0,396.6 518.0,397.4 520.6,397.0 521.6,395.4 522.2,397.0 522.6,399.0 522.6,401.0 523.0,403.0 523.6,405.0 524.2,407.0 525.0,409.0 526.0,411.0 526.8,413.4 528.0,415.8 529.4,418.6 530.2,421.0 531.4,422.6 532.2,422.9 533.4,421.4 535.0,420.4 535.6,418.6 536.6,417.4 536.6,415.0 537.4,412.6 537.2,410.0 537.4,408.0 539.0,406.6 541.4,405.8 543.4,404.0 545.4,402.0 547.4,400.2 549.8,399.2 551.0,397.2 552.6,395.8 554.6,395.6 556.6,395.2 558.2,393.8 559.6,394.2 560.6,395.8 561.4,397.4 562.6,399.0 564.2,400.6 565.4,402.2 565.8,404.4 565.6,406.8 567.4,407.6 569.4,406.6 571.0,405.2 572.2,406.4 572.4,408.6 573.2,411.0 574.0,413.4 574.2,415.4 574.4,417.6 573.6,420.0 573.4,422.2 574.2,423.0 575.8,425.0 577.0,426.2 577.8,427.8 578.4,429.8 579.4,432.2 580.2,433.8 582.0,435.0 583.8,436.2 585.4,436.4 585.2,434.6 584.0,433.0 583.8,431.0 583.4,429.0 582.2,427.4 581.0,426.4 579.4,425.2 577.8,424.0 577.0,421.8 575.8,419.8 575.4,418.0 576.2,416.0 577.0,413.8 577.6,412.0 579.0,412.4 580.2,413.6 581.8,414.6 583.0,416.6 584.6,417.8 586.6,418.2 587.2,419.8 586.6,421.6 588.0,421.0 590.0,419.6 591.4,418.2 593.0,417.4 595.0,416.0 595.6,413.8 595.6,411.4 595.0,409.0 593.6,406.8 592.2,405.4 590.6,403.8 589.6,402.0 588.4,400.4 589.4,399.0 591.0,397.2 593.4,396.0 595.4,396.0 596.6,396.2 597.4,398.2 598.2,396.6 600.6,395.6 603.0,394.8 605.4,394.2 607.4,393.4 610.0,393.0 612.0,391.4 614.0,389.8 615.6,388.0 616.6,386.0 618.2,383.4 619.8,382.0 620.8,380.0 620.0,379.0 618.6,378.4 620.0,377.2 620.6,375.6 619.0,374.2 617.8,372.0 615.8,369.6 616.6,367.8 618.0,366.6 620.0,365.4 622.0,365.0 621.6,364.0 619.0,363.8 616.6,364.4 615.0,364.2 614.0,362.6 612.4,361.4 613.4,360.6 615.4,360.2 618.0,358.6 619.8,357.2 621.4,358.0 620.0,360.2 619.8,361.4 622.0,360.4 624.0,359.6 625.6,359.2 627.0,360.0 627.6,362.0 626.6,363.0 628.6,363.4 630.2,364.2 630.0,366.0 630.0,368.0 629.6,369.6 631.4,370.0 633.4,369.4 635.2,368.8 636.0,367.0 635.8,365.0 634.6,363.0 633.0,361.0 631.8,359.8 633.4,358.6 635.6,357.6 636.4,356.0 638.0,354.4 640.0,353.4 642.0,352.6 644.0,353.4 646.6,352.2 648.6,350.6 650.2,348.6 652.2,346.6 653.8,344.4 655.6,342.4 657.4,340.6 658.0,338.6 658.2,336.4 659.6,334.4 659.4,332.6 657.4,332.0 655.4,330.8 653.0,330.6 651.4,331.0 650.2,329.4 648.0,329.6 650.6,328.2 652.6,326.6 655.0,325.0 657.0,323.0 419.0,323.0 419.0,325.0 419.0,327.0 419.0,328.4 417.8,329.6 416.2,330.2 414.6,330.2 413.8,329.4 411.0,329.6 409.0,330.4 406.0,331.0 404.2,330.0 402.0,330.2 400.0,331.0 398.6,331.0 397.0,330.0 396.6,329.0 397.0,327.8 397.8,326.6 398.2,325.0 398.0,323.0ZM366.6,321.8 370.6,321.6 370.2,323.4 373.0,323.8 372.6,325.8 371.4,326.8 372.6,327.4 373.8,328.6 374.6,330.0 376.4,330.8 377.0,331.8 377.6,333.0 380.0,333.2 380.4,334.2 379.6,335.4 378.6,336.2 379.8,336.6 379.0,337.2 377.0,337.4 374.6,337.6 373.0,337.8 371.0,337.6 369.8,338.4 368.0,338.4 366.6,339.0 365.6,338.8 367.0,338.0 368.4,336.8 370.6,336.6 371.0,336.0 369.0,335.8 366.6,335.6 367.6,334.8 368.8,334.0 368.0,333.2 368.2,332.4 370.6,332.2 371.0,331.2 370.2,330.0 370.2,329.2 367.4,329.4 367.0,328.4 367.4,327.4 365.8,328.2 365.4,326.6 365.8,325.0 365.4,323.8ZM364.8,334.6 365.0,333.0 364.6,331.4 365.8,330.2 364.6,328.6 362.2,328.4 360.2,329.4 359.8,330.4 357.0,330.6 357.4,332.2 358.4,332.8 357.8,333.8 356.4,334.8 357.4,335.8 360.0,335.8 362.2,335.0ZM401.8,363.0 403.6,362.6 406.0,363.0 408.2,362.4 407.4,364.2 407.2,365.6 405.6,365.2 403.4,364.2 402.0,363.8ZM393.4,357.0 395.4,356.6 396.4,357.8 396.2,360.4 395.2,361.0 393.8,361.0 393.8,359.0ZM394.2,354.2 395.8,353.0 396.0,355.0 395.4,356.2 394.2,355.4ZM424.0,367.8 426.0,368.0 428.2,368.4 429.6,368.6 429.0,369.0 426.6,369.2 424.2,368.6ZM441.6,369.0 442.8,368.4 444.2,368.2 446.2,367.6 445.0,369.0 444.2,369.4 443.0,369.8 441.8,369.4ZM381.8,359.8 383.2,359.2 383.8,359.8 383.2,360.4 382.2,360.2ZM343.2,382.4 344.8,382.0 344.2,383.0 346.2,382.8 346.0,383.4 345.0,383.0ZM475.6,463.2 477.0,466.0 477.8,469.6 476.6,470.2 476.4,472.6 475.6,475.0 474.6,478.0 473.6,481.0 472.6,484.2 471.4,487.4 470.6,489.2 468.0,490.2 465.6,489.2 464.4,487.4 463.6,484.2 464.0,481.8 465.6,479.4 465.8,477.0 465.0,474.6 466.0,471.8 468.2,470.8 470.0,470.0 472.0,468.4 473.0,466.6 474.6,464.6ZM536.6,419.6 537.6,420.0 539.4,422.0 540.6,424.0 540.2,426.2 538.2,427.1 537.0,426.4 536.6,424.0 536.6,421.8ZM594.4,400.4 596.0,399.0 598.2,398.8 599.0,399.8 598.0,401.4 596.2,402.6 594.4,401.8ZM619.0,388.6 620.8,389.0 620.2,391.0 619.6,393.0 618.6,395.0 617.4,393.4 617.4,391.4 618.2,389.8ZM657.0,356.0 657.6,354.4 659.4,352.6 660.4,350.0 661.0,348.0 663.0,349.8 665.6,351.0 667.6,350.6 668.0,352.4 666.0,353.0 663.6,354.6 663.4,355.0 661.0,354.0 659.4,354.2 658.6,355.4ZM659.8,356.2 660.8,358.0 661.0,360.0 660.0,362.4 659.0,364.0 658.6,365.4 658.6,367.4 657.0,368.4 656.6,369.2 655.4,368.6 654.6,369.8 653.4,369.8 651.6,369.8 650.8,370.4 649.6,371.8 648.6,372.0 647.4,371.4 647.4,370.2 646.0,369.6 644.0,370.2 642.0,370.4 640.6,371.2 639.0,371.2 638.8,370.2 641.0,369.0 643.4,368.0 646.0,367.8 648.0,367.8 649.0,367.0 650.6,365.4 651.6,364.0 651.0,365.4 653.0,364.8 654.6,363.4 656.0,362.0 657.0,360.0 657.0,358.0 657.6,356.6 659.0,356.4ZM641.4,372.2 642.6,371.0 644.6,370.4 646.2,370.6 646.4,371.4 645.4,372.4 644.0,372.2 643.0,373.4 642.2,373.2ZM636.4,372.6 637.8,371.4 639.0,371.4 640.4,372.0 640.8,373.4 640.0,375.4 639.0,376.4 638.2,376.8 637.4,376.2 637.4,374.6 636.6,373.6ZM661.0,347.0 664.0,345.4 662.6,344.0 663.0,342.0 663.6,340.0 665.4,340.6 664.0,338.0 663.6,336.0 663.6,334.0 663.0,332.2 662.4,330.4 661.4,332.0 660.6,334.0 661.0,336.0 661.2,338.0 661.0,340.0 661.0,342.0 661.0,344.0ZM690.4,337.0 692.6,335.4 694.0,333.4 696.6,332.6 697.0,331.0 700.4,329.8 701.2,328.0 702.0,326.4 703.0,325.0 703.0,323.0 690.0,323.0 689.0,325.0 688.2,327.0 688.0,329.0 688.6,331.0 689.0,333.0 689.8,335.0ZM618.2,402.0 620.0,401.8 621.6,402.2 621.4,404.4 620.2,407.0 620.4,409.0 622.0,410.6 624.6,411.4 625.2,413.4 623.6,413.0 622.0,411.8 620.2,411.6 618.4,411.4 618.2,409.8 617.0,409.0 616.8,406.6 617.8,405.0ZM621.0,424.6 623.0,423.0 625.0,422.2 627.6,419.6 629.6,421.4 630.0,424.6 629.0,426.4 628.0,427.6 627.0,427.2 625.4,426.4 624.0,424.0 621.6,425.2ZM621.0,415.4 623.2,416.0 625.0,416.6 627.0,416.6 628.2,414.2 628.0,417.4 627.0,419.0 625.0,419.0 623.6,420.6 622.2,419.4 621.0,417.8ZM611.4,422.2 613.4,420.4 615.8,417.6 616.4,416.2 615.0,418.4 613.0,421.0 611.6,422.6ZM617.8,412.0 619.6,412.2 620.0,414.0 619.0,414.6 618.2,413.4ZM595.4,435.4 597.4,435.6 599.4,435.4 600.0,433.8 602.6,432.8 604.6,430.6 606.6,429.2 608.6,427.8 610.6,425.2 612.2,426.0 613.6,427.4 615.4,428.6 613.8,429.6 612.6,431.0 612.2,432.6 613.0,434.6 614.6,437.0 613.0,437.4 612.2,439.0 611.8,440.8 610.2,442.2 609.8,444.2 609.4,446.2 608.6,446.6 606.6,447.2 604.6,446.0 602.6,445.8 600.6,445.8 598.6,444.8 597.4,443.0 597.0,441.4 595.4,440.0 595.0,438.2 594.8,436.6ZM567.6,427.8 569.8,428.4 572.0,428.6 573.8,430.6 576.2,432.6 578.2,434.6 580.2,435.4 582.2,437.0 584.0,438.4 584.6,440.2 586.0,442.0 587.4,443.8 589.0,445.0 588.8,447.4 588.6,450.6 587.0,450.6 585.8,450.2 584.2,448.6 582.2,447.2 580.6,445.4 579.0,443.6 577.8,441.4 576.6,439.4 575.0,437.4 574.2,435.4 572.6,434.0 571.4,432.4 569.4,431.0 567.8,429.2ZM587.6,452.2 589.4,450.8 591.4,451.0 593.6,451.8 596.0,452.6 598.2,452.0 600.2,452.4 602.6,452.8 604.6,454.2 606.0,454.6 606.0,456.4 604.0,455.8 601.4,455.6 599.0,455.4 596.6,454.6 594.2,454.4 591.8,454.2 589.8,453.6ZM616.6,437.4 618.6,436.4 621.4,437.0 624.2,437.2 626.6,436.0 627.4,436.2 626.0,438.0 623.4,438.4 620.2,438.0 617.6,438.4 617.2,440.6 618.6,441.6 620.6,440.8 623.4,440.6 623.6,441.4 621.4,442.6 620.2,443.0 621.6,445.4 622.6,447.4 621.8,448.6 620.2,448.2 619.0,446.0 618.6,444.6 617.8,445.4 617.8,448.2 617.6,450.0 616.2,450.2 615.8,448.0 616.0,446.0 614.6,444.6 615.4,442.6 616.0,440.6 616.6,439.0ZM639.0,440.6 641.6,439.8 644.0,440.4 645.4,442.0 646.6,445.4 648.2,445.6 650.6,443.6 653.0,442.4 656.0,443.4 659.0,444.2 662.0,445.4 665.0,446.6 667.4,447.8 668.6,449.8 671.0,451.0 672.6,452.2 671.4,453.4 673.0,455.0 675.0,457.0 677.0,459.0 678.6,460.2 676.6,460.0 674.0,459.4 671.4,458.0 669.4,455.8 667.0,454.6 665.0,454.2 663.4,455.8 662.0,457.4 659.4,457.4 657.4,455.4 655.0,455.2 653.0,455.8 652.6,453.8 654.2,452.6 653.0,450.2 650.6,448.6 648.0,447.8 645.0,446.8 643.0,447.0 642.2,445.8 642.6,444.6 644.6,443.8 642.0,443.4 640.0,442.0 639.0,441.4ZM632.0,435.2 633.0,434.6 634.2,436.0 634.6,438.0 633.4,440.4 632.6,438.6 632.0,437.0ZM624.0,459.6 626.0,458.0 628.6,456.4 631.0,455.8 630.0,457.0 627.0,458.6 625.0,459.6ZM609.0,455.8 612.0,455.6 615.0,455.8 618.0,455.6 621.0,455.6 623.0,455.6 622.0,456.6 618.6,456.8 615.0,456.6 612.0,457.0 609.0,456.8ZM606.0,455.2 608.2,455.4 607.6,456.6 606.2,456.0ZM633.0,445.0 636.0,444.6 638.6,445.6 637.0,446.2 634.0,446.0ZM673.6,450.2 676.0,450.0 678.6,450.0 681.0,447.4 681.8,448.6 680.6,450.2 678.0,451.6 675.0,451.6ZM604.4,483.0 605.4,482.6 608.0,481.0 610.6,480.2 613.4,479.6 616.2,479.0 619.0,478.2 621.4,475.4 621.6,473.4 624.0,473.8 624.2,471.8 626.0,471.0 627.4,469.0 629.4,467.4 631.4,466.8 633.4,468.6 635.4,468.8 636.2,466.6 637.6,465.0 638.6,463.8 640.6,463.4 642.2,462.0 644.0,462.6 646.0,463.0 648.6,463.2 650.6,463.4 650.0,465.4 648.8,467.4 648.0,469.0 650.0,470.6 652.6,471.8 655.0,473.4 657.0,474.4 658.6,474.0 659.6,471.4 660.2,468.6 660.2,465.8 660.6,463.4 661.4,461.0 662.2,460.4 663.4,462.6 664.2,464.6 664.6,467.4 666.2,467.8 667.6,469.4 668.0,472.0 669.0,474.0 669.6,476.6 671.4,477.8 673.8,479.4 675.0,481.0 676.6,483.6 678.6,485.4 680.0,487.0 682.6,489.4 683.4,491.4 684.0,494.0 684.0,496.6 683.4,499.0 682.6,502.0 681.4,504.2 680.0,506.0 679.0,507.8 678.0,510.0 677.0,512.2 676.8,514.0 674.0,514.6 671.4,515.8 669.6,517.0 668.0,515.8 666.4,515.4 664.2,516.6 661.8,515.8 659.4,515.4 657.4,514.2 656.2,512.2 655.4,510.4 653.4,510.2 654.0,508.2 653.0,506.2 652.2,504.6 651.4,506.6 651.0,508.6 649.4,509.0 648.0,508.6 647.0,506.6 645.4,505.0 643.4,503.4 641.0,503.0 638.6,502.2 636.0,502.2 633.0,503.2 630.0,503.6 627.0,504.6 624.6,506.6 622.0,507.0 619.0,506.8 616.6,507.2 614.0,508.8 611.6,509.0 609.0,508.6 607.0,507.6 607.4,506.0 608.4,504.0 608.4,502.0 607.4,500.0 606.8,498.0 605.4,495.0 604.6,492.6 603.8,491.0 604.2,489.0 603.8,487.0 604.6,485.0ZM666.4,520.4 669.0,521.2 671.4,520.8 673.6,521.0 673.4,523.4 672.2,525.4 670.0,526.2 668.2,525.0 667.4,523.0 666.6,521.6ZM722.4,507.8 724.0,509.0 726.0,511.0 727.4,512.2 728.6,512.6 729.4,514.4 731.4,514.8 733.6,514.2 733.4,516.2 731.4,517.8 730.8,519.4 729.0,521.4 727.4,522.2 726.6,521.6 727.4,519.6 725.0,518.0 725.4,516.2 726.6,514.6 725.8,512.6 723.8,510.2ZM722.4,520.0 724.0,521.0 725.6,522.4 724.6,524.0 722.6,525.6 721.4,527.0 719.4,528.2 719.0,530.0 717.4,531.4 715.0,532.2 712.6,531.8 710.2,531.0 711.0,529.0 713.4,527.4 716.2,526.0 719.0,524.2 720.6,522.2 721.4,520.6ZM705.0,479.4 707.4,481.0 710.0,483.0 711.0,483.8 709.4,483.4 706.6,481.4ZM731.6,474.0 734.0,473.8 734.2,475.4 731.8,475.4ZM65.0,398.6 67.0,399.4 66.0,401.0 65.0,400.0ZM483.8,413.8 486.0,413.8 485.0,414.4ZM514.6,537.0 517.4,537.2 517.8,538.2 515.0,538.2ZM301.0,547.0 304.0,547.4 305.0,548.6 302.0,547.8ZM194.2,439.8 195.2,440.0 195.0,441.0 194.0,440.8ZM668.0,350.2 671.0,348.6 674.0,347.8 673.0,348.8 669.6,350.4ZM562.4,412.2 563.0,415.0 562.2,415.8 562.0,414.0ZM587.6,442.6 589.4,442.2 590.4,444.6 588.6,444.0ZM615.0,458.0 617.4,458.0 618.6,459.4 616.6,459.6ZM399.0,327.6 401.6,326.8 402.2,327.8 401.2,328.8 399.4,328.6ZM402.2,326.6 402.8,327.8 403.6,328.3 405.4,328.2 405.8,327.2 408.0,326.8 409.8,326.0 410.0,323.0 400.0,323.0 401.0,324.4Z" clip-rule="evenodd"/></clipPath>
<g id="sw2"><path d="M-131.7,343.5 -124.7,343.6 -117.8,344.0 -110.9,344.6 -104.1,345.4 -97.5,346.5 -91.0,347.8 -84.6,349.3 -78.5,351.0 -72.6,352.9 -66.8,355.0 -61.3,357.3 -56.0,359.7 -50.9,362.2 -46.0,364.9 -41.3,367.7 -36.8,370.6 -32.5,373.6 -28.3,376.7 -24.3,379.9 -20.4,383.2 -16.7,386.5 -13.1,389.9 -9.6,393.4 -6.2,397.0 -2.9,400.5 0.3,404.2 3.4,407.8 6.4,411.5 9.4,415.2 12.3,419.0 15.2,422.8 18.1,426.6 20.9,430.4 23.6,434.3 26.4,438.1 29.1,442.0 31.9,445.9 34.6,449.8 37.4,453.6 40.1,457.5 42.9,461.4 45.7,465.3 48.6,469.1 51.5,473.0 54.4,476.8 57.5,480.6 60.6,484.4 63.7,488.2 67.0,491.9 70.4,495.6 73.9,499.2 77.5,502.8 81.3,506.4 85.2,509.9 89.3,513.3 93.6,516.6 98.2,519.9 102.9,523.1 107.9,526.1 113.1,529.1 118.6,531.9 124.4,534.6 130.5,537.1 136.9,539.5 143.7,541.6 150.7,543.5 158.0,545.3 165.7,546.7 173.5,548.0 181.6,548.9 189.9,549.6 198.3,550.0 206.7,550.0 215.1,549.8 223.4,549.3 231.6,548.5 227.1,533.2 220.3,533.9 213.3,534.3 206.4,534.5 199.4,534.4 192.4,534.1 185.5,533.6 178.7,532.8 172.0,531.8 165.5,530.5 159.1,529.1 152.9,527.4 147.0,525.5 141.2,523.5 135.6,521.3 130.3,518.9 125.1,516.4 120.2,513.8 115.4,511.0 110.9,508.1 106.5,505.1 102.3,502.0 98.2,498.8 94.3,495.6 90.6,492.3 86.9,488.9 83.4,485.4 80.0,481.9 76.7,478.3 73.5,474.7 70.4,471.0 67.3,467.4 64.3,463.6 61.4,459.9 58.5,456.1 55.6,452.3 52.8,448.5 50.0,444.6 47.3,440.8 44.5,436.9 41.8,433.0 39.1,429.2 36.3,425.3 33.6,421.4 30.8,417.5 28.0,413.6 25.1,409.8 22.2,405.9 19.3,402.1 16.3,398.3 13.2,394.5 10.0,390.7 6.8,387.0 3.4,383.3 -0.0,379.6 -3.6,376.0 -7.4,372.4 -11.3,368.9 -15.3,365.5 -19.6,362.1 -24.1,358.8 -28.7,355.7 -33.7,352.6 -38.8,349.6 -44.3,346.7 -50.0,344.0 -56.0,341.5 -62.4,339.1 -69.0,336.9 -76.0,334.9 -83.3,333.1 -90.8,331.6 -98.7,330.3 -106.7,329.3 -114.9,328.6 -123.3,328.1 -131.7,328.0Z"/><path d="M588.3,343.5 595.3,343.6 602.2,344.0 609.1,344.6 615.9,345.4 622.5,346.5 629.0,347.8 635.4,349.3 641.5,351.0 647.4,352.9 653.2,355.0 658.7,357.3 664.0,359.7 669.1,362.2 674.0,364.9 678.7,367.7 683.2,370.6 687.5,373.6 691.7,376.7 695.7,379.9 699.6,383.2 703.3,386.5 706.9,389.9 710.4,393.4 713.8,397.0 717.1,400.5 720.3,404.2 723.4,407.8 726.4,411.5 729.4,415.2 732.3,419.0 735.2,422.8 738.1,426.6 740.9,430.4 743.6,434.3 746.4,438.1 749.1,442.0 751.9,445.9 754.6,449.8 757.4,453.6 760.1,457.5 762.9,461.4 765.7,465.3 768.6,469.1 771.5,473.0 774.4,476.8 777.5,480.6 780.6,484.4 783.7,488.2 787.0,491.9 790.4,495.6 793.9,499.2 797.5,502.8 801.3,506.4 805.2,509.9 809.3,513.3 813.6,516.6 818.2,519.9 822.9,523.1 827.9,526.1 833.1,529.1 838.6,531.9 844.4,534.6 850.5,537.1 856.9,539.5 863.7,541.6 870.7,543.5 878.0,545.3 885.7,546.7 893.5,548.0 901.6,548.9 909.9,549.6 918.3,550.0 926.7,550.0 935.1,549.8 943.4,549.3 951.6,548.5 947.1,533.2 940.3,533.9 933.3,534.3 926.4,534.5 919.4,534.4 912.4,534.1 905.5,533.6 898.7,532.8 892.0,531.8 885.5,530.5 879.1,529.1 872.9,527.4 867.0,525.5 861.2,523.5 855.6,521.3 850.3,518.9 845.1,516.4 840.2,513.8 835.4,511.0 830.9,508.1 826.5,505.1 822.3,502.0 818.2,498.8 814.3,495.6 810.6,492.3 806.9,488.9 803.4,485.4 800.0,481.9 796.7,478.3 793.5,474.7 790.4,471.0 787.3,467.4 784.3,463.6 781.4,459.9 778.5,456.1 775.6,452.3 772.8,448.5 770.0,444.6 767.3,440.8 764.5,436.9 761.8,433.0 759.1,429.2 756.3,425.3 753.6,421.4 750.8,417.5 748.0,413.6 745.1,409.8 742.2,405.9 739.3,402.1 736.3,398.3 733.2,394.5 730.0,390.7 726.8,387.0 723.4,383.3 720.0,379.6 716.4,376.0 712.6,372.4 708.7,368.9 704.7,365.5 700.4,362.1 695.9,358.8 691.3,355.7 686.3,352.6 681.2,349.6 675.7,346.7 670.0,344.0 664.0,341.5 657.6,339.1 651.0,336.9 644.0,334.9 636.7,333.1 629.2,331.6 621.3,330.3 613.3,329.3 605.1,328.6 596.7,328.1 588.3,328.0Z"/><path d="M-84.6,343.5 -77.6,343.6 -70.6,344.0 -63.7,344.6 -57.0,345.4 -50.3,346.5 -43.8,347.8 -37.5,349.3 -31.4,351.0 -25.4,352.9 -19.7,355.0 -14.2,357.3 -8.9,359.7 -3.8,362.2 1.1,364.9 5.8,367.7 10.3,370.6 14.7,373.6 18.8,376.7 22.9,379.9 26.7,383.2 30.5,386.5 34.1,389.9 37.6,393.4 40.9,397.0 44.2,400.5 47.4,404.2 50.5,407.8 53.6,411.5 56.6,415.2 59.5,419.0 62.4,422.8 65.2,426.6 68.0,430.4 70.8,434.3 73.5,438.1 76.3,442.0 79.0,445.9 81.7,449.8 84.5,453.6 87.3,457.5 90.0,461.4 92.9,465.3 95.7,469.1 98.6,473.0 101.6,476.8 104.6,480.6 107.7,484.4 110.9,488.2 114.2,491.9 117.5,495.6 121.0,499.2 124.7,502.8 128.4,506.4 132.4,509.9 136.5,513.3 140.8,516.6 145.3,519.9 150.0,523.1 155.0,526.1 160.2,529.1 165.7,531.9 171.5,534.6 177.7,537.1 184.1,539.5 190.8,541.6 197.8,543.5 205.2,545.3 212.8,546.7 220.7,548.0 228.8,548.9 237.0,549.6 245.4,550.0 253.8,550.0 262.2,549.8 270.6,549.3 278.8,548.5 274.3,533.2 267.4,533.9 260.5,534.3 253.5,534.5 246.5,534.4 239.6,534.1 232.7,533.6 225.8,532.8 219.2,531.8 212.6,530.5 206.3,529.1 200.1,527.4 194.1,525.5 188.3,523.5 182.8,521.3 177.4,518.9 172.3,516.4 167.3,513.8 162.6,511.0 158.0,508.1 153.6,505.1 149.4,502.0 145.4,498.8 141.5,495.6 137.7,492.3 134.1,488.9 130.6,485.4 127.1,481.9 123.8,478.3 120.6,474.7 117.5,471.0 114.4,467.4 111.4,463.6 108.5,459.9 105.6,456.1 102.8,452.3 100.0,448.5 97.2,444.6 94.4,440.8 91.7,436.9 88.9,433.0 86.2,429.2 83.5,425.3 80.7,421.4 77.9,417.5 75.1,413.6 72.3,409.8 69.4,405.9 66.4,402.1 63.4,398.3 60.3,394.5 57.2,390.7 53.9,387.0 50.6,383.3 47.1,379.6 43.5,376.0 39.8,372.4 35.9,368.9 31.8,365.5 27.5,362.1 23.1,358.8 18.4,355.7 13.5,352.6 8.3,349.6 2.9,346.7 -2.9,344.0 -8.9,341.5 -15.2,339.1 -21.9,336.9 -28.9,334.9 -36.1,333.1 -43.7,331.6 -51.5,330.3 -59.6,329.3 -67.8,328.6 -76.1,328.1 -84.6,328.0Z"/><path d="M635.4,343.5 642.4,343.6 649.4,344.0 656.3,344.6 663.0,345.4 669.7,346.5 676.2,347.8 682.5,349.3 688.6,351.0 694.6,352.9 700.3,355.0 705.8,357.3 711.1,359.7 716.2,362.2 721.1,364.9 725.8,367.7 730.3,370.6 734.7,373.6 738.8,376.7 742.9,379.9 746.7,383.2 750.5,386.5 754.1,389.9 757.6,393.4 760.9,397.0 764.2,400.5 767.4,404.2 770.5,407.8 773.6,411.5 776.6,415.2 779.5,419.0 782.4,422.8 785.2,426.6 788.0,430.4 790.8,434.3 793.5,438.1 796.3,442.0 799.0,445.9 801.7,449.8 804.5,453.6 807.3,457.5 810.0,461.4 812.9,465.3 815.7,469.1 818.6,473.0 821.6,476.8 824.6,480.6 827.7,484.4 830.9,488.2 834.2,491.9 837.5,495.6 841.0,499.2 844.7,502.8 848.4,506.4 852.4,509.9 856.5,513.3 860.8,516.6 865.3,519.9 870.0,523.1 875.0,526.1 880.2,529.1 885.7,531.9 891.5,534.6 897.7,537.1 904.1,539.5 910.8,541.6 917.8,543.5 925.2,545.3 932.8,546.7 940.7,548.0 948.8,548.9 957.0,549.6 965.4,550.0 973.8,550.0 982.2,549.8 990.6,549.3 998.8,548.5 994.3,533.2 987.4,533.9 980.5,534.3 973.5,534.5 966.5,534.4 959.6,534.1 952.7,533.6 945.8,532.8 939.2,531.8 932.6,530.5 926.3,529.1 920.1,527.4 914.1,525.5 908.3,523.5 902.8,521.3 897.4,518.9 892.3,516.4 887.3,513.8 882.6,511.0 878.0,508.1 873.6,505.1 869.4,502.0 865.4,498.8 861.5,495.6 857.7,492.3 854.1,488.9 850.6,485.4 847.1,481.9 843.8,478.3 840.6,474.7 837.5,471.0 834.4,467.4 831.4,463.6 828.5,459.9 825.6,456.1 822.8,452.3 820.0,448.5 817.2,444.6 814.4,440.8 811.7,436.9 808.9,433.0 806.2,429.2 803.5,425.3 800.7,421.4 797.9,417.5 795.1,413.6 792.3,409.8 789.4,405.9 786.4,402.1 783.4,398.3 780.3,394.5 777.2,390.7 773.9,387.0 770.6,383.3 767.1,379.6 763.5,376.0 759.8,372.4 755.9,368.9 751.8,365.5 747.5,362.1 743.1,358.8 738.4,355.7 733.5,352.6 728.3,349.6 722.9,346.7 717.1,344.0 711.1,341.5 704.8,339.1 698.1,336.9 691.1,334.9 683.9,333.1 676.3,331.6 668.5,330.3 660.4,329.3 652.2,328.6 643.9,328.1 635.4,328.0Z"/><path d="M-37.4,343.5 -30.4,343.6 -23.5,344.0 -16.6,344.6 -9.8,345.4 -3.2,346.5 3.3,347.8 9.6,349.3 15.8,351.0 21.7,352.9 27.4,355.0 32.9,357.3 38.3,359.7 43.4,362.2 48.3,364.9 53.0,367.7 57.5,370.6 61.8,373.6 66.0,376.7 70.0,379.9 73.9,383.2 77.6,386.5 81.2,389.9 84.7,393.4 88.1,397.0 91.4,400.5 94.6,404.2 97.7,407.8 100.7,411.5 103.7,415.2 106.6,419.0 109.5,422.8 112.3,426.6 115.1,430.4 117.9,434.3 120.7,438.1 123.4,442.0 126.1,445.9 128.9,449.8 131.6,453.6 134.4,457.5 137.2,461.4 140.0,465.3 142.9,469.1 145.8,473.0 148.7,476.8 151.7,480.6 154.8,484.4 158.0,488.2 161.3,491.9 164.7,495.6 168.2,499.2 171.8,502.8 175.6,506.4 179.5,509.9 183.6,513.3 187.9,516.6 192.4,519.9 197.2,523.1 202.1,526.1 207.4,529.1 212.9,531.9 218.7,534.6 224.8,537.1 231.2,539.5 237.9,541.6 245.0,543.5 252.3,545.3 259.9,546.7 267.8,548.0 275.9,548.9 284.2,549.6 292.6,550.0 301.0,550.0 309.4,549.8 317.7,549.3 325.9,548.5 321.4,533.2 314.6,533.9 307.6,534.3 300.6,534.5 293.7,534.4 286.7,534.1 279.8,533.6 273.0,532.8 266.3,531.8 259.8,530.5 253.4,529.1 247.2,527.4 241.2,525.5 235.5,523.5 229.9,521.3 224.6,518.9 219.4,516.4 214.5,513.8 209.7,511.0 205.2,508.1 200.8,505.1 196.6,502.0 192.5,498.8 188.6,495.6 184.8,492.3 181.2,488.9 177.7,485.4 174.3,481.9 171.0,478.3 167.8,474.7 164.6,471.0 161.6,467.4 158.6,463.6 155.6,459.9 152.8,456.1 149.9,452.3 147.1,448.5 144.3,444.6 141.6,440.8 138.8,436.9 136.1,433.0 133.3,429.2 130.6,425.3 127.8,421.4 125.1,417.5 122.2,413.6 119.4,409.8 116.5,405.9 113.6,402.1 110.6,398.3 107.5,394.5 104.3,390.7 101.1,387.0 97.7,383.3 94.2,379.6 90.6,376.0 86.9,372.4 83.0,368.9 78.9,365.5 74.7,362.1 70.2,358.8 65.5,355.7 60.6,352.6 55.5,349.6 50.0,346.7 44.3,344.0 38.2,341.5 31.9,339.1 25.3,336.9 18.3,334.9 11.0,333.1 3.4,331.6 -4.4,330.3 -12.4,329.3 -20.7,328.6 -29.0,328.1 -37.4,328.0Z"/><path d="M682.6,343.5 689.6,343.6 696.5,344.0 703.4,344.6 710.2,345.4 716.8,346.5 723.3,347.8 729.6,349.3 735.8,351.0 741.7,352.9 747.4,355.0 752.9,357.3 758.3,359.7 763.4,362.2 768.3,364.9 773.0,367.7 777.5,370.6 781.8,373.6 786.0,376.7 790.0,379.9 793.9,383.2 797.6,386.5 801.2,389.9 804.7,393.4 808.1,397.0 811.4,400.5 814.6,404.2 817.7,407.8 820.7,411.5 823.7,415.2 826.6,419.0 829.5,422.8 832.3,426.6 835.1,430.4 837.9,434.3 840.7,438.1 843.4,442.0 846.1,445.9 848.9,449.8 851.6,453.6 854.4,457.5 857.2,461.4 860.0,465.3 862.9,469.1 865.8,473.0 868.7,476.8 871.7,480.6 874.8,484.4 878.0,488.2 881.3,491.9 884.7,495.6 888.2,499.2 891.8,502.8 895.6,506.4 899.5,509.9 903.6,513.3 907.9,516.6 912.4,519.9 917.2,523.1 922.1,526.1 927.4,529.1 932.9,531.9 938.7,534.6 944.8,537.1 951.2,539.5 957.9,541.6 965.0,543.5 972.3,545.3 979.9,546.7 987.8,548.0 995.9,548.9 1004.2,549.6 1012.6,550.0 1021.0,550.0 1029.4,549.8 1037.7,549.3 1045.9,548.5 1041.4,533.2 1034.6,533.9 1027.6,534.3 1020.6,534.5 1013.7,534.4 1006.7,534.1 999.8,533.6 993.0,532.8 986.3,531.8 979.8,530.5 973.4,529.1 967.2,527.4 961.2,525.5 955.5,523.5 949.9,521.3 944.6,518.9 939.4,516.4 934.5,513.8 929.7,511.0 925.2,508.1 920.8,505.1 916.6,502.0 912.5,498.8 908.6,495.6 904.8,492.3 901.2,488.9 897.7,485.4 894.3,481.9 891.0,478.3 887.8,474.7 884.6,471.0 881.6,467.4 878.6,463.6 875.6,459.9 872.8,456.1 869.9,452.3 867.1,448.5 864.3,444.6 861.6,440.8 858.8,436.9 856.1,433.0 853.3,429.2 850.6,425.3 847.8,421.4 845.1,417.5 842.2,413.6 839.4,409.8 836.5,405.9 833.6,402.1 830.6,398.3 827.5,394.5 824.3,390.7 821.1,387.0 817.7,383.3 814.2,379.6 810.6,376.0 806.9,372.4 803.0,368.9 798.9,365.5 794.7,362.1 790.2,358.8 785.5,355.7 780.6,352.6 775.5,349.6 770.0,346.7 764.3,344.0 758.2,341.5 751.9,339.1 745.3,336.9 738.3,334.9 731.0,333.1 723.4,331.6 715.6,330.3 707.6,329.3 699.3,328.6 691.0,328.1 682.6,328.0Z"/><path d="M9.7,343.5 16.7,343.6 23.6,344.0 30.5,344.6 37.2,345.4 43.8,346.5 50.3,347.8 56.6,349.3 62.7,351.0 68.6,352.9 74.4,354.9 79.9,357.2 85.2,359.5 90.2,362.1 95.1,364.7 99.8,367.5 104.3,370.4 108.7,373.4 112.8,376.5 116.9,379.7 120.7,382.9 124.4,386.3 128.0,389.7 131.5,393.1 134.9,396.6 138.2,400.2 141.4,403.8 144.5,407.4 147.5,411.1 150.5,414.8 153.4,418.6 156.3,422.3 159.1,426.1 161.9,429.9 164.7,433.8 167.4,437.6 170.1,441.5 172.8,445.3 175.3,449.2 177.7,453.0 180.1,456.9 182.5,460.8 184.9,464.6 187.3,468.5 189.8,472.3 192.3,476.1 194.9,479.9 197.6,483.7 200.5,487.5 203.5,491.2 206.7,494.9 210.1,498.5 213.7,502.1 217.4,505.7 230.5,494.9 226.9,491.6 223.5,488.2 220.3,484.7 217.2,481.2 214.3,477.6 211.5,474.0 208.8,470.4 206.2,466.7 203.6,463.0 201.1,459.2 198.6,455.5 196.1,451.7 193.5,447.9 191.0,444.0 188.3,440.2 185.6,436.4 182.8,432.5 180.1,428.6 177.4,424.8 174.6,420.9 171.9,417.0 169.0,413.2 166.2,409.3 163.3,405.5 160.4,401.7 157.4,397.9 154.3,394.1 151.1,390.4 147.9,386.6 144.5,383.0 141.1,379.3 137.5,375.7 133.7,372.2 129.9,368.7 125.8,365.3 121.5,361.9 117.1,358.6 112.4,355.5 107.5,352.4 102.3,349.4 96.9,346.6 91.2,343.9 85.2,341.4 78.8,339.0 72.2,336.8 65.2,334.8 58.0,333.1 50.4,331.6 42.6,330.3 34.6,329.3 26.4,328.5 18.1,328.1 9.7,328.0Z"/><path d="M729.7,343.5 736.7,343.6 743.6,344.0 750.5,344.6 757.2,345.4 763.8,346.5 770.3,347.8 776.6,349.3 782.7,351.0 788.6,352.9 794.4,354.9 799.9,357.2 805.2,359.5 810.2,362.1 815.1,364.7 819.8,367.5 824.3,370.4 828.7,373.4 832.8,376.5 836.9,379.7 840.7,382.9 844.4,386.3 848.0,389.7 851.5,393.1 854.9,396.6 858.2,400.2 861.4,403.8 864.5,407.4 867.5,411.1 870.5,414.8 873.4,418.6 876.3,422.3 879.1,426.1 881.9,429.9 884.7,433.8 887.4,437.6 890.1,441.5 892.8,445.3 895.3,449.2 897.7,453.0 900.1,456.9 902.5,460.8 904.9,464.6 907.3,468.5 909.8,472.3 912.3,476.1 914.9,479.9 917.6,483.7 920.5,487.5 923.5,491.2 926.7,494.9 930.1,498.5 933.7,502.1 937.4,505.7 950.5,494.9 946.9,491.6 943.5,488.2 940.3,484.7 937.2,481.2 934.3,477.6 931.5,474.0 928.8,470.4 926.2,466.7 923.6,463.0 921.1,459.2 918.6,455.5 916.1,451.7 913.5,447.9 911.0,444.0 908.3,440.2 905.6,436.4 902.8,432.5 900.1,428.6 897.4,424.8 894.6,420.9 891.9,417.0 889.0,413.2 886.2,409.3 883.3,405.5 880.4,401.7 877.4,397.9 874.3,394.1 871.1,390.4 867.9,386.6 864.5,383.0 861.1,379.3 857.5,375.7 853.7,372.2 849.9,368.7 845.8,365.3 841.5,361.9 837.1,358.6 832.4,355.5 827.5,352.4 822.3,349.4 816.9,346.6 811.2,343.9 805.2,341.4 798.8,339.0 792.2,336.8 785.2,334.8 778.0,333.1 770.4,331.6 762.6,330.3 754.6,329.3 746.4,328.5 738.1,328.1 729.7,328.0Z"/><path d="M251.9,530.1 257.6,532.9 263.5,535.5 269.7,538.0 276.2,540.2 283.1,542.3 290.2,544.2 297.7,545.8 305.4,547.2 313.4,548.3 321.5,549.2 329.8,549.7 338.2,550.0 338.8,534.5 331.8,534.3 324.9,533.8 318.1,533.1 311.3,532.2 304.7,531.0 298.3,529.6 292.1,528.0 286.0,526.2 280.1,524.2 274.5,522.1 269.1,519.8 263.9,517.3Z"/><path d="M56.9,343.5 63.8,343.6 70.7,344.0 77.6,344.6 84.3,345.4 91.0,346.5 97.4,347.8 103.7,349.3 109.9,351.0 115.8,352.9 121.5,354.9 127.0,357.2 132.3,359.5 137.4,362.1 142.3,364.7 147.0,367.5 151.5,370.4 155.8,373.4 160.0,376.5 164.0,379.7 167.8,382.9 171.6,386.2 175.2,389.6 178.7,393.1 182.0,396.6 185.3,400.2 188.5,403.8 191.6,407.4 194.7,411.1 197.6,414.8 200.5,418.6 203.4,422.3 206.2,426.1 209.0,429.9 211.8,433.7 214.6,437.6 217.3,441.4 220.0,445.3 222.7,449.2 225.5,453.0 228.2,456.9 231.0,460.7 233.8,464.6 236.6,468.4 239.5,472.3 242.5,476.1 245.5,479.9 248.5,483.7 251.7,487.4 254.9,491.1 258.3,494.8 261.7,498.5 265.3,502.1 269.0,505.6 272.9,509.1 277.0,512.5 289.9,501.3 285.9,498.1 282.1,494.9 278.3,491.5 274.8,488.1 271.3,484.7 267.9,481.2 264.6,477.6 261.4,474.0 258.3,470.4 255.3,466.7 252.3,463.0 249.4,459.2 246.5,455.4 243.7,451.7 240.9,447.8 238.2,444.0 235.4,440.2 232.7,436.3 230.0,432.5 227.2,428.6 224.5,424.7 221.7,420.9 219.0,417.0 216.2,413.2 213.3,409.3 210.4,405.5 207.5,401.7 204.5,397.9 201.4,394.1 198.3,390.3 195.0,386.6 191.7,382.9 188.2,379.3 184.6,375.7 180.9,372.2 177.0,368.7 172.9,365.3 168.7,361.9 164.2,358.6 159.5,355.5 154.6,352.4 149.5,349.4 144.0,346.6 138.3,343.9 132.3,341.4 126.0,339.0 119.3,336.8 112.4,334.8 105.1,333.1 97.6,331.6 89.8,330.3 81.8,329.3 73.6,328.5 65.2,328.1 56.9,328.0Z"/><path d="M305.1,530.9 310.6,533.5 316.3,536.0 322.4,538.3 328.7,540.5 335.3,542.5 342.2,544.3 349.3,545.8 356.7,547.2 364.3,548.3 372.2,549.1 380.1,549.7 388.2,550.0 396.3,550.0 404.3,549.8 412.3,549.3 420.2,548.5 415.7,533.2 409.1,533.9 402.5,534.3 395.8,534.5 389.0,534.5 382.4,534.2 375.7,533.7 369.2,533.0 362.7,532.1 356.4,531.0 350.2,529.7 344.2,528.1 338.4,526.4 332.7,524.6 327.3,522.5 322.0,520.4 316.9,518.0Z"/><path d="M104.0,343.5 111.0,343.6 117.9,344.0 124.8,344.6 131.6,345.4 138.2,346.5 144.7,347.8 151.1,349.3 157.2,351.0 163.1,352.9 168.9,355.0 174.4,357.3 179.7,359.7 184.8,362.2 189.7,364.9 194.4,367.7 198.9,370.6 203.2,373.6 207.4,376.7 211.4,379.9 215.3,383.2 219.0,386.5 222.6,389.9 226.1,393.4 229.5,397.0 232.8,400.5 236.0,404.2 239.1,407.8 242.1,411.5 245.1,415.2 248.0,419.0 250.9,422.8 253.8,426.6 256.6,430.4 259.3,434.3 262.1,438.1 264.8,442.0 267.6,445.9 270.3,449.8 273.1,453.6 275.8,457.5 278.6,461.4 281.4,465.3 284.3,469.1 287.2,473.0 290.1,476.8 293.2,480.6 296.3,484.4 299.4,488.2 302.7,491.9 306.1,495.6 309.6,499.2 313.2,502.8 317.0,506.4 320.9,509.9 325.0,513.3 329.3,516.6 333.9,519.9 338.6,523.1 343.6,526.1 348.8,529.1 354.3,531.9 360.1,534.6 366.2,537.1 372.6,539.5 379.4,541.6 386.4,543.5 393.7,545.3 401.4,546.7 409.2,548.0 417.3,548.9 425.6,549.6 434.0,550.0 442.4,550.0 450.8,549.8 459.1,549.3 467.3,548.5 462.8,533.2 456.0,533.9 449.0,534.3 442.1,534.5 435.1,534.4 428.1,534.1 421.2,533.6 414.4,532.8 407.7,531.8 401.2,530.5 394.8,529.1 388.6,527.4 382.7,525.5 376.9,523.5 371.3,521.3 366.0,518.9 360.8,516.4 355.9,513.8 351.1,511.0 346.6,508.1 342.2,505.1 338.0,502.0 333.9,498.8 330.0,495.6 326.3,492.3 322.6,488.9 319.1,485.4 315.7,481.9 312.4,478.3 309.2,474.7 306.1,471.0 303.0,467.4 300.0,463.6 297.1,459.9 294.2,456.1 291.3,452.3 288.5,448.5 285.7,444.6 283.0,440.8 280.2,436.9 277.5,433.0 274.8,429.2 272.0,425.3 269.3,421.4 266.5,417.5 263.7,413.6 260.8,409.8 257.9,405.9 255.0,402.1 252.0,398.3 248.9,394.5 245.7,390.7 242.5,387.0 239.1,383.3 235.7,379.6 232.1,376.0 228.3,372.4 224.4,368.9 220.4,365.5 216.1,362.1 211.6,358.8 207.0,355.7 202.0,352.6 196.9,349.6 191.4,346.7 185.7,344.0 179.7,341.5 173.3,339.1 166.7,336.9 159.7,334.9 152.4,333.1 144.9,331.6 137.0,330.3 129.0,329.3 120.8,328.6 112.4,328.1 104.0,328.0Z"/><path d="M151.1,343.5 158.1,343.6 165.1,344.0 172.0,344.6 178.7,345.4 185.4,346.5 191.9,347.8 198.2,349.3 204.3,351.0 210.3,352.9 216.0,355.0 221.5,357.3 226.8,359.7 231.9,362.2 236.8,364.9 241.5,367.7 246.0,370.6 250.4,373.6 254.5,376.7 258.6,379.9 262.4,383.2 266.2,386.5 269.8,389.9 273.3,393.4 276.6,397.0 279.9,400.5 283.1,404.2 286.2,407.8 289.3,411.5 292.3,415.2 295.2,419.0 298.1,422.8 300.9,426.6 303.7,430.4 306.5,434.3 309.2,438.1 312.0,442.0 314.7,445.9 317.4,449.8 320.2,453.6 323.0,457.5 325.7,461.4 328.6,465.3 331.4,469.1 334.3,473.0 337.3,476.8 340.3,480.6 343.4,484.4 346.6,488.2 349.9,491.9 353.2,495.6 356.7,499.2 360.4,502.8 364.1,506.4 368.1,509.9 372.2,513.3 376.5,516.6 381.0,519.9 385.7,523.1 390.7,526.1 395.9,529.1 401.4,531.9 407.2,534.6 413.4,537.1 419.8,539.5 426.5,541.6 433.5,543.5 440.9,545.3 448.5,546.7 456.4,548.0 464.5,548.9 472.7,549.6 481.1,550.0 489.5,550.0 497.9,549.8 506.3,549.3 514.5,548.5 510.0,533.2 503.1,533.9 496.2,534.3 489.2,534.5 482.2,534.4 475.3,534.1 468.4,533.6 461.5,532.8 454.9,531.8 448.3,530.5 442.0,529.1 435.8,527.4 429.8,525.5 424.0,523.5 418.5,521.3 413.1,518.9 408.0,516.4 403.0,513.8 398.3,511.0 393.7,508.1 389.3,505.1 385.1,502.0 381.1,498.8 377.2,495.6 373.4,492.3 369.8,488.9 366.3,485.4 362.8,481.9 359.5,478.3 356.3,474.7 353.2,471.0 350.1,467.4 347.1,463.6 344.2,459.9 341.3,456.1 338.5,452.3 335.7,448.5 332.9,444.6 330.1,440.8 327.4,436.9 324.6,433.0 321.9,429.2 319.2,425.3 316.4,421.4 313.6,417.5 310.8,413.6 308.0,409.8 305.1,405.9 302.1,402.1 299.1,398.3 296.0,394.5 292.9,390.7 289.6,387.0 286.3,383.3 282.8,379.6 279.2,376.0 275.5,372.4 271.6,368.9 267.5,365.5 263.2,362.1 258.8,358.8 254.1,355.7 249.2,352.6 244.0,349.6 238.6,346.7 232.8,344.0 226.8,341.5 220.5,339.1 213.8,336.9 206.8,334.9 199.6,333.1 192.0,331.6 184.2,330.3 176.1,329.3 167.9,328.6 159.6,328.1 151.1,328.0Z"/><path d="M198.3,343.5 205.3,343.6 212.2,344.0 219.1,344.6 225.9,345.4 232.5,346.5 239.0,347.8 245.3,349.3 251.5,351.0 257.4,352.9 263.1,355.0 268.6,357.3 274.0,359.7 279.1,362.2 284.0,364.9 288.7,367.7 293.2,370.6 297.5,373.6 301.7,376.7 305.7,379.9 309.6,383.2 313.3,386.5 316.9,389.9 320.4,393.4 323.8,397.0 327.1,400.5 330.3,404.2 333.4,407.8 336.4,411.5 339.4,415.2 342.3,419.0 345.2,422.8 348.0,426.6 350.8,430.4 353.6,434.3 356.4,438.1 359.1,442.0 361.8,445.9 364.6,449.8 367.3,453.6 370.1,457.5 372.9,461.4 375.7,465.3 378.6,469.1 381.5,473.0 384.4,476.8 387.4,480.6 390.5,484.4 393.7,488.2 397.0,491.9 400.4,495.6 403.9,499.2 407.5,502.8 411.3,506.4 415.2,509.9 419.3,513.3 423.6,516.6 428.1,519.9 432.9,523.1 437.8,526.1 443.1,529.1 448.6,531.9 454.4,534.6 460.5,537.1 466.9,539.5 473.6,541.6 480.7,543.5 488.0,545.3 495.6,546.7 503.5,548.0 511.6,548.9 519.9,549.6 528.3,550.0 536.7,550.0 545.1,549.8 553.4,549.3 561.6,548.5 557.1,533.2 550.3,533.9 543.3,534.3 536.3,534.5 529.4,534.4 522.4,534.1 515.5,533.6 508.7,532.8 502.0,531.8 495.5,530.5 489.1,529.1 482.9,527.4 476.9,525.5 471.2,523.5 465.6,521.3 460.3,518.9 455.1,516.4 450.2,513.8 445.4,511.0 440.9,508.1 436.5,505.1 432.3,502.0 428.2,498.8 424.3,495.6 420.5,492.3 416.9,488.9 413.4,485.4 410.0,481.9 406.7,478.3 403.5,474.7 400.3,471.0 397.3,467.4 394.3,463.6 391.3,459.9 388.5,456.1 385.6,452.3 382.8,448.5 380.0,444.6 377.3,440.8 374.5,436.9 371.8,433.0 369.0,429.2 366.3,425.3 363.5,421.4 360.8,417.5 357.9,413.6 355.1,409.8 352.2,405.9 349.3,402.1 346.3,398.3 343.2,394.5 340.0,390.7 336.8,387.0 333.4,383.3 329.9,379.6 326.3,376.0 322.6,372.4 318.7,368.9 314.6,365.5 310.4,362.1 305.9,358.8 301.2,355.7 296.3,352.6 291.2,349.6 285.7,346.7 280.0,344.0 273.9,341.5 267.6,339.1 261.0,336.9 254.0,334.9 246.7,333.1 239.1,331.6 231.3,330.3 223.3,329.3 215.0,328.6 206.7,328.1 198.3,328.0Z"/><path d="M245.4,343.5 252.4,343.6 259.4,344.0 266.2,344.6 273.0,345.4 279.7,346.5 286.2,347.8 292.5,349.3 298.6,351.0 304.5,352.9 310.3,355.0 315.8,357.3 321.1,359.7 326.2,362.2 331.1,364.9 335.8,367.7 340.3,370.6 344.7,373.6 348.8,376.7 352.8,379.9 356.7,383.2 360.4,386.5 364.0,389.9 367.5,393.4 370.9,397.0 374.2,400.5 377.4,404.2 380.5,407.8 383.6,411.5 386.5,415.2 389.5,419.0 392.3,422.8 395.2,426.6 398.0,430.4 400.7,434.3 403.5,438.1 406.2,442.0 409.0,445.9 411.7,449.8 414.5,453.6 417.2,457.5 420.0,461.4 422.8,465.3 425.7,469.1 428.6,473.0 431.6,476.8 434.6,480.6 437.7,484.4 440.9,488.2 444.1,491.9 447.5,495.6 451.0,499.2 454.6,502.8 458.4,506.4 462.4,509.9 466.5,513.3 470.8,516.6 475.3,519.9 480.0,523.1 485.0,526.1 490.2,529.1 495.7,531.9 501.5,534.6 507.6,537.1 514.0,539.5 520.8,541.6 527.8,543.5 535.2,545.3 542.8,546.7 550.7,548.0 558.8,548.9 567.0,549.6 575.4,550.0 583.8,550.0 592.2,549.8 600.6,549.3 608.7,548.5 604.3,533.2 597.4,533.9 590.5,534.3 583.5,534.5 576.5,534.4 569.5,534.1 562.6,533.6 555.8,532.8 549.1,531.8 542.6,530.5 536.2,529.1 530.1,527.4 524.1,525.5 518.3,523.5 512.7,521.3 507.4,518.9 502.2,516.4 497.3,513.8 492.6,511.0 488.0,508.1 483.6,505.1 479.4,502.0 475.3,498.8 471.4,495.6 467.7,492.3 464.0,488.9 460.5,485.4 457.1,481.9 453.8,478.3 450.6,474.7 447.5,471.0 444.4,467.4 441.4,463.6 438.5,459.9 435.6,456.1 432.8,452.3 429.9,448.5 427.2,444.6 424.4,440.8 421.7,436.9 418.9,433.0 416.2,429.2 413.4,425.3 410.7,421.4 407.9,417.5 405.1,413.6 402.2,409.8 399.3,405.9 396.4,402.1 393.4,398.3 390.3,394.5 387.2,390.7 383.9,387.0 380.5,383.3 377.1,379.6 373.5,376.0 369.7,372.4 365.8,368.9 361.8,365.5 357.5,362.1 353.1,358.8 348.4,355.7 343.5,352.6 338.3,349.6 332.9,346.7 327.1,344.0 321.1,341.5 314.7,339.1 308.1,336.9 301.1,334.9 293.8,333.1 286.3,331.6 278.5,330.3 270.4,329.3 262.2,328.6 253.8,328.1 245.4,328.0Z"/><path d="M292.6,343.5 299.5,343.6 306.5,344.0 313.4,344.6 320.2,345.4 326.8,346.5 333.3,347.8 339.6,349.3 345.8,351.0 351.7,352.9 357.4,355.0 362.9,357.3 368.2,359.7 373.3,362.2 378.2,364.9 382.9,367.7 387.5,370.6 391.8,373.6 396.0,376.7 400.0,379.9 403.9,383.2 407.6,386.5 411.2,389.9 414.7,393.4 418.1,397.0 421.3,400.5 424.5,404.2 427.7,407.8 430.7,411.5 433.7,415.2 436.6,419.0 439.5,422.8 442.3,426.6 445.1,430.4 447.9,434.3 450.6,438.1 453.4,442.0 456.1,445.9 458.9,449.8 461.6,453.6 464.4,457.5 467.2,461.4 470.0,465.3 472.8,469.1 475.7,473.0 478.7,476.8 481.7,480.6 484.8,484.4 488.0,488.2 491.3,491.9 494.7,495.6 498.2,499.2 501.8,502.8 505.6,506.4 509.5,509.9 513.6,513.3 517.9,516.6 522.4,519.9 527.1,523.1 532.1,526.1 537.4,529.1 542.9,531.9 548.7,534.6 554.8,537.1 561.2,539.5 567.9,541.6 575.0,543.5 582.3,545.3 589.9,546.7 597.8,548.0 605.9,548.9 614.2,549.6 622.5,550.0 631.0,550.0 639.4,549.8 647.7,549.3 655.9,548.5 651.4,533.2 644.5,533.9 637.6,534.3 630.6,534.5 623.6,534.4 616.7,534.1 609.8,533.6 603.0,532.8 596.3,531.8 589.7,530.5 583.4,529.1 577.2,527.4 571.2,525.5 565.5,523.5 559.9,521.3 554.5,518.9 549.4,516.4 544.4,513.8 539.7,511.0 535.1,508.1 530.8,505.1 526.5,502.0 522.5,498.8 518.6,495.6 514.8,492.3 511.2,488.9 507.7,485.4 504.3,481.9 501.0,478.3 497.7,474.7 494.6,471.0 491.6,467.4 488.6,463.6 485.6,459.9 482.7,456.1 479.9,452.3 477.1,448.5 474.3,444.6 471.5,440.8 468.8,436.9 466.1,433.0 463.3,429.2 460.6,425.3 457.8,421.4 455.0,417.5 452.2,413.6 449.4,409.8 446.5,405.9 443.5,402.1 440.5,398.3 437.5,394.5 434.3,390.7 431.0,387.0 427.7,383.3 424.2,379.6 420.6,376.0 416.9,372.4 413.0,368.9 408.9,365.5 404.7,362.1 400.2,358.8 395.5,355.7 390.6,352.6 385.4,349.6 380.0,346.7 374.3,344.0 368.2,341.5 361.9,339.1 355.2,336.9 348.3,334.9 341.0,333.1 333.4,331.6 325.6,330.3 317.6,329.3 309.3,328.6 301.0,328.1 292.6,328.0Z"/><path d="M339.7,343.5 346.7,343.6 353.6,344.0 360.5,344.6 367.3,345.4 373.9,346.5 380.4,347.8 386.8,349.3 392.9,351.0 398.8,352.9 404.6,355.0 410.1,357.3 415.4,359.7 420.5,362.2 425.4,364.9 430.1,367.7 434.6,370.6 438.9,373.6 443.1,376.7 447.1,379.9 451.0,383.2 454.7,386.5 458.3,389.9 461.8,393.4 465.2,397.0 468.5,400.5 471.7,404.2 474.8,407.8 477.8,411.5 480.8,415.2 483.7,419.0 486.6,422.8 489.5,426.6 492.3,430.4 495.0,434.3 497.8,438.1 500.5,442.0 503.3,445.9 506.0,449.8 508.8,453.6 511.5,457.5 514.3,461.4 517.1,465.3 520.0,469.1 522.9,473.0 525.8,476.8 528.9,480.6 532.0,484.4 535.1,488.2 538.4,491.9 541.8,495.6 545.3,499.2 548.9,502.8 552.7,506.4 556.6,509.9 560.7,513.3 565.0,516.6 569.6,519.9 574.3,523.1 579.3,526.1 584.5,529.1 590.0,531.9 595.8,534.6 601.9,537.1 608.3,539.5 615.1,541.6 622.1,543.5 629.4,545.3 637.1,546.7 644.9,548.0 653.0,548.9 661.3,549.6 669.7,550.0 678.1,550.0 686.5,549.8 694.8,549.3 703.0,548.5 698.5,533.2 691.7,533.9 684.7,534.3 677.8,534.5 670.8,534.4 663.8,534.1 656.9,533.6 650.1,532.8 643.4,531.8 636.9,530.5 630.5,529.1 624.3,527.4 618.4,525.5 612.6,523.5 607.0,521.3 601.7,518.9 596.5,516.4 591.6,513.8 586.8,511.0 582.3,508.1 577.9,505.1 573.7,502.0 569.6,498.8 565.7,495.6 562.0,492.3 558.3,488.9 554.8,485.4 551.4,481.9 548.1,478.3 544.9,474.7 541.8,471.0 538.7,467.4 535.7,463.6 532.8,459.9 529.9,456.1 527.0,452.3 524.2,448.5 521.4,444.6 518.7,440.8 515.9,436.9 513.2,433.0 510.5,429.2 507.7,425.3 505.0,421.4 502.2,417.5 499.4,413.6 496.5,409.8 493.6,405.9 490.7,402.1 487.7,398.3 484.6,394.5 481.4,390.7 478.2,387.0 474.8,383.3 471.4,379.6 467.8,376.0 464.0,372.4 460.1,368.9 456.1,365.5 451.8,362.1 447.3,358.8 442.7,355.7 437.7,352.6 432.6,349.6 427.1,346.7 421.4,344.0 415.4,341.5 409.0,339.1 402.4,336.9 395.4,334.9 388.1,333.1 380.6,331.6 372.7,330.3 364.7,329.3 356.5,328.6 348.1,328.1 339.7,328.0Z"/><path d="M-333.2,343.5 -326.2,343.6 -319.2,344.0 -312.3,344.6 -305.6,345.4 -298.9,346.5 -292.4,347.8 -286.1,349.3 -280.0,351.0 -274.0,352.9 -268.3,355.0 -262.8,357.3 -257.5,359.7 -252.4,362.2 -247.5,364.9 -242.8,367.7 -238.3,370.6 -233.9,373.6 -229.8,376.7 -225.7,379.9 -221.9,383.2 -218.1,386.5 -214.5,389.9 -211.0,393.4 -207.7,397.0 -204.4,400.5 -201.2,404.2 -198.1,407.8 -195.0,411.5 -192.0,415.2 -189.1,419.0 -186.2,422.8 -183.4,426.6 -180.6,430.4 -177.8,434.3 -175.1,438.1 -172.3,442.0 -169.6,445.9 -166.9,449.8 -164.1,453.6 -161.3,457.5 -158.6,461.4 -155.7,465.3 -152.9,469.1 -150.0,473.0 -147.0,476.8 -144.0,480.6 -140.9,484.4 -137.7,488.2 -134.4,491.9 -131.1,495.6 -127.6,499.2 -123.9,502.8 -120.2,506.4 -116.2,509.9 -112.1,513.3 -107.8,516.6 -103.3,519.9 -98.6,523.1 -93.6,526.1 -88.4,529.1 -82.9,531.9 -77.1,534.6 -70.9,537.1 -64.5,539.5 -57.8,541.6 -50.8,543.5 -43.4,545.3 -35.8,546.7 -27.9,548.0 -19.8,548.9 -11.6,549.6 -3.2,550.0 5.2,550.0 13.6,549.8 22.0,549.3 30.2,548.5 25.7,533.2 18.8,533.9 11.9,534.3 4.9,534.5 -2.1,534.4 -9.0,534.1 -15.9,533.6 -22.8,532.8 -29.4,531.8 -36.0,530.5 -42.3,529.1 -48.5,527.4 -54.5,525.5 -60.3,523.5 -65.8,521.3 -71.2,518.9 -76.3,516.4 -81.3,513.8 -86.0,511.0 -90.6,508.1 -95.0,505.1 -99.2,502.0 -103.2,498.8 -107.1,495.6 -110.9,492.3 -114.5,488.9 -118.0,485.4 -121.5,481.9 -124.8,478.3 -128.0,474.7 -131.1,471.0 -134.2,467.4 -137.2,463.6 -140.1,459.9 -143.0,456.1 -145.8,452.3 -148.6,448.5 -151.4,444.6 -154.2,440.8 -156.9,436.9 -159.7,433.0 -162.4,429.2 -165.1,425.3 -167.9,421.4 -170.7,417.5 -173.5,413.6 -176.3,409.8 -179.2,405.9 -182.2,402.1 -185.2,398.3 -188.3,394.5 -191.4,390.7 -194.7,387.0 -198.0,383.3 -201.5,379.6 -205.1,376.0 -208.8,372.4 -212.7,368.9 -216.8,365.5 -221.1,362.1 -225.5,358.8 -230.2,355.7 -235.1,352.6 -240.3,349.6 -245.7,346.7 -251.5,344.0 -257.5,341.5 -263.8,339.1 -270.5,336.9 -277.5,334.9 -284.7,333.1 -292.3,331.6 -300.1,330.3 -308.2,329.3 -316.4,328.6 -324.7,328.1 -333.2,328.0Z"/><path d="M386.8,343.5 393.8,343.6 400.8,344.0 407.7,344.6 414.4,345.4 421.1,346.5 427.6,347.8 433.9,349.3 440.0,351.0 446.0,352.9 451.7,355.0 457.2,357.3 462.5,359.7 467.6,362.2 472.5,364.9 477.2,367.7 481.7,370.6 486.1,373.6 490.2,376.7 494.3,379.9 498.1,383.2 501.9,386.5 505.5,389.9 509.0,393.4 512.3,397.0 515.6,400.5 518.8,404.2 521.9,407.8 525.0,411.5 528.0,415.2 530.9,419.0 533.8,422.8 536.6,426.6 539.4,430.4 542.2,434.3 544.9,438.1 547.7,442.0 550.4,445.9 553.1,449.8 555.9,453.6 558.7,457.5 561.4,461.4 564.3,465.3 567.1,469.1 570.0,473.0 573.0,476.8 576.0,480.6 579.1,484.4 582.3,488.2 585.6,491.9 588.9,495.6 592.4,499.2 596.1,502.8 599.8,506.4 603.8,509.9 607.9,513.3 612.2,516.6 616.7,519.9 621.4,523.1 626.4,526.1 631.6,529.1 637.1,531.9 642.9,534.6 649.1,537.1 655.5,539.5 662.2,541.6 669.2,543.5 676.6,545.3 684.2,546.7 692.1,548.0 700.2,548.9 708.4,549.6 716.8,550.0 725.2,550.0 733.6,549.8 742.0,549.3 750.2,548.5 745.7,533.2 738.8,533.9 731.9,534.3 724.9,534.5 717.9,534.4 711.0,534.1 704.1,533.6 697.2,532.8 690.6,531.8 684.0,530.5 677.7,529.1 671.5,527.4 665.5,525.5 659.7,523.5 654.2,521.3 648.8,518.9 643.7,516.4 638.7,513.8 634.0,511.0 629.4,508.1 625.0,505.1 620.8,502.0 616.8,498.8 612.9,495.6 609.1,492.3 605.5,488.9 602.0,485.4 598.5,481.9 595.2,478.3 592.0,474.7 588.9,471.0 585.8,467.4 582.8,463.6 579.9,459.9 577.0,456.1 574.2,452.3 571.4,448.5 568.6,444.6 565.8,440.8 563.1,436.9 560.3,433.0 557.6,429.2 554.9,425.3 552.1,421.4 549.3,417.5 546.5,413.6 543.7,409.8 540.8,405.9 537.8,402.1 534.8,398.3 531.7,394.5 528.6,390.7 525.3,387.0 522.0,383.3 518.5,379.6 514.9,376.0 511.2,372.4 507.3,368.9 503.2,365.5 498.9,362.1 494.5,358.8 489.8,355.7 484.9,352.6 479.7,349.6 474.3,346.7 468.5,344.0 462.5,341.5 456.2,339.1 449.5,336.9 442.5,334.9 435.3,333.1 427.7,331.6 419.9,330.3 411.8,329.3 403.6,328.6 395.3,328.1 386.8,328.0Z"/><path d="M-286.0,343.5 -279.0,343.6 -272.1,344.0 -265.2,344.6 -258.4,345.4 -251.8,346.5 -245.3,347.8 -239.0,349.3 -232.8,351.0 -226.9,352.9 -221.2,355.0 -215.7,357.3 -210.3,359.7 -205.2,362.2 -200.3,364.9 -195.6,367.7 -191.1,370.6 -186.8,373.6 -182.6,376.7 -178.6,379.9 -174.7,383.2 -171.0,386.5 -167.4,389.9 -163.9,393.4 -160.5,397.0 -157.2,400.5 -154.0,404.2 -150.9,407.8 -147.9,411.5 -144.9,415.2 -142.0,419.0 -139.1,422.8 -136.3,426.6 -133.5,430.4 -130.7,434.3 -127.9,438.1 -125.2,442.0 -122.5,445.9 -119.7,449.8 -117.0,453.6 -114.2,457.5 -111.4,461.4 -108.6,465.3 -105.7,469.1 -102.8,473.0 -99.9,476.8 -96.9,480.6 -93.8,484.4 -90.6,488.2 -87.3,491.9 -83.9,495.6 -80.4,499.2 -76.8,502.8 -73.0,506.4 -69.1,509.9 -65.0,513.3 -60.7,516.6 -56.2,519.9 -51.4,523.1 -46.5,526.1 -41.2,529.1 -35.7,531.9 -29.9,534.6 -23.8,537.1 -17.4,539.5 -10.7,541.6 -3.6,543.5 3.7,545.3 11.3,546.7 19.2,548.0 27.3,548.9 35.6,549.6 44.0,550.0 52.4,550.0 60.8,549.8 69.1,549.3 77.3,548.5 72.8,533.2 66.0,533.9 59.0,534.3 52.0,534.5 45.1,534.4 38.1,534.1 31.2,533.6 24.4,532.8 17.7,531.8 11.2,530.5 4.8,529.1 -1.4,527.4 -7.4,525.5 -13.1,523.5 -18.7,521.3 -24.0,518.9 -29.2,516.4 -34.1,513.8 -38.9,511.0 -43.4,508.1 -47.8,505.1 -52.0,502.0 -56.1,498.8 -60.0,495.6 -63.8,492.3 -67.4,488.9 -70.9,485.4 -74.3,481.9 -77.6,478.3 -80.8,474.7 -84.0,471.0 -87.0,467.4 -90.0,463.6 -93.0,459.9 -95.8,456.1 -98.7,452.3 -101.5,448.5 -104.3,444.6 -107.0,440.8 -109.8,436.9 -112.5,433.0 -115.3,429.2 -118.0,425.3 -120.8,421.4 -123.5,417.5 -126.4,413.6 -129.2,409.8 -132.1,405.9 -135.0,402.1 -138.0,398.3 -141.1,394.5 -144.3,390.7 -147.5,387.0 -150.9,383.3 -154.4,379.6 -158.0,376.0 -161.7,372.4 -165.6,368.9 -169.7,365.5 -173.9,362.1 -178.4,358.8 -183.1,355.7 -188.0,352.6 -193.1,349.6 -198.6,346.7 -204.3,344.0 -210.4,341.5 -216.7,339.1 -223.3,336.9 -230.3,334.9 -237.6,333.1 -245.2,331.6 -253.0,330.3 -261.0,329.3 -269.3,328.6 -277.6,328.1 -286.0,328.0Z"/><path d="M434.0,343.5 441.0,343.6 447.9,344.0 454.8,344.6 461.6,345.4 468.2,346.5 474.7,347.8 481.0,349.3 487.2,351.0 493.1,352.9 498.8,355.0 504.3,357.3 509.7,359.7 514.8,362.2 519.7,364.9 524.4,367.7 528.9,370.6 533.2,373.6 537.4,376.7 541.4,379.9 545.3,383.2 549.0,386.5 552.6,389.9 556.1,393.4 559.5,397.0 562.8,400.5 566.0,404.2 569.1,407.8 572.1,411.5 575.1,415.2 578.0,419.0 580.9,422.8 583.7,426.6 586.5,430.4 589.3,434.3 592.1,438.1 594.8,442.0 597.5,445.9 600.3,449.8 603.0,453.6 605.8,457.5 608.6,461.4 611.4,465.3 614.3,469.1 617.2,473.0 620.1,476.8 623.1,480.6 626.2,484.4 629.4,488.2 632.7,491.9 636.1,495.6 639.6,499.2 643.2,502.8 647.0,506.4 650.9,509.9 655.0,513.3 659.3,516.6 663.8,519.9 668.6,523.1 673.5,526.1 678.8,529.1 684.3,531.9 690.1,534.6 696.2,537.1 702.6,539.5 709.3,541.6 716.4,543.5 723.7,545.3 731.3,546.7 739.2,548.0 747.3,548.9 755.6,549.6 764.0,550.0 772.4,550.0 780.8,549.8 789.1,549.3 797.3,548.5 792.8,533.2 786.0,533.9 779.0,534.3 772.0,534.5 765.1,534.4 758.1,534.1 751.2,533.6 744.4,532.8 737.7,531.8 731.2,530.5 724.8,529.1 718.6,527.4 712.6,525.5 706.9,523.5 701.3,521.3 696.0,518.9 690.8,516.4 685.9,513.8 681.1,511.0 676.6,508.1 672.2,505.1 668.0,502.0 663.9,498.8 660.0,495.6 656.2,492.3 652.6,488.9 649.1,485.4 645.7,481.9 642.4,478.3 639.2,474.7 636.0,471.0 633.0,467.4 630.0,463.6 627.0,459.9 624.2,456.1 621.3,452.3 618.5,448.5 615.7,444.6 613.0,440.8 610.2,436.9 607.5,433.0 604.7,429.2 602.0,425.3 599.2,421.4 596.5,417.5 593.6,413.6 590.8,409.8 587.9,405.9 585.0,402.1 582.0,398.3 578.9,394.5 575.7,390.7 572.5,387.0 569.1,383.3 565.6,379.6 562.0,376.0 558.3,372.4 554.4,368.9 550.3,365.5 546.1,362.1 541.6,358.8 536.9,355.7 532.0,352.6 526.9,349.6 521.4,346.7 515.7,344.0 509.6,341.5 503.3,339.1 496.7,336.9 489.7,334.9 482.4,333.1 474.8,331.6 467.0,330.3 459.0,329.3 450.7,328.6 442.4,328.1 434.0,328.0Z"/><path d="M-227.5,343.5 -220.5,343.6 -213.6,344.0 -206.7,344.6 -199.9,345.4 -193.3,346.5 -186.8,347.8 -180.4,349.3 -174.3,351.0 -168.4,352.9 -162.6,355.0 -157.1,357.3 -151.8,359.7 -146.7,362.2 -141.8,364.9 -137.1,367.7 -132.6,370.6 -128.3,373.6 -124.1,376.7 -120.1,379.9 -116.2,383.2 -112.5,386.5 -108.9,389.9 -105.4,393.4 -102.0,397.0 -98.7,400.5 -95.5,404.2 -92.4,407.8 -89.4,411.5 -86.4,415.2 -83.5,419.0 -80.6,422.8 -77.7,426.6 -74.9,430.4 -72.2,434.3 -69.4,438.1 -66.7,442.0 -63.9,445.9 -61.2,449.8 -58.4,453.6 -55.7,457.5 -52.9,461.4 -50.1,465.3 -47.2,469.1 -44.3,473.0 -41.4,476.8 -38.3,480.6 -35.2,484.4 -32.1,488.2 -28.8,491.9 -25.4,495.6 -21.9,499.2 -18.3,502.8 -14.5,506.4 -10.6,509.9 -6.5,513.3 -2.2,516.6 2.4,519.9 7.1,523.1 12.1,526.1 17.3,529.1 22.8,531.9 28.6,534.6 34.7,537.1 41.1,539.5 47.9,541.6 54.9,543.5 62.2,545.3 69.9,546.7 77.7,548.0 85.8,548.9 94.1,549.6 102.5,550.0 110.9,550.0 119.3,549.8 127.6,549.3 135.8,548.5 131.3,533.2 124.5,533.9 117.5,534.3 110.6,534.5 103.6,534.4 96.6,534.1 89.7,533.6 82.9,532.8 76.2,531.8 69.7,530.5 63.3,529.1 57.1,527.4 51.2,525.5 45.4,523.5 39.8,521.3 34.5,518.9 29.3,516.4 24.4,513.8 19.6,511.0 15.1,508.1 10.7,505.1 6.5,502.0 2.4,498.8 -1.5,495.6 -5.2,492.3 -8.9,488.9 -12.4,485.4 -15.8,481.9 -19.1,478.3 -22.3,474.7 -25.4,471.0 -28.5,467.4 -31.5,463.6 -34.4,459.9 -37.3,456.1 -40.2,452.3 -43.0,448.5 -45.8,444.6 -48.5,440.8 -51.3,436.9 -54.0,433.0 -56.7,429.2 -59.5,425.3 -62.2,421.4 -65.0,417.5 -67.8,413.6 -70.7,409.8 -73.6,405.9 -76.5,402.1 -79.5,398.3 -82.6,394.5 -85.8,390.7 -89.0,387.0 -92.4,383.3 -95.8,379.6 -99.4,376.0 -103.2,372.4 -107.1,368.9 -111.1,365.5 -115.4,362.1 -119.9,358.8 -124.5,355.7 -129.5,352.6 -134.6,349.6 -140.1,346.7 -145.8,344.0 -151.8,341.5 -158.2,339.1 -164.8,336.9 -171.8,334.9 -179.1,333.1 -186.6,331.6 -194.5,330.3 -202.5,329.3 -210.7,328.6 -219.1,328.1 -227.5,328.0Z"/><path d="M492.5,343.5 499.5,343.6 506.4,344.0 513.3,344.6 520.1,345.4 526.7,346.5 533.2,347.8 539.6,349.3 545.7,351.0 551.6,352.9 557.4,355.0 562.9,357.3 568.2,359.7 573.3,362.2 578.2,364.9 582.9,367.7 587.4,370.6 591.7,373.6 595.9,376.7 599.9,379.9 603.8,383.2 607.5,386.5 611.1,389.9 614.6,393.4 618.0,397.0 621.3,400.5 624.5,404.2 627.6,407.8 630.6,411.5 633.6,415.2 636.5,419.0 639.4,422.8 642.3,426.6 645.1,430.4 647.8,434.3 650.6,438.1 653.3,442.0 656.1,445.9 658.8,449.8 661.6,453.6 664.3,457.5 667.1,461.4 669.9,465.3 672.8,469.1 675.7,473.0 678.6,476.8 681.7,480.6 684.8,484.4 687.9,488.2 691.2,491.9 694.6,495.6 698.1,499.2 701.7,502.8 705.5,506.4 709.4,509.9 713.5,513.3 717.8,516.6 722.4,519.9 727.1,523.1 732.1,526.1 737.3,529.1 742.8,531.9 748.6,534.6 754.7,537.1 761.1,539.5 767.9,541.6 774.9,543.5 782.2,545.3 789.9,546.7 797.7,548.0 805.8,548.9 814.1,549.6 822.5,550.0 830.9,550.0 839.3,549.8 847.6,549.3 855.8,548.5 851.3,533.2 844.5,533.9 837.5,534.3 830.6,534.5 823.6,534.4 816.6,534.1 809.7,533.6 802.9,532.8 796.2,531.8 789.7,530.5 783.3,529.1 777.1,527.4 771.2,525.5 765.4,523.5 759.8,521.3 754.5,518.9 749.3,516.4 744.4,513.8 739.6,511.0 735.1,508.1 730.7,505.1 726.5,502.0 722.4,498.8 718.5,495.6 714.8,492.3 711.1,488.9 707.6,485.4 704.2,481.9 700.9,478.3 697.7,474.7 694.6,471.0 691.5,467.4 688.5,463.6 685.6,459.9 682.7,456.1 679.8,452.3 677.0,448.5 674.2,444.6 671.5,440.8 668.7,436.9 666.0,433.0 663.3,429.2 660.5,425.3 657.8,421.4 655.0,417.5 652.2,413.6 649.3,409.8 646.4,405.9 643.5,402.1 640.5,398.3 637.4,394.5 634.2,390.7 631.0,387.0 627.6,383.3 624.2,379.6 620.6,376.0 616.8,372.4 612.9,368.9 608.9,365.5 604.6,362.1 600.1,358.8 595.5,355.7 590.5,352.6 585.4,349.6 579.9,346.7 574.2,344.0 568.2,341.5 561.8,339.1 555.2,336.9 548.2,334.9 540.9,333.1 533.4,331.6 525.5,330.3 517.5,329.3 509.3,328.6 500.9,328.1 492.5,328.0Z"/><path d="M-180.0,343.5 -173.0,343.6 -166.1,344.0 -159.2,344.6 -152.4,345.4 -145.8,346.5 -139.3,347.8 -132.9,349.3 -126.8,351.0 -120.9,352.9 -115.1,355.0 -109.6,357.3 -104.3,359.7 -99.2,362.2 -94.3,364.9 -89.6,367.7 -85.1,370.6 -80.8,373.6 -76.6,376.7 -72.6,379.9 -68.7,383.2 -65.0,386.5 -61.4,389.9 -57.9,393.4 -54.5,397.0 -51.2,400.5 -48.0,404.2 -44.9,407.8 -41.9,411.5 -38.9,415.2 -36.0,419.0 -33.1,422.8 -30.2,426.6 -27.4,430.4 -24.7,434.3 -21.9,438.1 -19.2,442.0 -16.4,445.9 -13.7,449.8 -10.9,453.6 -8.2,457.5 -5.4,461.4 -2.6,465.3 0.3,469.1 3.2,473.0 6.1,476.8 9.2,480.6 12.3,484.4 15.4,488.2 18.7,491.9 22.1,495.6 25.6,499.2 29.2,502.8 33.0,506.4 36.9,509.9 41.0,513.3 45.3,516.6 49.9,519.9 54.6,523.1 59.6,526.1 64.8,529.1 70.3,531.9 76.1,534.6 82.2,537.1 88.6,539.5 95.4,541.6 102.4,543.5 109.7,545.3 117.4,546.7 125.2,548.0 133.3,548.9 141.6,549.6 150.0,550.0 158.4,550.0 166.8,549.8 175.1,549.3 183.3,548.5 178.8,533.2 172.0,533.9 165.0,534.3 158.1,534.5 151.1,534.4 144.1,534.1 137.2,533.6 130.4,532.8 123.7,531.8 117.2,530.5 110.8,529.1 104.6,527.4 98.7,525.5 92.9,523.5 87.3,521.3 82.0,518.9 76.8,516.4 71.9,513.8 67.1,511.0 62.6,508.1 58.2,505.1 54.0,502.0 49.9,498.8 46.0,495.6 42.3,492.3 38.6,488.9 35.1,485.4 31.7,481.9 28.4,478.3 25.2,474.7 22.1,471.0 19.0,467.4 16.0,463.6 13.1,459.9 10.2,456.1 7.3,452.3 4.5,448.5 1.7,444.6 -1.0,440.8 -3.8,436.9 -6.5,433.0 -9.2,429.2 -12.0,425.3 -14.7,421.4 -17.5,417.5 -20.3,413.6 -23.2,409.8 -26.1,405.9 -29.0,402.1 -32.0,398.3 -35.1,394.5 -38.3,390.7 -41.5,387.0 -44.9,383.3 -48.3,379.6 -51.9,376.0 -55.7,372.4 -59.6,368.9 -63.6,365.5 -67.9,362.1 -72.4,358.8 -77.0,355.7 -82.0,352.6 -87.1,349.6 -92.6,346.7 -98.3,344.0 -104.3,341.5 -110.7,339.1 -117.3,336.9 -124.3,334.9 -131.6,333.1 -139.1,331.6 -147.0,330.3 -155.0,329.3 -163.2,328.6 -171.6,328.1 -180.0,328.0Z"/><path d="M540.0,343.5 547.0,343.6 553.9,344.0 560.8,344.6 567.6,345.4 574.2,346.5 580.7,347.8 587.1,349.3 593.2,351.0 599.1,352.9 604.9,355.0 610.4,357.3 615.7,359.7 620.8,362.2 625.7,364.9 630.4,367.7 634.9,370.6 639.2,373.6 643.4,376.7 647.4,379.9 651.3,383.2 655.0,386.5 658.6,389.9 662.1,393.4 665.5,397.0 668.8,400.5 672.0,404.2 675.1,407.8 678.1,411.5 681.1,415.2 684.0,419.0 686.9,422.8 689.8,426.6 692.6,430.4 695.3,434.3 698.1,438.1 700.8,442.0 703.6,445.9 706.3,449.8 709.1,453.6 711.8,457.5 714.6,461.4 717.4,465.3 720.3,469.1 723.2,473.0 726.1,476.8 729.2,480.6 732.3,484.4 735.4,488.2 738.7,491.9 742.1,495.6 745.6,499.2 749.2,502.8 753.0,506.4 756.9,509.9 761.0,513.3 765.3,516.6 769.9,519.9 774.6,523.1 779.6,526.1 784.8,529.1 790.3,531.9 796.1,534.6 802.2,537.1 808.6,539.5 815.4,541.6 822.4,543.5 829.7,545.3 837.4,546.7 845.2,548.0 853.3,548.9 861.6,549.6 870.0,550.0 878.4,550.0 886.8,549.8 895.1,549.3 903.3,548.5 898.8,533.2 892.0,533.9 885.0,534.3 878.1,534.5 871.1,534.4 864.1,534.1 857.2,533.6 850.4,532.8 843.7,531.8 837.2,530.5 830.8,529.1 824.6,527.4 818.7,525.5 812.9,523.5 807.3,521.3 802.0,518.9 796.8,516.4 791.9,513.8 787.1,511.0 782.6,508.1 778.2,505.1 774.0,502.0 769.9,498.8 766.0,495.6 762.3,492.3 758.6,488.9 755.1,485.4 751.7,481.9 748.4,478.3 745.2,474.7 742.1,471.0 739.0,467.4 736.0,463.6 733.1,459.9 730.2,456.1 727.3,452.3 724.5,448.5 721.7,444.6 719.0,440.8 716.2,436.9 713.5,433.0 710.8,429.2 708.0,425.3 705.3,421.4 702.5,417.5 699.7,413.6 696.8,409.8 693.9,405.9 691.0,402.1 688.0,398.3 684.9,394.5 681.7,390.7 678.5,387.0 675.1,383.3 671.7,379.6 668.1,376.0 664.3,372.4 660.4,368.9 656.4,365.5 652.1,362.1 647.6,358.8 643.0,355.7 638.0,352.6 632.9,349.6 627.4,346.7 621.7,344.0 615.7,341.5 609.3,339.1 602.7,336.9 595.7,334.9 588.4,333.1 580.9,331.6 573.0,330.3 565.0,329.3 556.8,328.6 548.4,328.1 540.0,328.0Z"/><path d="M482.1,343.5 489.0,343.6 495.8,344.0 502.6,344.5 509.2,345.4 515.8,346.4 522.2,347.7 528.4,349.1 534.5,350.8 540.3,352.6 546.0,354.6 551.5,356.8 556.7,359.2 561.8,361.6 566.6,364.2 571.3,367.0 575.8,369.8 580.1,372.7 584.3,375.8 588.3,378.9 592.1,382.1 595.8,385.3 599.4,388.7 602.9,392.1 606.2,395.5 609.5,399.0 622.5,389.1 619.2,385.5 615.9,381.9 612.4,378.3 608.9,374.7 605.1,371.3 601.2,367.8 597.2,364.5 592.9,361.2 588.5,358.0 583.8,354.9 579.0,351.9 573.8,349.0 568.4,346.2 562.7,343.5 556.7,341.1 550.4,338.7 543.9,336.6 537.0,334.7 529.8,332.9 522.3,331.5 514.6,330.2 506.7,329.2 498.6,328.5 490.4,328.1 482.1,328.0Z"/><path d="M-147.6,398.6 -144.4,402.2 -141.2,405.8 -138.2,409.4 -135.2,413.1 -132.3,416.8 -129.4,420.5 -126.6,424.3 -123.8,428.1 -121.0,431.9 -118.3,435.7 -115.5,439.5 -112.8,443.4 -110.1,447.2 -107.4,451.0 -104.7,454.9 -101.9,458.7 -99.1,462.6 -96.3,466.4 -93.5,470.2 -90.6,474.0 -87.6,477.8 -84.6,481.6 -81.5,485.4 -78.4,489.1 -75.1,492.8 -71.7,496.4 -68.2,500.0 -64.6,503.6 -60.8,507.1 -56.9,510.5 -52.8,513.9 -48.5,517.2 -44.0,520.4 -39.2,523.6 -34.3,526.6 -29.0,529.5 -23.5,532.3 -17.8,534.9 -11.7,537.4 -5.3,539.7 1.4,541.8 8.4,543.7 15.7,545.4 23.3,546.8 31.1,548.0 39.2,549.0 47.4,549.6 55.7,550.0 64.0,550.0 72.4,549.8 80.6,549.3 88.7,548.5 84.2,533.2 77.4,533.9 70.6,534.3 63.6,534.5 56.7,534.5 49.8,534.2 43.0,533.6 36.2,532.8 29.6,531.8 23.1,530.6 16.8,529.2 10.6,527.6 4.7,525.7 -1.1,523.7 -6.6,521.6 -11.9,519.2 -17.1,516.8 -22.0,514.2 -26.7,511.4 -31.3,508.6 -35.7,505.6 -39.9,502.6 -43.9,499.5 -47.8,496.3 -51.6,493.0 -55.2,489.6 -58.7,486.2 -62.1,482.7 -65.4,479.2 -68.6,475.6 -71.7,472.0 -74.8,468.4 -77.8,464.7 -80.7,461.0 -83.6,457.2 -86.4,453.5 -89.2,449.7 -92.0,445.9 -94.7,442.1 -97.4,438.2 -100.1,434.4 -102.9,430.6 -105.6,426.7 -108.3,422.9 -111.0,419.0 -113.8,415.2 -116.6,411.3 -119.5,407.5 -122.4,403.7 -125.3,399.9 -128.3,396.2 -131.4,392.4 -134.6,388.7Z"/><path d="M572.4,398.6 575.6,402.2 578.8,405.8 581.8,409.4 584.8,413.1 587.7,416.8 590.6,420.5 593.4,424.3 596.2,428.1 599.0,431.9 601.7,435.7 604.5,439.5 607.2,443.4 609.9,447.2 612.6,451.0 615.3,454.9 618.1,458.7 620.9,462.6 623.7,466.4 626.5,470.2 629.4,474.0 632.4,477.8 635.4,481.6 638.5,485.4 641.6,489.1 644.9,492.8 648.3,496.4 651.8,500.0 655.4,503.6 659.2,507.1 663.1,510.5 667.2,513.9 671.5,517.2 676.0,520.4 680.8,523.6 685.7,526.6 691.0,529.5 696.5,532.3 702.2,534.9 708.3,537.4 714.7,539.7 721.4,541.8 728.4,543.7 735.7,545.4 743.3,546.8 751.1,548.0 759.2,549.0 767.4,549.6 775.7,550.0 784.0,550.0 792.4,549.8 800.6,549.3 808.7,548.5 804.2,533.2 797.4,533.9 790.6,534.3 783.6,534.5 776.7,534.5 769.8,534.2 763.0,533.6 756.2,532.8 749.6,531.8 743.1,530.6 736.8,529.2 730.6,527.6 724.7,525.7 718.9,523.7 713.4,521.6 708.1,519.2 702.9,516.8 698.0,514.2 693.3,511.4 688.7,508.6 684.3,505.6 680.1,502.6 676.1,499.5 672.2,496.3 668.4,493.0 664.8,489.6 661.3,486.2 657.9,482.7 654.6,479.2 651.4,475.6 648.3,472.0 645.2,468.4 642.2,464.7 639.3,461.0 636.4,457.2 633.6,453.5 630.8,449.7 628.0,445.9 625.3,442.1 622.6,438.2 619.9,434.4 617.1,430.6 614.4,426.7 611.7,422.9 609.0,419.0 606.2,415.2 603.4,411.3 600.5,407.5 597.6,403.7 594.7,399.9 591.7,396.2 588.6,392.4 585.4,388.7Z"/></g></defs>
<g clip-path="url(#mc2)" shape-rendering="crispEdges">
<clipPath id="sc2"><rect x="17" y="330" width="721" height="219"/></clipPath>
<g clip-path="url(#sc2)">
<use href="#sw2" fill="#82c0ff"/>
</g>
<path d="M107.0,323.0 114.0,328.0 116.4,330.4 119.0,333.0 121.4,336.0 122.0,337.4 127.0,339.0 130.6,340.6 132.0,341.4 132.2,344.0 130.0,342.6 127.6,342.2 128.8,345.4 129.0,347.0 128.8,351.0 128.0,353.4 128.6,357.0 128.2,358.2 129.4,360.4 131.0,362.6 132.0,363.4 132.2,364.6 133.2,365.8 134.4,367.6 135.8,369.0 135.8,370.0 138.4,370.6 140.2,371.4 142.4,373.0 142.8,374.0 143.8,375.6 145.0,378.0 146.6,380.0 148.6,382.0 147.4,383.4 149.6,385.4 152.2,387.0 153.0,389.4 155.4,391.8 157.0,393.2 158.0,392.6 157.8,391.0 155.8,389.8 155.0,387.4 153.0,385.0 151.4,382.6 149.8,380.6 148.0,378.6 147.4,375.8 149.0,376.0 150.6,376.6 151.8,379.4 153.6,381.8 155.8,383.4 157.6,385.6 158.6,387.8 161.0,389.4 163.4,391.4 165.4,393.8 166.4,396.0 166.0,398.0 167.0,400.0 169.4,401.8 172.6,403.2 175.0,404.6 177.4,405.4 180.0,406.4 183.0,407.2 185.0,407.6 187.0,406.8 189.0,407.0 191.0,408.6 192.6,410.0 195.0,411.2 197.0,411.8 199.0,412.4 201.4,412.8 202.0,413.2 203.8,415.0 205.4,416.8 205.6,418.6 207.0,419.4 208.0,420.2 209.8,421.2 210.6,422.4 211.6,422.6 213.0,422.8 214.0,423.6 215.2,424.4 216.4,424.2 217.0,423.0 216.4,422.2 217.8,421.2 219.0,421.4 220.4,422.6 221.0,423.8 221.8,424.6 222.2,426.0 222.2,428.0 222.4,431.0 221.8,433.4 219.8,434.4 219.2,436.0 217.0,437.4 216.6,439.0 215.8,440.6 215.2,442.0 215.4,443.6 217.0,444.2 217.2,445.6 216.2,446.0 214.6,447.6 214.6,450.0 215.4,451.6 217.4,453.4 219.0,455.8 220.4,458.6 221.8,461.4 223.4,463.8 224.6,466.2 226.0,468.6 228.6,470.6 231.8,472.6 234.4,474.2 236.2,475.8 236.8,479.0 236.6,483.0 236.0,487.0 235.8,491.0 234.4,496.0 234.0,500.0 233.8,504.0 233.0,508.0 231.4,511.0 230.2,513.8 230.2,517.0 229.4,520.0 229.4,522.6 228.6,525.0 228.0,528.0 226.0,531.6 227.0,535.0 226.0,539.0 227.0,542.0 228.6,544.6 231.0,546.6 233.0,547.8 236.0,549.4 240.0,550.6 243.4,549.8 246.6,548.8 244.0,547.4 241.0,545.4 240.0,544.0 238.6,542.0 239.8,539.8 241.8,537.8 245.0,535.4 245.6,533.4 243.0,532.2 241.8,531.0 243.8,529.2 246.0,528.2 246.6,525.8 248.2,524.8 249.6,524.2 248.6,523.0 247.0,522.0 247.0,520.8 249.4,521.2 251.8,520.6 252.6,518.0 254.0,516.8 258.0,516.4 261.4,515.4 263.0,513.0 263.4,511.8 262.4,510.6 262.6,509.4 260.4,508.2 260.2,507.0 262.0,507.8 265.0,508.6 267.4,508.6 269.8,507.2 271.4,505.0 274.0,502.2 276.0,500.0 277.4,497.6 279.6,495.6 279.8,492.6 280.2,490.2 282.4,488.0 285.0,486.8 287.4,485.6 290.6,485.0 293.0,484.8 295.0,483.0 295.4,481.0 297.0,479.0 297.8,476.0 298.6,473.0 299.0,470.0 299.0,467.0 300.0,465.0 301.4,463.0 303.0,460.6 305.0,459.0 306.6,457.0 307.2,455.0 307.4,453.0 307.0,451.0 306.4,449.4 304.0,449.0 302.0,448.2 300.0,446.4 297.4,444.8 294.6,444.8 292.0,444.4 289.4,443.8 287.8,444.6 287.4,442.6 285.0,441.2 282.0,440.2 280.0,441.4 278.0,439.6 276.4,438.6 277.0,436.6 275.4,434.6 274.6,431.0 273.0,429.4 271.0,428.0 268.0,427.2 265.4,427.2 263.0,427.0 261.0,425.4 259.0,423.2 257.0,422.0 255.0,420.4 253.4,419.0 252.0,417.8 249.4,418.0 247.4,418.8 245.0,417.8 242.0,418.0 240.4,417.2 238.6,416.0 237.0,414.8 235.8,416.0 234.4,417.0 233.4,415.8 234.4,414.4 232.6,415.0 230.6,416.4 228.4,416.6 227.0,417.2 225.8,418.6 225.4,420.4 223.4,421.8 222.6,421.4 221.4,420.4 219.4,420.0 217.8,419.8 216.2,420.8 214.6,421.4 213.4,421.0 212.2,420.2 211.0,419.0 209.8,417.2 209.4,415.4 210.0,413.4 210.2,411.0 210.6,409.0 209.0,407.4 207.0,407.2 205.0,407.2 203.0,407.4 201.0,407.6 199.8,407.2 199.2,406.4 200.4,404.6 200.6,402.4 201.4,402.2 202.0,400.0 202.2,398.2 203.4,396.6 202.2,396.0 200.0,396.0 197.4,396.4 196.2,397.4 195.8,399.4 194.6,401.2 193.0,401.8 191.0,402.2 188.6,402.6 187.0,402.0 185.4,401.4 184.2,400.2 183.0,398.4 182.0,396.0 181.4,394.0 181.4,391.4 182.0,389.0 182.6,387.0 182.2,384.6 183.0,383.0 185.0,381.8 187.0,380.6 189.0,379.8 191.0,379.4 193.0,379.8 195.0,380.6 196.6,380.8 198.2,381.0 198.6,380.0 197.8,378.6 200.0,378.2 202.0,378.4 204.4,378.2 206.0,379.0 207.0,379.8 208.6,379.0 209.8,379.6 211.4,381.0 211.6,383.0 211.8,384.4 213.0,385.8 213.6,387.2 214.6,388.6 216.2,388.6 216.8,387.4 217.0,385.4 216.2,383.4 215.8,382.0 214.8,380.0 214.2,378.0 214.6,376.0 215.6,374.4 217.4,373.4 219.0,372.0 221.0,371.2 222.6,369.8 224.2,369.4 225.4,368.6 225.6,367.2 225.0,365.2 224.4,364.0 225.4,363.8 226.6,362.4 227.0,361.4 227.4,360.8 228.8,359.4 229.0,358.0 231.0,357.4 233.0,357.0 234.6,356.0 235.8,355.8 237.0,355.6 236.6,354.8 235.4,354.2 235.6,352.8 236.6,351.6 238.6,351.0 240.6,350.2 242.6,349.6 243.2,348.8 245.4,348.4 247.4,347.8 248.2,348.4 245.4,349.8 244.8,351.4 246.2,352.0 248.6,350.0 251.0,349.4 254.0,348.6 256.6,347.4 257.0,345.8 255.8,345.0 254.2,347.2 252.0,347.6 249.6,347.2 247.8,346.4 247.2,344.8 245.6,343.6 247.4,343.2 248.4,341.4 247.0,340.6 244.0,340.8 241.0,342.0 238.0,343.8 236.0,345.0 237.4,343.0 239.4,341.2 242.0,340.0 244.0,338.6 247.0,338.4 250.0,338.4 253.0,338.6 256.0,338.6 258.4,337.4 261.0,336.4 263.0,336.0 265.0,335.0 265.4,333.4 264.0,331.8 262.4,331.0 261.0,329.6 258.0,328.4 256.0,327.4 254.0,325.0 253.0,323.0 223.0,323.0 222.0,325.0 223.8,327.0 221.0,328.6 218.0,330.0 219.0,332.0 219.4,334.0 218.0,335.8 216.0,336.4 214.0,334.6 212.6,333.0 212.6,330.0 212.0,328.6 207.0,328.2 202.0,327.0 199.0,325.4 193.0,324.6 191.0,322.0ZM258.4,343.6 261.0,343.8 264.0,344.0 266.0,345.2 269.0,345.4 271.0,345.6 271.6,344.0 271.0,342.6 269.8,341.4 270.0,340.4 267.4,340.0 265.4,339.0 265.8,337.4 266.0,335.8 264.0,337.0 262.4,338.6 261.2,340.4 260.0,341.8 258.4,343.6ZM207.2,395.4 208.6,393.8 211.0,393.0 213.0,392.6 215.8,392.8 218.0,394.0 221.0,394.4 223.0,395.8 225.0,396.8 227.0,397.6 228.6,398.6 226.6,399.2 224.0,399.2 221.6,399.2 222.6,397.8 220.6,397.4 219.4,395.8 216.6,395.4 214.0,394.6 212.0,393.8 210.0,394.6 209.0,395.2ZM228.2,401.8 230.0,402.6 233.0,402.8 234.2,403.6 235.8,402.4 238.0,402.2 240.2,402.6 240.2,401.6 238.6,401.0 237.4,400.2 235.8,399.4 233.6,399.2 231.4,399.2 230.2,399.6 231.6,400.6 232.2,401.8 230.0,401.8ZM220.4,402.2 222.6,402.0 224.4,402.8 223.0,403.4 221.0,403.0ZM242.6,402.0 245.6,402.2 245.4,403.0 242.6,403.1ZM255.0,542.0 258.0,541.4 261.4,542.0 260.0,543.4 257.0,543.4 255.0,543.0ZM120.4,337.4 125.0,338.6 128.0,340.4 130.2,342.2 127.4,341.8 124.0,340.0ZM253.4,417.6 255.2,417.4 255.0,418.8 253.2,418.8ZM393.0,323.0 393.2,325.4 393.4,327.0 393.4,328.2 394.2,329.2 394.8,330.8 393.6,331.4 391.4,331.8 389.0,332.2 387.0,332.6 386.4,333.8 385.2,335.0 384.0,336.2 382.0,336.8 380.4,337.2 380.2,338.4 378.6,339.2 377.2,339.8 374.8,340.2 374.4,339.6 373.2,339.6 373.8,341.6 371.6,341.8 369.8,341.4 367.6,342.0 367.8,343.0 368.6,343.4 371.0,343.8 372.4,344.6 373.2,345.8 374.6,346.8 374.6,349.0 374.4,351.0 373.6,352.2 371.0,352.2 368.0,352.2 365.0,351.8 362.0,351.6 360.4,351.8 358.6,352.8 359.2,354.6 359.6,356.6 359.4,358.6 358.2,360.4 358.2,361.6 359.4,362.2 359.4,363.8 359.2,365.0 361.2,365.0 363.0,364.6 364.2,365.4 365.0,366.6 366.0,366.9 367.0,366.2 368.4,365.6 371.0,365.6 372.8,365.4 373.8,364.4 375.6,363.6 376.6,362.0 377.4,361.4 376.4,360.0 377.2,358.6 378.6,357.4 380.0,356.6 381.6,356.0 383.4,355.2 383.4,354.2 383.0,353.0 384.2,352.2 385.8,352.0 387.4,352.4 389.0,352.8 390.6,352.4 392.0,351.4 393.6,350.8 394.8,350.2 396.2,350.8 397.4,351.4 398.0,353.0 399.2,354.2 400.6,355.0 401.8,355.8 403.0,356.6 404.6,356.8 405.6,357.6 407.0,358.6 408.2,359.0 408.8,360.4 409.2,361.4 408.4,362.6 408.4,363.2 409.4,363.0 410.2,361.8 411.2,361.2 411.2,360.2 410.2,359.6 410.6,358.4 411.4,358.0 413.0,359.0 413.8,359.4 414.0,358.6 413.0,357.6 411.6,357.0 410.0,356.4 408.8,355.8 409.2,355.2 407.6,355.2 406.4,354.6 405.2,353.8 404.6,352.6 404.0,351.8 402.6,351.0 401.6,350.2 401.6,349.0 402.0,348.0 403.4,347.6 404.4,347.6 404.2,348.8 405.0,349.2 405.8,348.4 406.8,349.0 407.4,350.4 408.8,351.6 410.0,352.0 411.6,352.8 413.0,353.6 414.2,354.4 415.4,355.2 416.0,356.2 415.8,357.8 416.8,359.2 417.4,360.2 418.6,361.4 419.6,362.4 419.4,363.4 420.2,364.6 420.6,365.4 421.6,365.8 422.4,365.6 423.0,366.0 423.2,365.0 422.6,364.0 423.6,363.8 424.2,363.2 425.0,363.6 425.2,362.6 424.0,362.0 422.8,361.2 422.8,360.2 422.4,359.2 422.4,358.2 423.6,358.6 424.6,359.0 425.6,358.4 425.6,357.4 427.4,357.2 429.0,357.4 429.4,358.4 430.4,358.0 431.6,357.2 433.4,357.0 435.0,356.9 433.4,356.0 433.0,355.0 432.4,353.8 432.8,352.6 434.0,351.8 434.2,350.6 434.8,349.4 436.2,348.6 437.0,347.4 438.4,346.2 440.0,345.8 441.4,346.2 443.0,346.8 444.0,347.2 442.4,348.0 443.8,349.0 444.0,349.8 445.6,350.0 447.4,349.2 449.6,348.6 450.0,348.2 448.0,348.2 447.0,347.2 447.4,346.2 449.4,345.6 451.8,345.0 453.8,344.6 455.4,344.6 454.6,345.6 453.0,346.6 452.6,347.8 451.4,348.4 450.6,348.8 452.0,349.6 454.0,350.4 455.6,351.4 457.0,352.2 459.0,353.0 460.2,354.2 460.2,355.8 458.6,356.6 456.6,357.0 454.6,357.0 452.6,356.8 450.6,356.4 449.0,355.6 447.2,355.0 445.0,355.0 443.0,355.2 441.0,355.8 439.4,356.8 437.4,356.6 435.2,356.7 435.0,357.2 433.4,358.0 431.0,358.2 429.8,358.8 429.4,360.0 430.6,361.0 430.6,362.2 429.8,362.4 431.4,363.6 431.6,365.0 433.0,365.6 434.2,365.6 435.4,366.4 437.4,366.4 438.4,365.4 440.2,365.8 442.0,366.8 444.0,366.6 446.2,365.4 448.0,365.8 449.2,365.6 448.8,367.0 448.6,369.0 448.8,370.4 448.0,371.8 447.2,373.0 446.8,374.4 446.2,375.6 445.4,376.4 444.0,376.8 442.2,376.8 441.6,376.4 440.6,376.0 439.0,375.8 437.6,376.2 436.2,377.0 434.6,377.2 432.6,376.6 430.6,376.0 428.6,375.8 427.0,375.2 425.0,374.6 423.4,373.8 421.0,373.2 419.4,373.4 417.4,374.4 417.0,376.0 416.0,377.8 414.0,378.4 412.0,377.4 410.0,376.6 408.0,375.4 407.4,374.2 405.4,373.6 403.0,373.2 401.0,373.2 399.4,372.6 398.6,371.6 397.2,370.6 398.2,369.8 399.0,368.2 398.2,366.2 399.2,365.0 397.6,364.6 396.4,364.4 394.4,365.1 392.0,365.0 389.6,365.0 387.4,365.4 385.0,365.2 382.8,365.4 380.2,366.0 377.4,367.0 375.4,367.6 373.0,368.8 371.0,368.4 368.6,368.6 366.6,368.0 366.2,367.3 365.2,367.4 364.4,369.2 363.2,371.0 361.4,372.2 359.6,373.0 358.4,374.4 357.4,376.0 357.6,378.0 357.2,379.4 355.4,381.2 353.8,382.4 351.4,383.2 350.2,384.6 348.6,386.2 347.4,387.8 345.8,390.0 345.0,391.6 343.6,393.8 343.0,396.0 343.0,397.0 344.4,398.6 344.4,400.6 344.8,403.0 344.0,406.0 343.4,408.0 342.2,409.6 343.4,411.4 343.6,413.4 344.0,414.6 345.8,416.0 347.0,417.4 348.4,418.6 349.8,419.8 350.6,421.4 351.8,423.2 353.6,425.0 355.4,426.0 357.4,427.4 359.4,429.0 361.8,430.2 364.0,429.6 366.6,428.8 369.0,428.6 371.0,429.0 373.0,429.4 375.0,428.6 377.4,427.6 379.4,426.8 382.0,426.4 384.0,426.2 386.0,426.6 387.4,427.8 388.0,429.2 389.4,430.4 391.4,430.2 393.4,430.0 394.6,430.2 396.0,431.2 396.4,432.6 396.6,434.6 396.0,436.6 395.6,438.2 394.6,440.2 395.4,442.2 396.6,444.2 398.6,446.4 400.2,448.0 401.0,449.6 401.6,451.0 402.6,453.0 403.6,455.6 403.0,457.4 404.2,459.8 404.6,462.0 404.0,464.0 402.2,466.0 401.4,468.6 400.8,471.0 400.6,473.4 401.4,476.0 403.0,479.0 404.2,481.4 405.8,484.0 406.0,486.6 406.8,489.4 407.4,492.6 409.0,495.4 410.6,497.8 412.0,500.6 413.4,502.8 413.4,504.8 413.8,506.8 414.8,507.8 417.0,508.6 419.4,507.8 422.0,507.0 424.6,507.0 427.0,507.0 428.6,506.8 430.6,506.4 432.6,505.2 434.6,503.8 436.4,501.8 438.2,499.6 439.4,497.8 441.0,496.2 442.4,494.6 442.8,491.6 442.4,490.6 444.0,489.4 447.0,488.2 448.0,486.2 447.8,483.6 447.0,481.0 446.6,479.0 448.2,477.0 450.6,475.0 453.0,473.4 455.6,472.0 457.6,470.6 458.6,468.6 458.2,466.0 458.0,463.4 458.0,460.6 457.0,459.0 456.0,457.0 455.6,454.6 456.0,452.6 454.8,451.0 455.0,449.0 455.8,447.4 457.0,445.0 458.6,443.4 460.0,442.2 461.4,440.4 463.4,438.4 465.6,436.6 468.0,435.0 470.0,433.2 472.2,431.0 474.0,428.6 475.6,425.8 476.6,423.4 477.8,421.0 479.0,418.2 479.6,415.4 477.6,415.4 475.0,416.2 472.0,416.8 469.0,417.6 466.6,418.2 464.6,417.4 463.4,416.0 463.6,415.0 462.8,413.6 461.4,412.0 459.6,410.2 458.0,409.0 456.6,407.8 455.4,405.8 454.6,403.6 453.0,402.2 451.8,400.0 451.4,397.4 451.0,395.0 449.4,393.0 448.2,391.0 447.0,389.0 445.8,387.0 445.0,385.0 444.2,383.4 443.0,381.8 442.2,380.2 442.0,379.0 442.4,379.6 443.4,381.4 444.4,382.6 445.4,383.4 446.0,382.0 446.8,380.0 447.0,381.4 447.4,383.0 448.6,384.6 450.0,386.6 451.2,388.6 452.0,390.4 453.6,392.0 455.0,394.0 455.4,396.0 456.6,397.8 458.2,399.4 459.4,401.4 461.0,403.4 462.0,405.4 462.6,407.4 463.0,409.4 463.6,411.8 464.0,413.4 466.0,413.6 467.4,413.0 470.0,412.2 472.6,411.2 475.0,410.0 477.6,408.8 480.6,407.8 481.6,406.4 484.0,405.4 486.6,405.0 488.0,403.8 490.0,402.6 492.0,401.2 492.6,399.4 493.6,397.8 494.8,396.0 496.4,394.2 496.6,393.2 494.8,391.8 492.6,391.4 490.6,390.4 489.8,389.0 489.6,386.6 489.2,387.0 488.6,388.2 486.6,389.2 485.0,390.6 482.6,390.6 480.6,390.8 480.0,389.8 480.2,387.4 479.2,387.0 478.6,388.6 477.6,387.4 477.4,385.8 476.0,384.4 474.6,383.0 473.4,381.0 472.8,379.8 474.0,379.0 475.4,378.2 477.0,378.6 478.4,380.2 479.6,382.6 481.4,384.0 483.4,385.4 485.6,385.8 487.6,385.4 489.6,384.8 491.0,385.4 491.6,387.4 494.0,388.0 497.0,388.2 500.0,388.6 503.0,388.6 506.0,388.4 509.0,388.2 510.6,389.2 511.6,390.2 513.0,391.4 514.6,392.4 516.6,393.8 515.0,394.4 516.0,396.6 518.0,397.4 520.6,397.0 521.6,395.4 522.2,397.0 522.6,399.0 522.6,401.0 523.0,403.0 523.6,405.0 524.2,407.0 525.0,409.0 526.0,411.0 526.8,413.4 528.0,415.8 529.4,418.6 530.2,421.0 531.4,422.6 532.2,422.9 533.4,421.4 535.0,420.4 535.6,418.6 536.6,417.4 536.6,415.0 537.4,412.6 537.2,410.0 537.4,408.0 539.0,406.6 541.4,405.8 543.4,404.0 545.4,402.0 547.4,400.2 549.8,399.2 551.0,397.2 552.6,395.8 554.6,395.6 556.6,395.2 558.2,393.8 559.6,394.2 560.6,395.8 561.4,397.4 562.6,399.0 564.2,400.6 565.4,402.2 565.8,404.4 565.6,406.8 567.4,407.6 569.4,406.6 571.0,405.2 572.2,406.4 572.4,408.6 573.2,411.0 574.0,413.4 574.2,415.4 574.4,417.6 573.6,420.0 573.4,422.2 574.2,423.0 575.8,425.0 577.0,426.2 577.8,427.8 578.4,429.8 579.4,432.2 580.2,433.8 582.0,435.0 583.8,436.2 585.4,436.4 585.2,434.6 584.0,433.0 583.8,431.0 583.4,429.0 582.2,427.4 581.0,426.4 579.4,425.2 577.8,424.0 577.0,421.8 575.8,419.8 575.4,418.0 576.2,416.0 577.0,413.8 577.6,412.0 579.0,412.4 580.2,413.6 581.8,414.6 583.0,416.6 584.6,417.8 586.6,418.2 587.2,419.8 586.6,421.6 588.0,421.0 590.0,419.6 591.4,418.2 593.0,417.4 595.0,416.0 595.6,413.8 595.6,411.4 595.0,409.0 593.6,406.8 592.2,405.4 590.6,403.8 589.6,402.0 588.4,400.4 589.4,399.0 591.0,397.2 593.4,396.0 595.4,396.0 596.6,396.2 597.4,398.2 598.2,396.6 600.6,395.6 603.0,394.8 605.4,394.2 607.4,393.4 610.0,393.0 612.0,391.4 614.0,389.8 615.6,388.0 616.6,386.0 618.2,383.4 619.8,382.0 620.8,380.0 620.0,379.0 618.6,378.4 620.0,377.2 620.6,375.6 619.0,374.2 617.8,372.0 615.8,369.6 616.6,367.8 618.0,366.6 620.0,365.4 622.0,365.0 621.6,364.0 619.0,363.8 616.6,364.4 615.0,364.2 614.0,362.6 612.4,361.4 613.4,360.6 615.4,360.2 618.0,358.6 619.8,357.2 621.4,358.0 620.0,360.2 619.8,361.4 622.0,360.4 624.0,359.6 625.6,359.2 627.0,360.0 627.6,362.0 626.6,363.0 628.6,363.4 630.2,364.2 630.0,366.0 630.0,368.0 629.6,369.6 631.4,370.0 633.4,369.4 635.2,368.8 636.0,367.0 635.8,365.0 634.6,363.0 633.0,361.0 631.8,359.8 633.4,358.6 635.6,357.6 636.4,356.0 638.0,354.4 640.0,353.4 642.0,352.6 644.0,353.4 646.6,352.2 648.6,350.6 650.2,348.6 652.2,346.6 653.8,344.4 655.6,342.4 657.4,340.6 658.0,338.6 658.2,336.4 659.6,334.4 659.4,332.6 657.4,332.0 655.4,330.8 653.0,330.6 651.4,331.0 650.2,329.4 648.0,329.6 650.6,328.2 652.6,326.6 655.0,325.0 657.0,323.0 419.0,323.0 419.0,325.0 419.0,327.0 419.0,328.4 417.8,329.6 416.2,330.2 414.6,330.2 413.8,329.4 411.0,329.6 409.0,330.4 406.0,331.0 404.2,330.0 402.0,330.2 400.0,331.0 398.6,331.0 397.0,330.0 396.6,329.0 397.0,327.8 397.8,326.6 398.2,325.0 398.0,323.0ZM366.6,321.8 370.6,321.6 370.2,323.4 373.0,323.8 372.6,325.8 371.4,326.8 372.6,327.4 373.8,328.6 374.6,330.0 376.4,330.8 377.0,331.8 377.6,333.0 380.0,333.2 380.4,334.2 379.6,335.4 378.6,336.2 379.8,336.6 379.0,337.2 377.0,337.4 374.6,337.6 373.0,337.8 371.0,337.6 369.8,338.4 368.0,338.4 366.6,339.0 365.6,338.8 367.0,338.0 368.4,336.8 370.6,336.6 371.0,336.0 369.0,335.8 366.6,335.6 367.6,334.8 368.8,334.0 368.0,333.2 368.2,332.4 370.6,332.2 371.0,331.2 370.2,330.0 370.2,329.2 367.4,329.4 367.0,328.4 367.4,327.4 365.8,328.2 365.4,326.6 365.8,325.0 365.4,323.8ZM364.8,334.6 365.0,333.0 364.6,331.4 365.8,330.2 364.6,328.6 362.2,328.4 360.2,329.4 359.8,330.4 357.0,330.6 357.4,332.2 358.4,332.8 357.8,333.8 356.4,334.8 357.4,335.8 360.0,335.8 362.2,335.0ZM401.8,363.0 403.6,362.6 406.0,363.0 408.2,362.4 407.4,364.2 407.2,365.6 405.6,365.2 403.4,364.2 402.0,363.8ZM393.4,357.0 395.4,356.6 396.4,357.8 396.2,360.4 395.2,361.0 393.8,361.0 393.8,359.0ZM394.2,354.2 395.8,353.0 396.0,355.0 395.4,356.2 394.2,355.4ZM424.0,367.8 426.0,368.0 428.2,368.4 429.6,368.6 429.0,369.0 426.6,369.2 424.2,368.6ZM441.6,369.0 442.8,368.4 444.2,368.2 446.2,367.6 445.0,369.0 444.2,369.4 443.0,369.8 441.8,369.4ZM381.8,359.8 383.2,359.2 383.8,359.8 383.2,360.4 382.2,360.2ZM343.2,382.4 344.8,382.0 344.2,383.0 346.2,382.8 346.0,383.4 345.0,383.0ZM475.6,463.2 477.0,466.0 477.8,469.6 476.6,470.2 476.4,472.6 475.6,475.0 474.6,478.0 473.6,481.0 472.6,484.2 471.4,487.4 470.6,489.2 468.0,490.2 465.6,489.2 464.4,487.4 463.6,484.2 464.0,481.8 465.6,479.4 465.8,477.0 465.0,474.6 466.0,471.8 468.2,470.8 470.0,470.0 472.0,468.4 473.0,466.6 474.6,464.6ZM536.6,419.6 537.6,420.0 539.4,422.0 540.6,424.0 540.2,426.2 538.2,427.1 537.0,426.4 536.6,424.0 536.6,421.8ZM594.4,400.4 596.0,399.0 598.2,398.8 599.0,399.8 598.0,401.4 596.2,402.6 594.4,401.8ZM619.0,388.6 620.8,389.0 620.2,391.0 619.6,393.0 618.6,395.0 617.4,393.4 617.4,391.4 618.2,389.8ZM657.0,356.0 657.6,354.4 659.4,352.6 660.4,350.0 661.0,348.0 663.0,349.8 665.6,351.0 667.6,350.6 668.0,352.4 666.0,353.0 663.6,354.6 663.4,355.0 661.0,354.0 659.4,354.2 658.6,355.4ZM659.8,356.2 660.8,358.0 661.0,360.0 660.0,362.4 659.0,364.0 658.6,365.4 658.6,367.4 657.0,368.4 656.6,369.2 655.4,368.6 654.6,369.8 653.4,369.8 651.6,369.8 650.8,370.4 649.6,371.8 648.6,372.0 647.4,371.4 647.4,370.2 646.0,369.6 644.0,370.2 642.0,370.4 640.6,371.2 639.0,371.2 638.8,370.2 641.0,369.0 643.4,368.0 646.0,367.8 648.0,367.8 649.0,367.0 650.6,365.4 651.6,364.0 651.0,365.4 653.0,364.8 654.6,363.4 656.0,362.0 657.0,360.0 657.0,358.0 657.6,356.6 659.0,356.4ZM641.4,372.2 642.6,371.0 644.6,370.4 646.2,370.6 646.4,371.4 645.4,372.4 644.0,372.2 643.0,373.4 642.2,373.2ZM636.4,372.6 637.8,371.4 639.0,371.4 640.4,372.0 640.8,373.4 640.0,375.4 639.0,376.4 638.2,376.8 637.4,376.2 637.4,374.6 636.6,373.6ZM661.0,347.0 664.0,345.4 662.6,344.0 663.0,342.0 663.6,340.0 665.4,340.6 664.0,338.0 663.6,336.0 663.6,334.0 663.0,332.2 662.4,330.4 661.4,332.0 660.6,334.0 661.0,336.0 661.2,338.0 661.0,340.0 661.0,342.0 661.0,344.0ZM690.4,337.0 692.6,335.4 694.0,333.4 696.6,332.6 697.0,331.0 700.4,329.8 701.2,328.0 702.0,326.4 703.0,325.0 703.0,323.0 690.0,323.0 689.0,325.0 688.2,327.0 688.0,329.0 688.6,331.0 689.0,333.0 689.8,335.0ZM618.2,402.0 620.0,401.8 621.6,402.2 621.4,404.4 620.2,407.0 620.4,409.0 622.0,410.6 624.6,411.4 625.2,413.4 623.6,413.0 622.0,411.8 620.2,411.6 618.4,411.4 618.2,409.8 617.0,409.0 616.8,406.6 617.8,405.0ZM621.0,424.6 623.0,423.0 625.0,422.2 627.6,419.6 629.6,421.4 630.0,424.6 629.0,426.4 628.0,427.6 627.0,427.2 625.4,426.4 624.0,424.0 621.6,425.2ZM621.0,415.4 623.2,416.0 625.0,416.6 627.0,416.6 628.2,414.2 628.0,417.4 627.0,419.0 625.0,419.0 623.6,420.6 622.2,419.4 621.0,417.8ZM611.4,422.2 613.4,420.4 615.8,417.6 616.4,416.2 615.0,418.4 613.0,421.0 611.6,422.6ZM617.8,412.0 619.6,412.2 620.0,414.0 619.0,414.6 618.2,413.4ZM595.4,435.4 597.4,435.6 599.4,435.4 600.0,433.8 602.6,432.8 604.6,430.6 606.6,429.2 608.6,427.8 610.6,425.2 612.2,426.0 613.6,427.4 615.4,428.6 613.8,429.6 612.6,431.0 612.2,432.6 613.0,434.6 614.6,437.0 613.0,437.4 612.2,439.0 611.8,440.8 610.2,442.2 609.8,444.2 609.4,446.2 608.6,446.6 606.6,447.2 604.6,446.0 602.6,445.8 600.6,445.8 598.6,444.8 597.4,443.0 597.0,441.4 595.4,440.0 595.0,438.2 594.8,436.6ZM567.6,427.8 569.8,428.4 572.0,428.6 573.8,430.6 576.2,432.6 578.2,434.6 580.2,435.4 582.2,437.0 584.0,438.4 584.6,440.2 586.0,442.0 587.4,443.8 589.0,445.0 588.8,447.4 588.6,450.6 587.0,450.6 585.8,450.2 584.2,448.6 582.2,447.2 580.6,445.4 579.0,443.6 577.8,441.4 576.6,439.4 575.0,437.4 574.2,435.4 572.6,434.0 571.4,432.4 569.4,431.0 567.8,429.2ZM587.6,452.2 589.4,450.8 591.4,451.0 593.6,451.8 596.0,452.6 598.2,452.0 600.2,452.4 602.6,452.8 604.6,454.2 606.0,454.6 606.0,456.4 604.0,455.8 601.4,455.6 599.0,455.4 596.6,454.6 594.2,454.4 591.8,454.2 589.8,453.6ZM616.6,437.4 618.6,436.4 621.4,437.0 624.2,437.2 626.6,436.0 627.4,436.2 626.0,438.0 623.4,438.4 620.2,438.0 617.6,438.4 617.2,440.6 618.6,441.6 620.6,440.8 623.4,440.6 623.6,441.4 621.4,442.6 620.2,443.0 621.6,445.4 622.6,447.4 621.8,448.6 620.2,448.2 619.0,446.0 618.6,444.6 617.8,445.4 617.8,448.2 617.6,450.0 616.2,450.2 615.8,448.0 616.0,446.0 614.6,444.6 615.4,442.6 616.0,440.6 616.6,439.0ZM639.0,440.6 641.6,439.8 644.0,440.4 645.4,442.0 646.6,445.4 648.2,445.6 650.6,443.6 653.0,442.4 656.0,443.4 659.0,444.2 662.0,445.4 665.0,446.6 667.4,447.8 668.6,449.8 671.0,451.0 672.6,452.2 671.4,453.4 673.0,455.0 675.0,457.0 677.0,459.0 678.6,460.2 676.6,460.0 674.0,459.4 671.4,458.0 669.4,455.8 667.0,454.6 665.0,454.2 663.4,455.8 662.0,457.4 659.4,457.4 657.4,455.4 655.0,455.2 653.0,455.8 652.6,453.8 654.2,452.6 653.0,450.2 650.6,448.6 648.0,447.8 645.0,446.8 643.0,447.0 642.2,445.8 642.6,444.6 644.6,443.8 642.0,443.4 640.0,442.0 639.0,441.4ZM632.0,435.2 633.0,434.6 634.2,436.0 634.6,438.0 633.4,440.4 632.6,438.6 632.0,437.0ZM624.0,459.6 626.0,458.0 628.6,456.4 631.0,455.8 630.0,457.0 627.0,458.6 625.0,459.6ZM609.0,455.8 612.0,455.6 615.0,455.8 618.0,455.6 621.0,455.6 623.0,455.6 622.0,456.6 618.6,456.8 615.0,456.6 612.0,457.0 609.0,456.8ZM606.0,455.2 608.2,455.4 607.6,456.6 606.2,456.0ZM633.0,445.0 636.0,444.6 638.6,445.6 637.0,446.2 634.0,446.0ZM673.6,450.2 676.0,450.0 678.6,450.0 681.0,447.4 681.8,448.6 680.6,450.2 678.0,451.6 675.0,451.6ZM604.4,483.0 605.4,482.6 608.0,481.0 610.6,480.2 613.4,479.6 616.2,479.0 619.0,478.2 621.4,475.4 621.6,473.4 624.0,473.8 624.2,471.8 626.0,471.0 627.4,469.0 629.4,467.4 631.4,466.8 633.4,468.6 635.4,468.8 636.2,466.6 637.6,465.0 638.6,463.8 640.6,463.4 642.2,462.0 644.0,462.6 646.0,463.0 648.6,463.2 650.6,463.4 650.0,465.4 648.8,467.4 648.0,469.0 650.0,470.6 652.6,471.8 655.0,473.4 657.0,474.4 658.6,474.0 659.6,471.4 660.2,468.6 660.2,465.8 660.6,463.4 661.4,461.0 662.2,460.4 663.4,462.6 664.2,464.6 664.6,467.4 666.2,467.8 667.6,469.4 668.0,472.0 669.0,474.0 669.6,476.6 671.4,477.8 673.8,479.4 675.0,481.0 676.6,483.6 678.6,485.4 680.0,487.0 682.6,489.4 683.4,491.4 684.0,494.0 684.0,496.6 683.4,499.0 682.6,502.0 681.4,504.2 680.0,506.0 679.0,507.8 678.0,510.0 677.0,512.2 676.8,514.0 674.0,514.6 671.4,515.8 669.6,517.0 668.0,515.8 666.4,515.4 664.2,516.6 661.8,515.8 659.4,515.4 657.4,514.2 656.2,512.2 655.4,510.4 653.4,510.2 654.0,508.2 653.0,506.2 652.2,504.6 651.4,506.6 651.0,508.6 649.4,509.0 648.0,508.6 647.0,506.6 645.4,505.0 643.4,503.4 641.0,503.0 638.6,502.2 636.0,502.2 633.0,503.2 630.0,503.6 627.0,504.6 624.6,506.6 622.0,507.0 619.0,506.8 616.6,507.2 614.0,508.8 611.6,509.0 609.0,508.6 607.0,507.6 607.4,506.0 608.4,504.0 608.4,502.0 607.4,500.0 606.8,498.0 605.4,495.0 604.6,492.6 603.8,491.0 604.2,489.0 603.8,487.0 604.6,485.0ZM666.4,520.4 669.0,521.2 671.4,520.8 673.6,521.0 673.4,523.4 672.2,525.4 670.0,526.2 668.2,525.0 667.4,523.0 666.6,521.6ZM722.4,507.8 724.0,509.0 726.0,511.0 727.4,512.2 728.6,512.6 729.4,514.4 731.4,514.8 733.6,514.2 733.4,516.2 731.4,517.8 730.8,519.4 729.0,521.4 727.4,522.2 726.6,521.6 727.4,519.6 725.0,518.0 725.4,516.2 726.6,514.6 725.8,512.6 723.8,510.2ZM722.4,520.0 724.0,521.0 725.6,522.4 724.6,524.0 722.6,525.6 721.4,527.0 719.4,528.2 719.0,530.0 717.4,531.4 715.0,532.2 712.6,531.8 710.2,531.0 711.0,529.0 713.4,527.4 716.2,526.0 719.0,524.2 720.6,522.2 721.4,520.6ZM705.0,479.4 707.4,481.0 710.0,483.0 711.0,483.8 709.4,483.4 706.6,481.4ZM731.6,474.0 734.0,473.8 734.2,475.4 731.8,475.4ZM65.0,398.6 67.0,399.4 66.0,401.0 65.0,400.0ZM483.8,413.8 486.0,413.8 485.0,414.4ZM514.6,537.0 517.4,537.2 517.8,538.2 515.0,538.2ZM301.0,547.0 304.0,547.4 305.0,548.6 302.0,547.8ZM194.2,439.8 195.2,440.0 195.0,441.0 194.0,440.8ZM668.0,350.2 671.0,348.6 674.0,347.8 673.0,348.8 669.6,350.4ZM562.4,412.2 563.0,415.0 562.2,415.8 562.0,414.0ZM587.6,442.6 589.4,442.2 590.4,444.6 588.6,444.0ZM615.0,458.0 617.4,458.0 618.6,459.4 616.6,459.6ZM399.0,327.6 401.6,326.8 402.2,327.8 401.2,328.8 399.4,328.6ZM402.2,326.6 402.8,327.8 403.6,328.3 405.4,328.2 405.8,327.2 408.0,326.8 409.8,326.0 410.0,323.0 400.0,323.0 401.0,324.4Z" fill="#b0b0b0" fill-rule="evenodd"/>
<path d="M207.2,395.4 208.6,393.8 211.0,393.0 213.0,392.6 215.8,392.8 218.0,394.0 221.0,394.4 223.0,395.8 225.0,396.8 227.0,397.6 228.6,398.6 226.6,399.2 224.0,399.2 221.6,399.2 222.6,397.8 220.6,397.4 219.4,395.8 216.6,395.4 214.0,394.6 212.0,393.8 210.0,394.6 209.0,395.2ZM228.2,401.8 230.0,402.6 233.0,402.8 234.2,403.6 235.8,402.4 238.0,402.2 240.2,402.6 240.2,401.6 238.6,401.0 237.4,400.2 235.8,399.4 233.6,399.2 231.4,399.2 230.2,399.6 231.6,400.6 232.2,401.8 230.0,401.8ZM220.4,402.2 222.6,402.0 224.4,402.8 223.0,403.4 221.0,403.0ZM242.6,402.0 245.6,402.2 245.4,403.0 242.6,403.1ZM253.4,417.6 255.2,417.4 255.0,418.8 253.2,418.8ZM621.0,415.4 623.2,416.0 625.0,416.6 627.0,416.6 628.2,414.2 628.0,417.4 627.0,419.0 625.0,419.0 623.6,420.6 622.2,419.4 621.0,417.8ZM611.4,422.2 613.4,420.4 615.8,417.6 616.4,416.2 615.0,418.4 613.0,421.0 611.6,422.6ZM617.8,412.0 619.6,412.2 620.0,414.0 619.0,414.6 618.2,413.4ZM621.0,424.6 623.0,423.0 625.0,422.2 627.6,419.6 629.6,421.4 630.0,424.6 629.0,426.4 628.0,427.6 627.0,427.2 625.4,426.4 624.0,424.0 621.6,425.2ZM616.6,437.4 618.6,436.4 621.4,437.0 624.2,437.2 626.6,436.0 627.4,436.2 626.0,438.0 623.4,438.4 620.2,438.0 617.6,438.4 617.2,440.6 618.6,441.6 620.6,440.8 623.4,440.6 623.6,441.4 621.4,442.6 620.2,443.0 621.6,445.4 622.6,447.4 621.8,448.6 620.2,448.2 619.0,446.0 618.6,444.6 617.8,445.4 617.8,448.2 617.6,450.0 616.2,450.2 615.8,448.0 616.0,446.0 614.6,444.6 615.4,442.6 616.0,440.6 616.6,439.0ZM587.6,452.2 589.4,450.8 591.4,451.0 593.6,451.8 596.0,452.6 598.2,452.0 600.2,452.4 602.6,452.8 604.6,454.2 606.0,454.6 606.0,456.4 604.0,455.8 601.4,455.6 599.0,455.4 596.6,454.6 594.2,454.4 591.8,454.2 589.8,453.6ZM609.0,455.8 612.0,455.6 615.0,455.8 618.0,455.6 621.0,455.6 623.0,455.6 622.0,456.6 618.6,456.8 615.0,456.6 612.0,457.0 609.0,456.8ZM624.0,459.6 626.0,458.0 628.6,456.4 631.0,455.8 630.0,457.0 627.0,458.6 625.0,459.6ZM632.0,435.2 633.0,434.6 634.2,436.0 634.6,438.0 633.4,440.4 632.6,438.6 632.0,437.0ZM633.0,445.0 636.0,444.6 638.6,445.6 637.0,446.2 634.0,446.0ZM606.0,455.2 608.2,455.4 607.6,456.6 606.2,456.0ZM615.0,458.0 617.4,458.0 618.6,459.4 616.6,459.6ZM673.6,450.2 676.0,450.0 678.6,450.0 681.0,447.4 681.8,448.6 680.6,450.2 678.0,451.6 675.0,451.6ZM705.0,479.4 707.4,481.0 710.0,483.0 711.0,483.8 709.4,483.4 706.6,481.4ZM562.4,412.2 563.0,415.0 562.2,415.8 562.0,414.0ZM587.6,442.6 589.4,442.2 590.4,444.6 588.6,444.0ZM668.0,350.2 671.0,348.6 674.0,347.8 673.0,348.8 669.6,350.4ZM343.2,382.4 344.8,382.0 344.2,383.0 346.2,382.8 346.0,383.4 345.0,383.0ZM424.0,367.8 426.0,368.0 428.2,368.4 429.6,368.6 429.0,369.0 426.6,369.2 424.2,368.6ZM441.6,369.0 442.8,368.4 444.2,368.2 446.2,367.6 445.0,369.0 444.2,369.4 443.0,369.8 441.8,369.4ZM381.8,359.8 383.2,359.2 383.8,359.8 383.2,360.4 382.2,360.2ZM394.2,354.2 395.8,353.0 396.0,355.0 395.4,356.2 394.2,355.4ZM618.2,402.0 620.0,401.8 621.6,402.2 621.4,404.4 620.2,407.0 620.4,409.0 622.0,410.6 624.6,411.4 625.2,413.4 623.6,413.0 622.0,411.8 620.2,411.6 618.4,411.4 618.2,409.8 617.0,409.0 616.8,406.6 617.8,405.0Z" fill="#cdcdcd"/>
<g clip-path="url(#sc2)"><g clip-path="url(#lc2)"><use href="#sw2" fill="#fad783"/></g></g>
<polygon points="58,549 63,549 63,546.5" fill="#fff"/>
<rect x="211" y="417" width="2" height="2" fill="#c81414"/>
<rect x="214" y="418" width="5" height="3" fill="#c81414"/>
<rect x="243" y="405" width="2" height="2" fill="#c81414"/>
<rect x="251" y="399" width="2" height="2" fill="#c81414"/>
<rect x="275" y="445" width="2" height="2" fill="#c81414"/>
<rect x="251" y="481" width="2" height="2" fill="#c81414"/>
<rect x="421" y="456" width="2" height="2" fill="#c81414"/>
<rect x="434" y="457" width="2" height="2" fill="#c81414"/>
<rect x="472" y="453" width="2" height="3" fill="#c81414"/>
<rect x="536" y="466" width="2" height="2" fill="#c81414"/>
<rect x="437" y="367" width="2" height="3" fill="#c81414"/>
<rect x="445" y="366" width="4" height="3" fill="#c81414"/>
<rect x="448" y="368" width="2" height="3" fill="#c81414"/>
<rect x="490" y="413" width="2" height="2" fill="#c81414"/>
<rect x="413" y="432" width="2" height="2" fill="#c81414"/>
<rect x="416" y="433" width="2" height="2" fill="#c81414"/>
<rect x="417" y="440" width="2" height="2" fill="#c81414"/>
<rect x="417" y="444" width="2" height="2" fill="#c81414"/>
<rect x="516" y="353" width="2" height="2" fill="#c81414"/>
<rect x="644" y="364" width="2" height="2" fill="#c81414"/>
<rect x="685" y="359" width="2" height="2" fill="#c81414"/>
<rect x="628" y="390" width="2" height="2" fill="#c81414"/>
<rect x="635" y="402" width="2" height="2" fill="#c81414"/>
<rect x="636" y="401" width="3" height="2" fill="#c81414"/>
<rect x="654" y="421" width="2" height="2" fill="#c81414"/>
<rect x="699" y="421" width="2" height="2" fill="#c81414"/>
<rect x="702" y="422" width="2" height="2" fill="#c81414"/>
<rect x="705" y="422" width="2" height="2" fill="#c81414"/>
<rect x="591" y="427" width="2" height="2" fill="#c81414"/>
<rect x="598" y="422" width="3" height="2" fill="#c81414"/>
<rect x="602" y="419" width="3" height="5" fill="#c81414"/>
<rect x="604" y="419" width="2" height="2" fill="#c81414"/>
<rect x="608" y="421" width="4" height="2" fill="#c81414"/>
<rect x="604" y="429" width="2" height="2" fill="#c81414"/>
<rect x="612" y="442" width="2" height="2" fill="#c81414"/>
<rect x="660" y="439" width="2" height="2" fill="#c81414"/>
<rect x="660" y="443" width="2" height="2" fill="#c81414"/>
<rect x="665" y="446" width="2" height="2" fill="#c81414"/>
<rect x="670" y="447" width="3" height="2" fill="#c81414"/>
<rect x="673" y="448" width="2" height="2" fill="#c81414"/>
<rect x="678" y="456" width="2" height="2" fill="#c81414"/>
<rect x="668" y="457" width="2" height="2" fill="#c81414"/>
<rect x="605" y="449" width="2" height="2" fill="#c81414"/>
<rect x="611" y="449" width="2" height="2" fill="#c81414"/>
<rect x="618" y="450" width="2" height="5" fill="#c81414"/>
<rect x="606" y="452" width="7" height="2" fill="#c81414"/>
<rect x="616" y="454" width="3" height="2" fill="#c81414"/>
<rect x="611" y="458" width="2" height="2" fill="#c81414"/>
<rect x="619" y="458" width="2" height="2" fill="#c81414"/>
<rect x="624" y="460" width="2" height="2" fill="#c81414"/>
<rect x="626" y="453" width="5" height="3" fill="#c81414"/>
<rect x="631" y="451" width="2" height="2" fill="#c81414"/>
<rect x="633" y="455" width="2" height="2" fill="#c81414"/>
<rect x="695" y="470" width="2" height="2" fill="#c81414"/>
<rect x="634" y="483" width="2" height="2" fill="#c81414"/>
</g>
<g stroke="#000" stroke-width="1" stroke-dasharray="1 5" shape-rendering="crispEdges"><line x1="17.5" y1="331" x2="17.5" y2="549"/><line x1="47.5" y1="331" x2="47.5" y2="549"/><line x1="77.5" y1="331" x2="77.5" y2="549"/><line x1="107.5" y1="331" x2="107.5" y2="549"/><line x1="137.5" y1="331" x2="137.5" y2="549"/><line x1="167.5" y1="331" x2="167.5" y2="549"/><line x1="197.5" y1="331" x2="197.5" y2="549"/><line x1="227.5" y1="331" x2="227.5" y2="549"/><line x1="257.5" y1="331" x2="257.5" y2="549"/><line x1="287.5" y1="331" x2="287.5" y2="549"/><line x1="317.5" y1="331" x2="317.5" y2="549"/><line x1="347.5" y1="331" x2="347.5" y2="549"/><line x1="377.5" y1="331" x2="377.5" y2="549"/><line x1="407.5" y1="331" x2="407.5" y2="549"/><line x1="437.5" y1="331" x2="437.5" y2="549"/><line x1="467.5" y1="331" x2="467.5" y2="549"/><line x1="497.5" y1="331" x2="497.5" y2="549"/><line x1="527.5" y1="331" x2="527.5" y2="549"/><line x1="557.5" y1="331" x2="557.5" y2="549"/><line x1="587.5" y1="331" x2="587.5" y2="549"/><line x1="617.5" y1="331" x2="617.5" y2="549"/><line x1="647.5" y1="331" x2="647.5" y2="549"/><line x1="677.5" y1="331" x2="677.5" y2="549"/><line x1="707.5" y1="331" x2="707.5" y2="549"/><line x1="737.5" y1="331" x2="737.5" y2="549"/><line x1="17" y1="349.5" x2="738" y2="349.5"/><line x1="17" y1="379.5" x2="738" y2="379.5"/><line x1="17" y1="409.5" x2="738" y2="409.5"/><line x1="17" y1="469.5" x2="738" y2="469.5"/><line x1="17" y1="499.5" x2="738" y2="499.5"/><line x1="17" y1="529.5" x2="738" y2="529.5"/></g><line x1="17" y1="439.5" x2="738" y2="439.5" stroke="#808080" stroke-width="1" shape-rendering="crispEdges"/><line x1="17" y1="439.5" x2="738" y2="439.5" stroke="#000" stroke-width="1" stroke-dasharray="1 5" shape-rendering="crispEdges"/>
<defs><clipPath id="mc2l"><rect x="17" y="323" width="740" height="231"/></clipPath></defs>
<g clip-path="url(#mc2l)" shape-rendering="crispEdges"><rect x="17" y="328" width="1" height="5" fill="#000"/><rect x="17" y="437" width="1" height="5" fill="#000"/><text transform="translate(20.7,354.4) rotate(-90) scale(1,1.36)" class="pl">1406</text><rect x="65" y="328" width="1" height="5" fill="#000"/><rect x="65" y="437" width="1" height="5" fill="#000"/><text transform="translate(68.7,354.4) rotate(-90) scale(1,1.36)" class="pl">1336</text><rect x="77" y="328" width="1" height="5" fill="#000"/><rect x="77" y="437" width="1" height="5" fill="#000"/><text transform="translate(80.7,354.4) rotate(-90) scale(1,1.36)" class="pl">1349</text><rect x="124" y="328" width="1" height="5" fill="#000"/><rect x="124" y="437" width="1" height="5" fill="#000"/><text transform="translate(127.7,354.4) rotate(-90) scale(1,1.36)" class="pl">1316</text><rect x="172" y="328" width="1" height="5" fill="#000"/><rect x="172" y="437" width="1" height="5" fill="#000"/><text transform="translate(175.7,354.4) rotate(-90) scale(1,1.36)" class="pl">1343</text><rect x="219" y="328" width="1" height="5" fill="#000"/><rect x="219" y="437" width="1" height="5" fill="#000"/><text transform="translate(222.7,354.4) rotate(-90) scale(1,1.36)" class="pl">1310</text><rect x="266" y="328" width="1" height="5" fill="#000"/><rect x="266" y="437" width="1" height="5" fill="#000"/><text transform="translate(269.7,354.4) rotate(-90) scale(1,1.36)" class="pl">1337</text><rect x="313" y="328" width="1" height="5" fill="#000"/><rect x="313" y="437" width="1" height="5" fill="#000"/><text transform="translate(316.7,354.4) rotate(-90) scale(1,1.36)" class="pl">1305</text><rect x="433" y="328" width="1" height="5" fill="#000"/><rect x="433" y="437" width="1" height="5" fill="#000"/><text transform="translate(436.7,354.4) rotate(-90) scale(1,1.36)" class="pl">1359</text><rect x="455" y="328" width="1" height="5" fill="#000"/><rect x="455" y="437" width="1" height="5" fill="#000"/><text transform="translate(458.7,354.4) rotate(-90) scale(1,1.36)" class="pl">1326</text><rect x="502" y="328" width="1" height="5" fill="#000"/><rect x="502" y="437" width="1" height="5" fill="#000"/><text transform="translate(505.7,354.4) rotate(-90) scale(1,1.36)" class="pl">1353</text><rect x="549" y="328" width="1" height="5" fill="#000"/><rect x="549" y="437" width="1" height="5" fill="#000"/><text transform="translate(552.7,354.4) rotate(-90) scale(1,1.36)" class="pl">1321</text><rect x="596" y="328" width="1" height="5" fill="#000"/><rect x="596" y="437" width="1" height="5" fill="#000"/><text transform="translate(599.7,354.4) rotate(-90) scale(1,1.36)" class="pl">1347</text><rect x="643" y="328" width="1" height="5" fill="#000"/><rect x="643" y="437" width="1" height="5" fill="#000"/><text transform="translate(646.7,354.4) rotate(-90) scale(1,1.36)" class="pl">1314</text><rect x="691" y="328" width="1" height="5" fill="#000"/><rect x="691" y="437" width="1" height="5" fill="#000"/><text transform="translate(694.7,354.4) rotate(-90) scale(1,1.36)" class="pl">1341</text><rect x="17" y="544" width="1" height="5" fill="#000"/><text transform="translate(20.7,543.2) rotate(-90) scale(1,1.36)" class="pl">0209</text><rect x="65" y="544" width="1" height="5" fill="#000"/><text transform="translate(68.7,543.2) rotate(-90) scale(1,1.36)" class="pl">0036</text><rect x="77" y="544" width="1" height="5" fill="#000"/><text transform="translate(80.7,543.2) rotate(-90) scale(1,1.36)" class="pl">2349</text><rect x="124" y="544" width="1" height="5" fill="#000"/><text transform="translate(127.7,543.2) rotate(-90) scale(1,1.36)" class="pl">2216</text><rect x="172" y="544" width="1" height="5" fill="#000"/><text transform="translate(175.7,543.2) rotate(-90) scale(1,1.36)" class="pl">2043</text><rect x="219" y="544" width="1" height="5" fill="#000"/><text transform="translate(222.7,543.2) rotate(-90) scale(1,1.36)" class="pl">1910</text><rect x="266" y="544" width="1" height="5" fill="#000"/><text transform="translate(269.7,543.2) rotate(-90) scale(1,1.36)" class="pl">1737</text><rect x="313" y="544" width="1" height="5" fill="#000"/><text transform="translate(316.7,543.2) rotate(-90) scale(1,1.36)" class="pl">1605</text><rect x="433" y="544" width="1" height="5" fill="#000"/><text transform="translate(436.7,543.2) rotate(-90) scale(1,1.36)" class="pl">1259</text><rect x="455" y="544" width="1" height="5" fill="#000"/><text transform="translate(458.7,543.2) rotate(-90) scale(1,1.36)" class="pl">1126</text><rect x="502" y="544" width="1" height="5" fill="#000"/><text transform="translate(505.7,543.2) rotate(-90) scale(1,1.36)" class="pl">0953</text><rect x="549" y="544" width="1" height="5" fill="#000"/><text transform="translate(552.7,543.2) rotate(-90) scale(1,1.36)" class="pl">0821</text><rect x="596" y="544" width="1" height="5" fill="#000"/><text transform="translate(599.7,543.2) rotate(-90) scale(1,1.36)" class="pl">0647</text><rect x="643" y="544" width="1" height="5" fill="#000"/><text transform="translate(646.7,543.2) rotate(-90) scale(1,1.36)" class="pl">0514</text><rect x="691" y="544" width="1" height="5" fill="#000"/><text transform="translate(694.7,543.2) rotate(-90) scale(1,1.36)" class="pl">0341</text></g>
<g shape-rendering="crispEdges">
<rect x="91" y="629" width="481" height="2" fill="#f01414"/>
<rect x="91" y="631" width="481" height="8" fill="#ffc800"/>
<rect x="91" y="651" width="481" height="10" fill="#c0c0c0"/>
<rect x="91" y="627" width="7" height="1" fill="#ffc800"/>
<rect x="120" y="627" width="9" height="1" fill="#ffc800"/>
<rect x="151" y="627" width="9" height="1" fill="#ffc800"/>
<rect x="182" y="627" width="9" height="1" fill="#ffc800"/>
<rect x="213" y="627" width="9" height="1" fill="#ffc800"/>
<rect x="244" y="627" width="9" height="1" fill="#ffc800"/>
<rect x="275" y="627" width="9" height="1" fill="#ffc800"/>
<rect x="306" y="627" width="9" height="1" fill="#ffc800"/>
<rect x="337" y="627" width="9" height="1" fill="#ffc800"/>
<rect x="368" y="627" width="9" height="1" fill="#ffc800"/>
<rect x="399" y="627" width="9" height="1" fill="#ffc800"/>
<rect x="430" y="627" width="9" height="1" fill="#ffc800"/>
<rect x="461" y="627" width="9" height="1" fill="#ffc800"/>
<rect x="492" y="627" width="9" height="1" fill="#ffc800"/>
<rect x="523" y="627" width="9" height="1" fill="#ffc800"/>
<rect x="554" y="627" width="9" height="1" fill="#ffc800"/>
<rect x="323" y="618" width="2" height="10" fill="#ffc800"/>
<rect x="322" y="621" width="4" height="7" fill="#ffc800"/>
<rect x="354" y="618" width="3" height="10" fill="#ffc800"/>
<rect x="353" y="622" width="5" height="6" fill="#ffc800"/>
<rect x="387" y="618" width="1" height="10" fill="#ffc800"/>
<rect x="387" y="623" width="2" height="5" fill="#ffc800"/>
<rect x="387" y="626" width="3" height="2" fill="#ffc800"/>
<rect x="453" y="621" width="1" height="7" fill="#ffc800"/>
<rect x="454" y="618" width="2" height="10" fill="#ffc800"/>
<rect x="484" y="622" width="1" height="6" fill="#ffc800"/>
<rect x="485" y="618" width="2" height="10" fill="#ffc800"/>
<rect x="487" y="624" width="1" height="4" fill="#ffc800"/>
<rect x="517" y="618" width="2" height="10" fill="#ffc800"/>
<rect x="519" y="622" width="1" height="6" fill="#ffc800"/>
<rect x="389" y="626" width="1" height="1" fill="#f01414"/>
<rect x="111" y="613" width="1" height="2" fill="#f01414"/>
<rect x="111" y="615" width="1" height="2" fill="#ffe61e"/>
<rect x="142" y="613" width="1" height="2" fill="#f01414"/>
<rect x="142" y="615" width="1" height="2" fill="#ffe61e"/>
<rect x="389" y="613" width="1" height="2" fill="#f01414"/>
<rect x="389" y="615" width="1" height="2" fill="#ffe61e"/>
<rect x="142" y="626" width="1" height="2" fill="#f01414"/>
<rect x="106" y="629" width="3" height="5" fill="#f01414"/>
<rect x="107" y="634" width="1" height="3" fill="#f01414"/>
<rect x="227" y="631" width="2" height="3" fill="#f01414"/>
<rect x="347" y="631" width="1" height="3" fill="#f01414"/>
<rect x="352" y="631" width="1" height="3" fill="#f01414"/>
<rect x="354" y="629" width="4" height="7" fill="#f01414"/>
<rect x="355" y="636" width="2" height="3" fill="#f01414"/>
<rect x="371" y="631" width="1" height="3" fill="#f01414"/>
<rect x="385" y="629" width="3" height="7" fill="#f01414"/>
<rect x="386" y="636" width="2" height="3" fill="#f01414"/>
<rect x="467" y="631" width="1" height="3" fill="#f01414"/>
<rect x="518" y="629" width="1" height="8" fill="#f01414"/>
<rect x="107" y="629" width="1" height="1" fill="#fff"/>
<rect x="354" y="629" width="1" height="1" fill="#fff"/>
<rect x="357" y="629" width="1" height="1" fill="#fff"/>
<rect x="385" y="629" width="1" height="1" fill="#fff"/>
<rect x="387" y="629" width="1" height="1" fill="#fff"/>
<rect x="518" y="629" width="1" height="1" fill="#fff"/>
<rect x="130" y="629" width="2" height="2" fill="#ffe61e"/>
<rect x="263" y="629" width="2" height="2" fill="#ffe61e"/>
<rect x="441" y="629" width="2" height="2" fill="#ffe61e"/>
<rect x="104" y="648" width="1" height="2" fill="#ffc800"/>
<rect x="107" y="648" width="1" height="2" fill="#ffc800"/>
<rect x="228" y="648" width="1" height="2" fill="#ffc800"/>
<rect x="232" y="648" width="1" height="2" fill="#ffc800"/>
<rect x="262" y="648" width="1" height="2" fill="#ffc800"/>
<rect x="518" y="648" width="1" height="2" fill="#ffc800"/>
<rect x="353" y="648" width="2" height="2" fill="#ffc800"/>
<rect x="569" y="648" width="2" height="2" fill="#ffc800"/>
<rect x="142" y="646" width="1" height="2" fill="#f01414"/>
<rect x="142" y="648" width="1" height="2" fill="#ffe61e"/>
<rect x="389" y="646" width="1" height="2" fill="#f01414"/>
<rect x="389" y="648" width="1" height="2" fill="#ffe61e"/>
<rect x="98" y="605" width="1" height="1" fill="#000"/>
<rect x="102" y="598" width="1" height="8" fill="#000"/>
<rect x="103" y="598" width="1" height="8" fill="#000"/>
<rect x="104" y="574" width="1" height="32" fill="#000"/>
<rect x="106" y="596" width="1" height="10" fill="#000"/>
<rect x="119" y="591" width="1" height="15" fill="#000"/>
<rect x="120" y="591" width="1" height="15" fill="#000"/>
<rect x="121" y="579" width="1" height="27" fill="#000"/>
<rect x="122" y="605" width="1" height="1" fill="#000"/>
<rect x="151" y="586" width="1" height="20" fill="#000"/>
<rect x="152" y="598" width="1" height="8" fill="#000"/>
<rect x="160" y="592" width="1" height="14" fill="#000"/>
<rect x="161" y="576" width="1" height="30" fill="#000"/>
<rect x="163" y="605" width="1" height="1" fill="#000"/>
<rect x="167" y="605" width="1" height="1" fill="#000"/>
<rect x="197" y="601" width="1" height="5" fill="#000"/>
<rect x="227" y="594" width="1" height="12" fill="#000"/>
<rect x="228" y="598" width="1" height="8" fill="#000"/>
<rect x="237" y="605" width="1" height="1" fill="#000"/>
<rect x="241" y="598" width="1" height="8" fill="#000"/>
<rect x="242" y="592" width="1" height="14" fill="#000"/>
<rect x="270" y="595" width="1" height="11" fill="#000"/>
<rect x="271" y="587" width="1" height="19" fill="#000"/>
<rect x="272" y="595" width="1" height="11" fill="#000"/>
<rect x="273" y="589" width="1" height="17" fill="#000"/>
<rect x="301" y="580" width="1" height="26" fill="#000"/>
<rect x="302" y="586" width="1" height="20" fill="#000"/>
<rect x="303" y="592" width="1" height="14" fill="#000"/>
<rect x="304" y="589" width="1" height="17" fill="#000"/>
<rect x="306" y="605" width="1" height="1" fill="#000"/>
<rect x="318" y="601" width="1" height="5" fill="#000"/>
<rect x="320" y="605" width="1" height="1" fill="#000"/>
<rect x="334" y="598" width="1" height="8" fill="#000"/>
<rect x="335" y="589" width="1" height="17" fill="#000"/>
<rect x="336" y="586" width="1" height="20" fill="#000"/>
<rect x="337" y="587" width="1" height="19" fill="#000"/>
<rect x="338" y="594" width="1" height="12" fill="#000"/>
<rect x="350" y="589" width="1" height="17" fill="#000"/>
<rect x="353" y="601" width="1" height="5" fill="#000"/>
<rect x="365" y="601" width="1" height="5" fill="#000"/>
<rect x="367" y="592" width="1" height="14" fill="#000"/>
<rect x="371" y="605" width="1" height="1" fill="#000"/>
<rect x="394" y="585" width="1" height="21" fill="#000"/>
<rect x="395" y="588" width="1" height="18" fill="#000"/>
<rect x="425" y="581" width="1" height="25" fill="#000"/>
<rect x="426" y="571" width="1" height="35" fill="#000"/>
<rect x="427" y="586" width="1" height="20" fill="#000"/>
<rect x="431" y="577" width="1" height="29" fill="#000"/>
<rect x="432" y="584" width="1" height="22" fill="#000"/>
<rect x="458" y="574" width="1" height="32" fill="#000"/>
<rect x="459" y="579" width="1" height="27" fill="#000"/>
<rect x="460" y="580" width="1" height="26" fill="#000"/>
<rect x="470" y="605" width="1" height="1" fill="#000"/>
<rect x="494" y="585" width="1" height="21" fill="#000"/>
<rect x="495" y="598" width="1" height="8" fill="#000"/>
<rect x="501" y="605" width="1" height="1" fill="#000"/>
<rect x="504" y="605" width="1" height="1" fill="#000"/>
<rect x="505" y="592" width="1" height="14" fill="#000"/>
<rect x="516" y="585" width="1" height="21" fill="#000"/>
<rect x="517" y="604" width="1" height="2" fill="#000"/>
<rect x="518" y="583" width="1" height="23" fill="#000"/>
<rect x="519" y="588" width="1" height="18" fill="#000"/>
<rect x="521" y="601" width="1" height="5" fill="#000"/>
<rect x="522" y="583" width="1" height="23" fill="#000"/>
<rect x="523" y="596" width="1" height="10" fill="#000"/>
<rect x="534" y="586" width="1" height="20" fill="#000"/>
<rect x="535" y="592" width="1" height="14" fill="#000"/>
<rect x="536" y="601" width="1" height="5" fill="#000"/>
<rect x="537" y="589" width="1" height="17" fill="#000"/>
<rect x="538" y="604" width="1" height="2" fill="#000"/>
<rect x="550" y="604" width="1" height="2" fill="#000"/>
<rect x="551" y="578" width="1" height="28" fill="#000"/>
<rect x="552" y="591" width="1" height="15" fill="#000"/>
<rect x="566" y="590" width="1" height="16" fill="#000"/>
<rect x="567" y="589" width="1" height="17" fill="#000"/>
<rect x="568" y="581" width="1" height="25" fill="#000"/>
<rect x="569" y="594" width="1" height="12" fill="#000"/>
<rect x="90" y="557" width="482" height="1" fill="#000"/>
<rect x="90" y="606" width="482" height="1" fill="#000"/>
<rect x="90" y="617" width="482" height="1" fill="#000"/>
<rect x="90" y="628" width="482" height="1" fill="#000"/>
<rect x="90" y="639" width="482" height="1" fill="#000"/>
<rect x="90" y="650" width="482" height="1" fill="#000"/>
<rect x="90" y="661" width="482" height="1" fill="#000"/>
<rect x="90" y="557" width="1" height="105" fill="#000"/>
<rect x="571" y="557" width="1" height="105" fill="#000"/>
<rect x="91" y="651" width="1" height="10" fill="#000"/>
<rect x="570" y="651" width="1" height="10" fill="#000"/>
<rect x="111" y="651" width="1" height="10" fill="#000"/>
<rect x="142" y="651" width="1" height="10" fill="#000"/>
<rect x="173" y="651" width="1" height="10" fill="#000"/>
<rect x="204" y="651" width="1" height="10" fill="#000"/>
<rect x="235" y="651" width="1" height="10" fill="#000"/>
<rect x="266" y="651" width="1" height="10" fill="#000"/>
<rect x="297" y="651" width="1" height="10" fill="#000"/>
<rect x="328" y="651" width="1" height="10" fill="#000"/>
<rect x="359" y="651" width="1" height="10" fill="#000"/>
<rect x="390" y="651" width="1" height="10" fill="#000"/>
<rect x="421" y="651" width="1" height="10" fill="#000"/>
<rect x="451" y="651" width="1" height="10" fill="#000"/>
<rect x="482" y="651" width="1" height="10" fill="#000"/>
<rect x="513" y="651" width="1" height="10" fill="#000"/>
<rect x="544" y="651" width="1" height="10" fill="#000"/>
<rect x="91" y="662" width="1" height="4" fill="#000"/>
<rect x="111" y="662" width="1" height="4" fill="#000"/>
<rect x="131" y="662" width="1" height="4" fill="#000"/>
<rect x="151" y="662" width="1" height="4" fill="#000"/>
<rect x="171" y="662" width="1" height="4" fill="#000"/>
<rect x="191" y="662" width="1" height="4" fill="#000"/>
<rect x="211" y="662" width="1" height="4" fill="#000"/>
<rect x="231" y="662" width="1" height="4" fill="#000"/>
<rect x="251" y="662" width="1" height="4" fill="#000"/>
<rect x="271" y="662" width="1" height="4" fill="#000"/>
<rect x="291" y="662" width="1" height="4" fill="#000"/>
<rect x="311" y="662" width="1" height="4" fill="#000"/>
<rect x="331" y="662" width="1" height="4" fill="#000"/>
<rect x="351" y="662" width="1" height="4" fill="#000"/>
<rect x="371" y="662" width="1" height="4" fill="#000"/>
<rect x="391" y="662" width="1" height="4" fill="#000"/>
<rect x="411" y="662" width="1" height="4" fill="#000"/>
<rect x="431" y="662" width="1" height="4" fill="#000"/>
<rect x="451" y="662" width="1" height="4" fill="#000"/>
<rect x="471" y="662" width="1" height="4" fill="#000"/>
<rect x="491" y="662" width="1" height="4" fill="#000"/>
<rect x="511" y="662" width="1" height="4" fill="#000"/>
<rect x="531" y="662" width="1" height="4" fill="#000"/>
<rect x="551" y="662" width="1" height="4" fill="#000"/>
<rect x="571" y="662" width="1" height="4" fill="#000"/>
<rect x="88" y="557" width="2" height="1" fill="#000"/>
<rect x="88" y="574" width="2" height="1" fill="#000"/>
<rect x="88" y="590" width="2" height="1" fill="#000"/>
<rect x="88" y="606" width="2" height="1" fill="#000"/>
</g>
<text x="88.3" y="562.3" style="font-size:9.5px;letter-spacing:-0.45px" text-anchor="end">1000</text>
<text x="88.3" y="578.4" style="font-size:9.5px;letter-spacing:-0.45px" text-anchor="end">100</text>
<text x="88.3" y="594.2" style="font-size:9.5px;letter-spacing:-0.45px" text-anchor="end">10</text>
<text x="88.3" y="609.8" style="font-size:9.5px;letter-spacing:-0.45px" text-anchor="end">1</text>
<text x="91.3" y="675" style="font-size:9.5px;letter-spacing:-0.45px" text-anchor="middle">00</text>
<text x="151.3" y="675" style="font-size:9.5px;letter-spacing:-0.45px" text-anchor="middle">03</text>
<text x="211.3" y="675" style="font-size:9.5px;letter-spacing:-0.45px" text-anchor="middle">06</text>
<text x="271.3" y="675" style="font-size:9.5px;letter-spacing:-0.45px" text-anchor="middle">09</text>
<text x="331.3" y="675" style="font-size:9.5px;letter-spacing:-0.45px" text-anchor="middle">12</text>
<text x="391.3" y="675" style="font-size:9.5px;letter-spacing:-0.45px" text-anchor="middle">15</text>
<text x="451.3" y="675" style="font-size:9.5px;letter-spacing:-0.45px" text-anchor="middle">18</text>
<text x="511.3" y="675" style="font-size:9.5px;letter-spacing:-0.45px" text-anchor="middle">21</text>
<text x="565.8" y="675" style="font-size:9.5px" textLength="39.5" lengthAdjust="spacing">24 (UTC)</text>
<text x="94" y="658.6" style="font-size:7px;letter-spacing:1.1px" stroke="#000" stroke-width="0.25">00</text>
<text x="114" y="658.6" style="font-size:7px;letter-spacing:1.1px" stroke="#000" stroke-width="0.25">00</text>
<text x="145" y="658.6" style="font-size:7px;letter-spacing:1.1px" stroke="#000" stroke-width="0.25">00</text>
<text x="176" y="658.6" style="font-size:7px;letter-spacing:1.1px" stroke="#000" stroke-width="0.25">00</text>
<text x="207" y="658.6" style="font-size:7px;letter-spacing:1.1px" stroke="#000" stroke-width="0.25">00</text>
<text x="238" y="658.6" style="font-size:7px;letter-spacing:1.1px" stroke="#000" stroke-width="0.25">00</text>
<text x="269" y="658.6" style="font-size:7px;letter-spacing:1.1px" stroke="#000" stroke-width="0.25">00</text>
<text x="300" y="658.6" style="font-size:7px;letter-spacing:1.1px" stroke="#000" stroke-width="0.25">00</text>
<text x="331" y="658.6" style="font-size:7px;letter-spacing:1.1px" stroke="#000" stroke-width="0.25">00</text>
<text x="362" y="658.6" style="font-size:7px;letter-spacing:1.1px" stroke="#000" stroke-width="0.25">00</text>
<text x="393" y="658.6" style="font-size:7px;letter-spacing:1.1px" stroke="#000" stroke-width="0.25">00</text>
<text x="424" y="658.6" style="font-size:7px;letter-spacing:1.1px" stroke="#000" stroke-width="0.25">00</text>
<text x="454" y="658.6" style="font-size:7px;letter-spacing:1.1px" stroke="#000" stroke-width="0.25">00</text>
<text x="485" y="658.6" style="font-size:7px;letter-spacing:1.1px" stroke="#000" stroke-width="0.25">00</text>
<text x="516" y="658.6" style="font-size:7px;letter-spacing:1.1px" stroke="#000" stroke-width="0.25">00</text>
<text x="547" y="658.6" style="font-size:7px;letter-spacing:1.1px" stroke="#000" stroke-width="0.25">00</text>
<text x="575.9" y="583.4" style="font-size:11.2px" textLength="109.5" lengthAdjust="spacingAndGlyphs">Flash activity /3 min.</text>
<text x="575.9" y="604.9" style="font-size:11.2px" textLength="38.5" lengthAdjust="spacingAndGlyphs">STATUS:</text>
<text x="584.6" y="615.7" style="font-size:11.2px" textLength="55.5" lengthAdjust="spacingAndGlyphs">Processing</text>
<text x="584.6" y="626.6" style="font-size:11.2px" textLength="41.5" lengthAdjust="spacingAndGlyphs">External</text>
<text x="584.6" y="637.6" style="font-size:11.2px" textLength="55" lengthAdjust="spacingAndGlyphs">Instrument</text>
<text x="584.6" y="648.6" style="font-size:11.2px" textLength="43.2" lengthAdjust="spacingAndGlyphs">Platform</text>
</svg></body></html>
